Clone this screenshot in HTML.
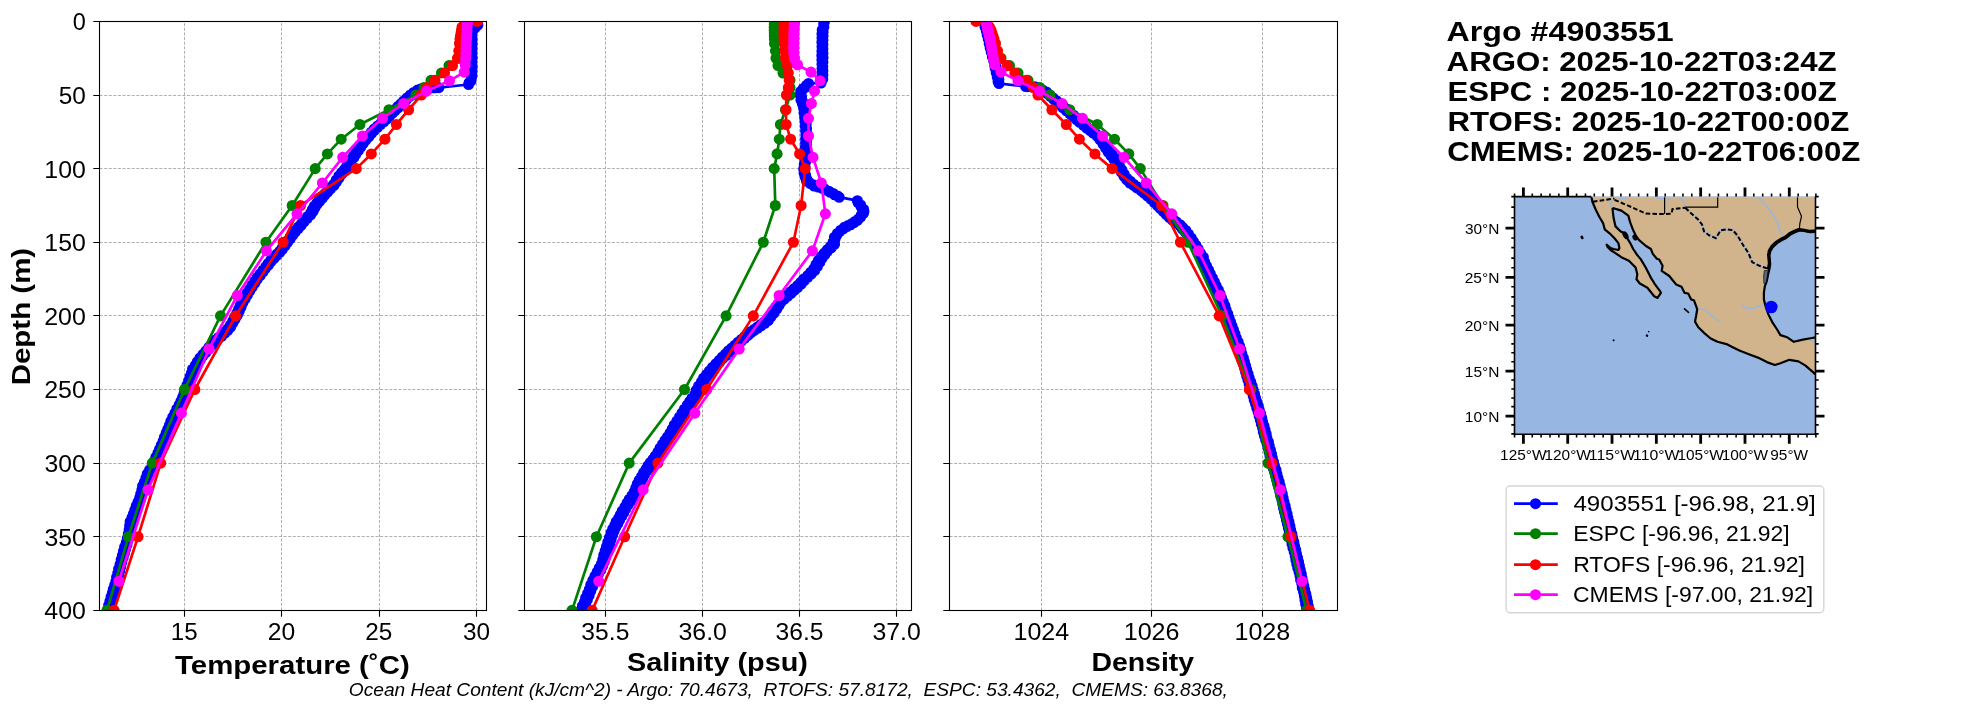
<!DOCTYPE html>
<html><head><meta charset="utf-8"><title>Argo profile</title>
<style>html,body{margin:0;padding:0;background:#fff;}svg{display:block;}text{font-family:"Liberation Sans",sans-serif;fill:#000;}</style>
</head><body>
<div style="will-change:transform;width:1967px;height:712px">
<svg width="1967" height="712" viewBox="0 0 1967 712">
<rect width="1967" height="712" fill="#fff"/>
<defs>
<clipPath id="c0"><rect x="99.5" y="21.4" width="387" height="589"/></clipPath>
<clipPath id="c1"><rect x="524.5" y="21.4" width="387" height="589"/></clipPath>
<clipPath id="c2"><rect x="949.5" y="21.4" width="388" height="589"/></clipPath>
<clipPath id="cm"><rect x="1514.5" y="196.6" width="301" height="237.6"/></clipPath>
</defs>
<path d="M99.5 21.5H486.5M99.5 95.5H486.5M99.5 168.5H486.5M99.5 242.5H486.5M99.5 315.5H486.5M99.5 389.5H486.5M99.5 463.5H486.5M99.5 536.5H486.5M99.5 610.5H486.5" stroke="#b0b0b0" stroke-width="1" stroke-dasharray="3.05 1.55" fill="none"/>
<path d="M184.5 610.5V21.5M281.5 610.5V21.5M379.5 610.5V21.5M476.5 610.5V21.5" stroke="#b0b0b0" stroke-width="1" stroke-dasharray="3.05 1.55" fill="none"/>
<path d="M524.5 21.5H911.5M524.5 95.5H911.5M524.5 168.5H911.5M524.5 242.5H911.5M524.5 315.5H911.5M524.5 389.5H911.5M524.5 463.5H911.5M524.5 536.5H911.5M524.5 610.5H911.5" stroke="#b0b0b0" stroke-width="1" stroke-dasharray="3.05 1.55" fill="none"/>
<path d="M605.5 610.5V21.5M702.5 610.5V21.5M799.5 610.5V21.5M896.5 610.5V21.5" stroke="#b0b0b0" stroke-width="1" stroke-dasharray="3.05 1.55" fill="none"/>
<path d="M949.5 21.5H1337.5M949.5 95.5H1337.5M949.5 168.5H1337.5M949.5 242.5H1337.5M949.5 315.5H1337.5M949.5 389.5H1337.5M949.5 463.5H1337.5M949.5 536.5H1337.5M949.5 610.5H1337.5" stroke="#b0b0b0" stroke-width="1" stroke-dasharray="3.05 1.55" fill="none"/>
<path d="M1041.5 610.5V21.5M1151.5 610.5V21.5M1262.5 610.5V21.5" stroke="#b0b0b0" stroke-width="1" stroke-dasharray="3.05 1.55" fill="none"/>
<g clip-path="url(#c0)"><polyline points="477.2,21.4 476.74,23 477.84,25 476.08,26.5 474.98,28 472.03,29.5 472.32,31 471.2,33 472.08,35 471.33,37.27 472.26,39.55 471.24,41.82 472.24,44.09 471.34,46.36 472.17,48.64 471.17,50.91 472.11,53.18 471.11,55.45 472.28,57.73 471.33,60 472.07,62.25 471.21,64.5 472.29,66.75 471.25,69 472.11,71.25 471.24,73.5 472.07,75.75 471.29,78 470.97,81 469.07,82.75 468.6,84.5 438.8,87.6 435.94,87.7 434.37,87.8 431.02,87.9 429.37,88 426.19,88.25 424.99,88.5 421.74,88.75 420.4,89 417.4,90.17 416.57,91.33 413.61,92.5 412.77,93.83 410.13,95.17 409.53,96.5 406.92,98 406.46,99.5 403.66,101 403.85,102.37 400.98,103.73 400.95,105.1 397.9,106.48 398.16,107.86 395.16,109.24 395.19,110.62 392.45,112 392.27,113.44 389.45,114.88 389.61,116.32 386.96,117.76 386.94,119.2 383.86,120.53 383.88,121.85 380.88,123.17 380.7,124.5 377.58,126 377.42,127.5 374.17,129 374.23,130.5 371.48,132 371.4,133.5 368.94,135 368.83,136.73 365.67,138.47 365.85,140.2 363.14,141.9 363.15,143.6 360.55,145.3 360.89,147 358.01,148.82 358.38,150.65 355.63,152.48 355.92,154.3 353.38,155.98 353.78,157.65 350.95,159.32 351.21,161 348.86,162.82 349.24,164.65 346.62,166.48 347.04,168.3 344.3,169.73 344.59,171.15 341.52,172.57 341.81,174 338.84,176 339.06,178 336.26,180 336.44,182 333.94,184 333.85,185.6 330.75,187.2 330.61,188.8 327.78,190.4 327.71,192 324.93,193.6 324.86,195.2 322.07,196.8 322.16,198.4 319.24,200 319.45,201.5 316.95,203 316.87,204.5 314.4,206 314.88,207.75 312.4,209.5 313.2,211.25 310.67,213 310.71,214.75 307.62,216.5 307.47,218.25 304.22,220 304.07,221.83 301.45,223.67 301.05,225.5 298.19,227.12 298.13,228.75 295.42,230.38 295.26,232 292.59,233.72 292.57,235.43 290.15,237.15 290.23,238.87 287.65,240.58 287.64,242.3 284.9,244.04 285.1,245.78 282.44,247.52 282.51,249.26 279.95,251 279.68,252.53 276.81,254.07 276.61,255.6 273.92,257.13 273.86,258.67 270.78,260.2 270.83,261.83 268.18,263.47 268.48,265.1 265.82,266.73 265.63,268.37 263.21,270 263.14,271.86 260.28,273.72 260.21,275.58 257.18,277.44 257.24,279.3 254.63,281.25 254.89,283.2 251.92,285.15 252.23,287.1 249.63,289.05 249.77,291 247.15,293.03 247.41,295.07 244.84,297.1 245.1,299.13 242.61,301.17 242.65,303.2 240.19,305.22 241.02,307.23 238.6,309.25 239.18,311.27 236.76,313.28 237.38,315.3 234.63,317.27 235.06,319.23 232.67,321.2 232.78,323.17 230.31,325.13 230.65,327.1 227.75,328.68 227.95,330.26 224.79,331.84 224.62,333.42 221.65,335 221.77,336.25 218.46,337.5 218.35,338.75 215.32,340 215.06,341.8 212.19,343.6 211.98,345.4 208.9,347.2 208.61,349 205.94,350.8 205.82,352.6 202.91,354.4 202.8,356.2 199.94,358 200.27,359.83 197.37,361.67 197.6,363.5 195.25,365.33 195.34,367.17 192.6,369 193.66,370.93 191.5,372.87 192.12,374.8 190.05,376.73 191.01,378.67 188.62,380.6 189.31,382.85 186.94,385.1 187.74,387.35 185.39,389.6 186.28,391.51 184.05,393.43 184.76,395.34 182.67,397.26 183.13,399.17 180.95,401.09 181.72,403 179.14,405 179.56,407 176.81,409 177.17,411 174.86,413.07 175.19,415.15 172.72,417.23 173.36,419.3 170.87,421.25 171.76,423.2 169.46,425.15 169.94,427.1 167.77,429.05 168.05,431 166.18,433.03 166.85,435.07 164.43,437.1 165.34,439.13 163.09,441.17 163.76,443.2 161.28,445.16 161.88,447.12 159.55,449.08 160.02,451.04 157.93,453 158.24,455.1 155.84,457.2 156.54,459.3 154.03,461.4 154.7,463.5 152.16,465.6 152.42,467.7 149.56,469.8 149.74,471.9 147.22,474 147.82,476 145.92,478 146.61,480 144.45,482 144.88,484 142.6,486 143.66,487.95 141.85,489.9 142.5,491.85 140.74,493.8 141.64,495.75 139.72,497.7 140.37,499.75 138.02,501.8 138.79,503.85 136.23,505.9 136.95,507.95 134.87,510 135.46,511.93 133.42,513.87 134.02,515.8 131.95,517.73 132.29,519.67 130.11,521.6 131.35,523.64 129.65,525.69 130.8,527.73 129.15,529.77 130.06,531.81 128.33,533.86 129.79,535.9 127.33,538.12 128.12,540.34 126.24,542.56 126.94,544.78 124.61,547 125.62,549.08 123.47,551.16 124.42,553.24 122.39,555.32 123.13,557.4 121.17,559.72 121.87,562.04 120.09,564.36 120.72,566.68 118.61,569 119.7,571.05 117.73,573.1 118.77,575.15 116.62,577.2 117.68,579.25 115.85,581.3 116.57,583.25 114.68,585.2 115.59,587.15 113.31,589.1 114.23,591.05 112.34,593 113.12,595.02 111.02,597.03 111.9,599.05 109.91,601.07 110.46,603.08 108.67,605.1 109.42,607.33 107.66,609.55 108.52,611.77 107.5,614" fill="none" stroke="#0000ff" stroke-width="2.7" stroke-linejoin="round"/><path d="M477.2 21.4m-5.55 0a5.55 5.55 0 1 0 11.1 0a5.55 5.55 0 1 0 -11.1 0M476.74 23m-5.55 0a5.55 5.55 0 1 0 11.1 0a5.55 5.55 0 1 0 -11.1 0M477.84 25m-5.55 0a5.55 5.55 0 1 0 11.1 0a5.55 5.55 0 1 0 -11.1 0M476.08 26.5m-5.55 0a5.55 5.55 0 1 0 11.1 0a5.55 5.55 0 1 0 -11.1 0M474.98 28m-5.55 0a5.55 5.55 0 1 0 11.1 0a5.55 5.55 0 1 0 -11.1 0M472.03 29.5m-5.55 0a5.55 5.55 0 1 0 11.1 0a5.55 5.55 0 1 0 -11.1 0M472.32 31m-5.55 0a5.55 5.55 0 1 0 11.1 0a5.55 5.55 0 1 0 -11.1 0M471.2 33m-5.55 0a5.55 5.55 0 1 0 11.1 0a5.55 5.55 0 1 0 -11.1 0M472.08 35m-5.55 0a5.55 5.55 0 1 0 11.1 0a5.55 5.55 0 1 0 -11.1 0M471.33 37.27m-5.55 0a5.55 5.55 0 1 0 11.1 0a5.55 5.55 0 1 0 -11.1 0M472.26 39.55m-5.55 0a5.55 5.55 0 1 0 11.1 0a5.55 5.55 0 1 0 -11.1 0M471.24 41.82m-5.55 0a5.55 5.55 0 1 0 11.1 0a5.55 5.55 0 1 0 -11.1 0M472.24 44.09m-5.55 0a5.55 5.55 0 1 0 11.1 0a5.55 5.55 0 1 0 -11.1 0M471.34 46.36m-5.55 0a5.55 5.55 0 1 0 11.1 0a5.55 5.55 0 1 0 -11.1 0M472.17 48.64m-5.55 0a5.55 5.55 0 1 0 11.1 0a5.55 5.55 0 1 0 -11.1 0M471.17 50.91m-5.55 0a5.55 5.55 0 1 0 11.1 0a5.55 5.55 0 1 0 -11.1 0M472.11 53.18m-5.55 0a5.55 5.55 0 1 0 11.1 0a5.55 5.55 0 1 0 -11.1 0M471.11 55.45m-5.55 0a5.55 5.55 0 1 0 11.1 0a5.55 5.55 0 1 0 -11.1 0M472.28 57.73m-5.55 0a5.55 5.55 0 1 0 11.1 0a5.55 5.55 0 1 0 -11.1 0M471.33 60m-5.55 0a5.55 5.55 0 1 0 11.1 0a5.55 5.55 0 1 0 -11.1 0M472.07 62.25m-5.55 0a5.55 5.55 0 1 0 11.1 0a5.55 5.55 0 1 0 -11.1 0M471.21 64.5m-5.55 0a5.55 5.55 0 1 0 11.1 0a5.55 5.55 0 1 0 -11.1 0M472.29 66.75m-5.55 0a5.55 5.55 0 1 0 11.1 0a5.55 5.55 0 1 0 -11.1 0M471.25 69m-5.55 0a5.55 5.55 0 1 0 11.1 0a5.55 5.55 0 1 0 -11.1 0M472.11 71.25m-5.55 0a5.55 5.55 0 1 0 11.1 0a5.55 5.55 0 1 0 -11.1 0M471.24 73.5m-5.55 0a5.55 5.55 0 1 0 11.1 0a5.55 5.55 0 1 0 -11.1 0M472.07 75.75m-5.55 0a5.55 5.55 0 1 0 11.1 0a5.55 5.55 0 1 0 -11.1 0M471.29 78m-5.55 0a5.55 5.55 0 1 0 11.1 0a5.55 5.55 0 1 0 -11.1 0M470.97 81m-5.55 0a5.55 5.55 0 1 0 11.1 0a5.55 5.55 0 1 0 -11.1 0M469.07 82.75m-5.55 0a5.55 5.55 0 1 0 11.1 0a5.55 5.55 0 1 0 -11.1 0M468.6 84.5m-5.55 0a5.55 5.55 0 1 0 11.1 0a5.55 5.55 0 1 0 -11.1 0M438.8 87.6m-5.55 0a5.55 5.55 0 1 0 11.1 0a5.55 5.55 0 1 0 -11.1 0M435.94 87.7m-5.55 0a5.55 5.55 0 1 0 11.1 0a5.55 5.55 0 1 0 -11.1 0M434.37 87.8m-5.55 0a5.55 5.55 0 1 0 11.1 0a5.55 5.55 0 1 0 -11.1 0M431.02 87.9m-5.55 0a5.55 5.55 0 1 0 11.1 0a5.55 5.55 0 1 0 -11.1 0M429.37 88m-5.55 0a5.55 5.55 0 1 0 11.1 0a5.55 5.55 0 1 0 -11.1 0M426.19 88.25m-5.55 0a5.55 5.55 0 1 0 11.1 0a5.55 5.55 0 1 0 -11.1 0M424.99 88.5m-5.55 0a5.55 5.55 0 1 0 11.1 0a5.55 5.55 0 1 0 -11.1 0M421.74 88.75m-5.55 0a5.55 5.55 0 1 0 11.1 0a5.55 5.55 0 1 0 -11.1 0M420.4 89m-5.55 0a5.55 5.55 0 1 0 11.1 0a5.55 5.55 0 1 0 -11.1 0M417.4 90.17m-5.55 0a5.55 5.55 0 1 0 11.1 0a5.55 5.55 0 1 0 -11.1 0M416.57 91.33m-5.55 0a5.55 5.55 0 1 0 11.1 0a5.55 5.55 0 1 0 -11.1 0M413.61 92.5m-5.55 0a5.55 5.55 0 1 0 11.1 0a5.55 5.55 0 1 0 -11.1 0M412.77 93.83m-5.55 0a5.55 5.55 0 1 0 11.1 0a5.55 5.55 0 1 0 -11.1 0M410.13 95.17m-5.55 0a5.55 5.55 0 1 0 11.1 0a5.55 5.55 0 1 0 -11.1 0M409.53 96.5m-5.55 0a5.55 5.55 0 1 0 11.1 0a5.55 5.55 0 1 0 -11.1 0M406.92 98m-5.55 0a5.55 5.55 0 1 0 11.1 0a5.55 5.55 0 1 0 -11.1 0M406.46 99.5m-5.55 0a5.55 5.55 0 1 0 11.1 0a5.55 5.55 0 1 0 -11.1 0M403.66 101m-5.55 0a5.55 5.55 0 1 0 11.1 0a5.55 5.55 0 1 0 -11.1 0M403.85 102.37m-5.55 0a5.55 5.55 0 1 0 11.1 0a5.55 5.55 0 1 0 -11.1 0M400.98 103.73m-5.55 0a5.55 5.55 0 1 0 11.1 0a5.55 5.55 0 1 0 -11.1 0M400.95 105.1m-5.55 0a5.55 5.55 0 1 0 11.1 0a5.55 5.55 0 1 0 -11.1 0M397.9 106.48m-5.55 0a5.55 5.55 0 1 0 11.1 0a5.55 5.55 0 1 0 -11.1 0M398.16 107.86m-5.55 0a5.55 5.55 0 1 0 11.1 0a5.55 5.55 0 1 0 -11.1 0M395.16 109.24m-5.55 0a5.55 5.55 0 1 0 11.1 0a5.55 5.55 0 1 0 -11.1 0M395.19 110.62m-5.55 0a5.55 5.55 0 1 0 11.1 0a5.55 5.55 0 1 0 -11.1 0M392.45 112m-5.55 0a5.55 5.55 0 1 0 11.1 0a5.55 5.55 0 1 0 -11.1 0M392.27 113.44m-5.55 0a5.55 5.55 0 1 0 11.1 0a5.55 5.55 0 1 0 -11.1 0M389.45 114.88m-5.55 0a5.55 5.55 0 1 0 11.1 0a5.55 5.55 0 1 0 -11.1 0M389.61 116.32m-5.55 0a5.55 5.55 0 1 0 11.1 0a5.55 5.55 0 1 0 -11.1 0M386.96 117.76m-5.55 0a5.55 5.55 0 1 0 11.1 0a5.55 5.55 0 1 0 -11.1 0M386.94 119.2m-5.55 0a5.55 5.55 0 1 0 11.1 0a5.55 5.55 0 1 0 -11.1 0M383.86 120.53m-5.55 0a5.55 5.55 0 1 0 11.1 0a5.55 5.55 0 1 0 -11.1 0M383.88 121.85m-5.55 0a5.55 5.55 0 1 0 11.1 0a5.55 5.55 0 1 0 -11.1 0M380.88 123.17m-5.55 0a5.55 5.55 0 1 0 11.1 0a5.55 5.55 0 1 0 -11.1 0M380.7 124.5m-5.55 0a5.55 5.55 0 1 0 11.1 0a5.55 5.55 0 1 0 -11.1 0M377.58 126m-5.55 0a5.55 5.55 0 1 0 11.1 0a5.55 5.55 0 1 0 -11.1 0M377.42 127.5m-5.55 0a5.55 5.55 0 1 0 11.1 0a5.55 5.55 0 1 0 -11.1 0M374.17 129m-5.55 0a5.55 5.55 0 1 0 11.1 0a5.55 5.55 0 1 0 -11.1 0M374.23 130.5m-5.55 0a5.55 5.55 0 1 0 11.1 0a5.55 5.55 0 1 0 -11.1 0M371.48 132m-5.55 0a5.55 5.55 0 1 0 11.1 0a5.55 5.55 0 1 0 -11.1 0M371.4 133.5m-5.55 0a5.55 5.55 0 1 0 11.1 0a5.55 5.55 0 1 0 -11.1 0M368.94 135m-5.55 0a5.55 5.55 0 1 0 11.1 0a5.55 5.55 0 1 0 -11.1 0M368.83 136.73m-5.55 0a5.55 5.55 0 1 0 11.1 0a5.55 5.55 0 1 0 -11.1 0M365.67 138.47m-5.55 0a5.55 5.55 0 1 0 11.1 0a5.55 5.55 0 1 0 -11.1 0M365.85 140.2m-5.55 0a5.55 5.55 0 1 0 11.1 0a5.55 5.55 0 1 0 -11.1 0M363.14 141.9m-5.55 0a5.55 5.55 0 1 0 11.1 0a5.55 5.55 0 1 0 -11.1 0M363.15 143.6m-5.55 0a5.55 5.55 0 1 0 11.1 0a5.55 5.55 0 1 0 -11.1 0M360.55 145.3m-5.55 0a5.55 5.55 0 1 0 11.1 0a5.55 5.55 0 1 0 -11.1 0M360.89 147m-5.55 0a5.55 5.55 0 1 0 11.1 0a5.55 5.55 0 1 0 -11.1 0M358.01 148.82m-5.55 0a5.55 5.55 0 1 0 11.1 0a5.55 5.55 0 1 0 -11.1 0M358.38 150.65m-5.55 0a5.55 5.55 0 1 0 11.1 0a5.55 5.55 0 1 0 -11.1 0M355.63 152.48m-5.55 0a5.55 5.55 0 1 0 11.1 0a5.55 5.55 0 1 0 -11.1 0M355.92 154.3m-5.55 0a5.55 5.55 0 1 0 11.1 0a5.55 5.55 0 1 0 -11.1 0M353.38 155.98m-5.55 0a5.55 5.55 0 1 0 11.1 0a5.55 5.55 0 1 0 -11.1 0M353.78 157.65m-5.55 0a5.55 5.55 0 1 0 11.1 0a5.55 5.55 0 1 0 -11.1 0M350.95 159.32m-5.55 0a5.55 5.55 0 1 0 11.1 0a5.55 5.55 0 1 0 -11.1 0M351.21 161m-5.55 0a5.55 5.55 0 1 0 11.1 0a5.55 5.55 0 1 0 -11.1 0M348.86 162.82m-5.55 0a5.55 5.55 0 1 0 11.1 0a5.55 5.55 0 1 0 -11.1 0M349.24 164.65m-5.55 0a5.55 5.55 0 1 0 11.1 0a5.55 5.55 0 1 0 -11.1 0M346.62 166.48m-5.55 0a5.55 5.55 0 1 0 11.1 0a5.55 5.55 0 1 0 -11.1 0M347.04 168.3m-5.55 0a5.55 5.55 0 1 0 11.1 0a5.55 5.55 0 1 0 -11.1 0M344.3 169.73m-5.55 0a5.55 5.55 0 1 0 11.1 0a5.55 5.55 0 1 0 -11.1 0M344.59 171.15m-5.55 0a5.55 5.55 0 1 0 11.1 0a5.55 5.55 0 1 0 -11.1 0M341.52 172.57m-5.55 0a5.55 5.55 0 1 0 11.1 0a5.55 5.55 0 1 0 -11.1 0M341.81 174m-5.55 0a5.55 5.55 0 1 0 11.1 0a5.55 5.55 0 1 0 -11.1 0M338.84 176m-5.55 0a5.55 5.55 0 1 0 11.1 0a5.55 5.55 0 1 0 -11.1 0M339.06 178m-5.55 0a5.55 5.55 0 1 0 11.1 0a5.55 5.55 0 1 0 -11.1 0M336.26 180m-5.55 0a5.55 5.55 0 1 0 11.1 0a5.55 5.55 0 1 0 -11.1 0M336.44 182m-5.55 0a5.55 5.55 0 1 0 11.1 0a5.55 5.55 0 1 0 -11.1 0M333.94 184m-5.55 0a5.55 5.55 0 1 0 11.1 0a5.55 5.55 0 1 0 -11.1 0M333.85 185.6m-5.55 0a5.55 5.55 0 1 0 11.1 0a5.55 5.55 0 1 0 -11.1 0M330.75 187.2m-5.55 0a5.55 5.55 0 1 0 11.1 0a5.55 5.55 0 1 0 -11.1 0M330.61 188.8m-5.55 0a5.55 5.55 0 1 0 11.1 0a5.55 5.55 0 1 0 -11.1 0M327.78 190.4m-5.55 0a5.55 5.55 0 1 0 11.1 0a5.55 5.55 0 1 0 -11.1 0M327.71 192m-5.55 0a5.55 5.55 0 1 0 11.1 0a5.55 5.55 0 1 0 -11.1 0M324.93 193.6m-5.55 0a5.55 5.55 0 1 0 11.1 0a5.55 5.55 0 1 0 -11.1 0M324.86 195.2m-5.55 0a5.55 5.55 0 1 0 11.1 0a5.55 5.55 0 1 0 -11.1 0M322.07 196.8m-5.55 0a5.55 5.55 0 1 0 11.1 0a5.55 5.55 0 1 0 -11.1 0M322.16 198.4m-5.55 0a5.55 5.55 0 1 0 11.1 0a5.55 5.55 0 1 0 -11.1 0M319.24 200m-5.55 0a5.55 5.55 0 1 0 11.1 0a5.55 5.55 0 1 0 -11.1 0M319.45 201.5m-5.55 0a5.55 5.55 0 1 0 11.1 0a5.55 5.55 0 1 0 -11.1 0M316.95 203m-5.55 0a5.55 5.55 0 1 0 11.1 0a5.55 5.55 0 1 0 -11.1 0M316.87 204.5m-5.55 0a5.55 5.55 0 1 0 11.1 0a5.55 5.55 0 1 0 -11.1 0M314.4 206m-5.55 0a5.55 5.55 0 1 0 11.1 0a5.55 5.55 0 1 0 -11.1 0M314.88 207.75m-5.55 0a5.55 5.55 0 1 0 11.1 0a5.55 5.55 0 1 0 -11.1 0M312.4 209.5m-5.55 0a5.55 5.55 0 1 0 11.1 0a5.55 5.55 0 1 0 -11.1 0M313.2 211.25m-5.55 0a5.55 5.55 0 1 0 11.1 0a5.55 5.55 0 1 0 -11.1 0M310.67 213m-5.55 0a5.55 5.55 0 1 0 11.1 0a5.55 5.55 0 1 0 -11.1 0M310.71 214.75m-5.55 0a5.55 5.55 0 1 0 11.1 0a5.55 5.55 0 1 0 -11.1 0M307.62 216.5m-5.55 0a5.55 5.55 0 1 0 11.1 0a5.55 5.55 0 1 0 -11.1 0M307.47 218.25m-5.55 0a5.55 5.55 0 1 0 11.1 0a5.55 5.55 0 1 0 -11.1 0M304.22 220m-5.55 0a5.55 5.55 0 1 0 11.1 0a5.55 5.55 0 1 0 -11.1 0M304.07 221.83m-5.55 0a5.55 5.55 0 1 0 11.1 0a5.55 5.55 0 1 0 -11.1 0M301.45 223.67m-5.55 0a5.55 5.55 0 1 0 11.1 0a5.55 5.55 0 1 0 -11.1 0M301.05 225.5m-5.55 0a5.55 5.55 0 1 0 11.1 0a5.55 5.55 0 1 0 -11.1 0M298.19 227.12m-5.55 0a5.55 5.55 0 1 0 11.1 0a5.55 5.55 0 1 0 -11.1 0M298.13 228.75m-5.55 0a5.55 5.55 0 1 0 11.1 0a5.55 5.55 0 1 0 -11.1 0M295.42 230.38m-5.55 0a5.55 5.55 0 1 0 11.1 0a5.55 5.55 0 1 0 -11.1 0M295.26 232m-5.55 0a5.55 5.55 0 1 0 11.1 0a5.55 5.55 0 1 0 -11.1 0M292.59 233.72m-5.55 0a5.55 5.55 0 1 0 11.1 0a5.55 5.55 0 1 0 -11.1 0M292.57 235.43m-5.55 0a5.55 5.55 0 1 0 11.1 0a5.55 5.55 0 1 0 -11.1 0M290.15 237.15m-5.55 0a5.55 5.55 0 1 0 11.1 0a5.55 5.55 0 1 0 -11.1 0M290.23 238.87m-5.55 0a5.55 5.55 0 1 0 11.1 0a5.55 5.55 0 1 0 -11.1 0M287.65 240.58m-5.55 0a5.55 5.55 0 1 0 11.1 0a5.55 5.55 0 1 0 -11.1 0M287.64 242.3m-5.55 0a5.55 5.55 0 1 0 11.1 0a5.55 5.55 0 1 0 -11.1 0M284.9 244.04m-5.55 0a5.55 5.55 0 1 0 11.1 0a5.55 5.55 0 1 0 -11.1 0M285.1 245.78m-5.55 0a5.55 5.55 0 1 0 11.1 0a5.55 5.55 0 1 0 -11.1 0M282.44 247.52m-5.55 0a5.55 5.55 0 1 0 11.1 0a5.55 5.55 0 1 0 -11.1 0M282.51 249.26m-5.55 0a5.55 5.55 0 1 0 11.1 0a5.55 5.55 0 1 0 -11.1 0M279.95 251m-5.55 0a5.55 5.55 0 1 0 11.1 0a5.55 5.55 0 1 0 -11.1 0M279.68 252.53m-5.55 0a5.55 5.55 0 1 0 11.1 0a5.55 5.55 0 1 0 -11.1 0M276.81 254.07m-5.55 0a5.55 5.55 0 1 0 11.1 0a5.55 5.55 0 1 0 -11.1 0M276.61 255.6m-5.55 0a5.55 5.55 0 1 0 11.1 0a5.55 5.55 0 1 0 -11.1 0M273.92 257.13m-5.55 0a5.55 5.55 0 1 0 11.1 0a5.55 5.55 0 1 0 -11.1 0M273.86 258.67m-5.55 0a5.55 5.55 0 1 0 11.1 0a5.55 5.55 0 1 0 -11.1 0M270.78 260.2m-5.55 0a5.55 5.55 0 1 0 11.1 0a5.55 5.55 0 1 0 -11.1 0M270.83 261.83m-5.55 0a5.55 5.55 0 1 0 11.1 0a5.55 5.55 0 1 0 -11.1 0M268.18 263.47m-5.55 0a5.55 5.55 0 1 0 11.1 0a5.55 5.55 0 1 0 -11.1 0M268.48 265.1m-5.55 0a5.55 5.55 0 1 0 11.1 0a5.55 5.55 0 1 0 -11.1 0M265.82 266.73m-5.55 0a5.55 5.55 0 1 0 11.1 0a5.55 5.55 0 1 0 -11.1 0M265.63 268.37m-5.55 0a5.55 5.55 0 1 0 11.1 0a5.55 5.55 0 1 0 -11.1 0M263.21 270m-5.55 0a5.55 5.55 0 1 0 11.1 0a5.55 5.55 0 1 0 -11.1 0M263.14 271.86m-5.55 0a5.55 5.55 0 1 0 11.1 0a5.55 5.55 0 1 0 -11.1 0M260.28 273.72m-5.55 0a5.55 5.55 0 1 0 11.1 0a5.55 5.55 0 1 0 -11.1 0M260.21 275.58m-5.55 0a5.55 5.55 0 1 0 11.1 0a5.55 5.55 0 1 0 -11.1 0M257.18 277.44m-5.55 0a5.55 5.55 0 1 0 11.1 0a5.55 5.55 0 1 0 -11.1 0M257.24 279.3m-5.55 0a5.55 5.55 0 1 0 11.1 0a5.55 5.55 0 1 0 -11.1 0M254.63 281.25m-5.55 0a5.55 5.55 0 1 0 11.1 0a5.55 5.55 0 1 0 -11.1 0M254.89 283.2m-5.55 0a5.55 5.55 0 1 0 11.1 0a5.55 5.55 0 1 0 -11.1 0M251.92 285.15m-5.55 0a5.55 5.55 0 1 0 11.1 0a5.55 5.55 0 1 0 -11.1 0M252.23 287.1m-5.55 0a5.55 5.55 0 1 0 11.1 0a5.55 5.55 0 1 0 -11.1 0M249.63 289.05m-5.55 0a5.55 5.55 0 1 0 11.1 0a5.55 5.55 0 1 0 -11.1 0M249.77 291m-5.55 0a5.55 5.55 0 1 0 11.1 0a5.55 5.55 0 1 0 -11.1 0M247.15 293.03m-5.55 0a5.55 5.55 0 1 0 11.1 0a5.55 5.55 0 1 0 -11.1 0M247.41 295.07m-5.55 0a5.55 5.55 0 1 0 11.1 0a5.55 5.55 0 1 0 -11.1 0M244.84 297.1m-5.55 0a5.55 5.55 0 1 0 11.1 0a5.55 5.55 0 1 0 -11.1 0M245.1 299.13m-5.55 0a5.55 5.55 0 1 0 11.1 0a5.55 5.55 0 1 0 -11.1 0M242.61 301.17m-5.55 0a5.55 5.55 0 1 0 11.1 0a5.55 5.55 0 1 0 -11.1 0M242.65 303.2m-5.55 0a5.55 5.55 0 1 0 11.1 0a5.55 5.55 0 1 0 -11.1 0M240.19 305.22m-5.55 0a5.55 5.55 0 1 0 11.1 0a5.55 5.55 0 1 0 -11.1 0M241.02 307.23m-5.55 0a5.55 5.55 0 1 0 11.1 0a5.55 5.55 0 1 0 -11.1 0M238.6 309.25m-5.55 0a5.55 5.55 0 1 0 11.1 0a5.55 5.55 0 1 0 -11.1 0M239.18 311.27m-5.55 0a5.55 5.55 0 1 0 11.1 0a5.55 5.55 0 1 0 -11.1 0M236.76 313.28m-5.55 0a5.55 5.55 0 1 0 11.1 0a5.55 5.55 0 1 0 -11.1 0M237.38 315.3m-5.55 0a5.55 5.55 0 1 0 11.1 0a5.55 5.55 0 1 0 -11.1 0M234.63 317.27m-5.55 0a5.55 5.55 0 1 0 11.1 0a5.55 5.55 0 1 0 -11.1 0M235.06 319.23m-5.55 0a5.55 5.55 0 1 0 11.1 0a5.55 5.55 0 1 0 -11.1 0M232.67 321.2m-5.55 0a5.55 5.55 0 1 0 11.1 0a5.55 5.55 0 1 0 -11.1 0M232.78 323.17m-5.55 0a5.55 5.55 0 1 0 11.1 0a5.55 5.55 0 1 0 -11.1 0M230.31 325.13m-5.55 0a5.55 5.55 0 1 0 11.1 0a5.55 5.55 0 1 0 -11.1 0M230.65 327.1m-5.55 0a5.55 5.55 0 1 0 11.1 0a5.55 5.55 0 1 0 -11.1 0M227.75 328.68m-5.55 0a5.55 5.55 0 1 0 11.1 0a5.55 5.55 0 1 0 -11.1 0M227.95 330.26m-5.55 0a5.55 5.55 0 1 0 11.1 0a5.55 5.55 0 1 0 -11.1 0M224.79 331.84m-5.55 0a5.55 5.55 0 1 0 11.1 0a5.55 5.55 0 1 0 -11.1 0M224.62 333.42m-5.55 0a5.55 5.55 0 1 0 11.1 0a5.55 5.55 0 1 0 -11.1 0M221.65 335m-5.55 0a5.55 5.55 0 1 0 11.1 0a5.55 5.55 0 1 0 -11.1 0M221.77 336.25m-5.55 0a5.55 5.55 0 1 0 11.1 0a5.55 5.55 0 1 0 -11.1 0M218.46 337.5m-5.55 0a5.55 5.55 0 1 0 11.1 0a5.55 5.55 0 1 0 -11.1 0M218.35 338.75m-5.55 0a5.55 5.55 0 1 0 11.1 0a5.55 5.55 0 1 0 -11.1 0M215.32 340m-5.55 0a5.55 5.55 0 1 0 11.1 0a5.55 5.55 0 1 0 -11.1 0M215.06 341.8m-5.55 0a5.55 5.55 0 1 0 11.1 0a5.55 5.55 0 1 0 -11.1 0M212.19 343.6m-5.55 0a5.55 5.55 0 1 0 11.1 0a5.55 5.55 0 1 0 -11.1 0M211.98 345.4m-5.55 0a5.55 5.55 0 1 0 11.1 0a5.55 5.55 0 1 0 -11.1 0M208.9 347.2m-5.55 0a5.55 5.55 0 1 0 11.1 0a5.55 5.55 0 1 0 -11.1 0M208.61 349m-5.55 0a5.55 5.55 0 1 0 11.1 0a5.55 5.55 0 1 0 -11.1 0M205.94 350.8m-5.55 0a5.55 5.55 0 1 0 11.1 0a5.55 5.55 0 1 0 -11.1 0M205.82 352.6m-5.55 0a5.55 5.55 0 1 0 11.1 0a5.55 5.55 0 1 0 -11.1 0M202.91 354.4m-5.55 0a5.55 5.55 0 1 0 11.1 0a5.55 5.55 0 1 0 -11.1 0M202.8 356.2m-5.55 0a5.55 5.55 0 1 0 11.1 0a5.55 5.55 0 1 0 -11.1 0M199.94 358m-5.55 0a5.55 5.55 0 1 0 11.1 0a5.55 5.55 0 1 0 -11.1 0M200.27 359.83m-5.55 0a5.55 5.55 0 1 0 11.1 0a5.55 5.55 0 1 0 -11.1 0M197.37 361.67m-5.55 0a5.55 5.55 0 1 0 11.1 0a5.55 5.55 0 1 0 -11.1 0M197.6 363.5m-5.55 0a5.55 5.55 0 1 0 11.1 0a5.55 5.55 0 1 0 -11.1 0M195.25 365.33m-5.55 0a5.55 5.55 0 1 0 11.1 0a5.55 5.55 0 1 0 -11.1 0M195.34 367.17m-5.55 0a5.55 5.55 0 1 0 11.1 0a5.55 5.55 0 1 0 -11.1 0M192.6 369m-5.55 0a5.55 5.55 0 1 0 11.1 0a5.55 5.55 0 1 0 -11.1 0M193.66 370.93m-5.55 0a5.55 5.55 0 1 0 11.1 0a5.55 5.55 0 1 0 -11.1 0M191.5 372.87m-5.55 0a5.55 5.55 0 1 0 11.1 0a5.55 5.55 0 1 0 -11.1 0M192.12 374.8m-5.55 0a5.55 5.55 0 1 0 11.1 0a5.55 5.55 0 1 0 -11.1 0M190.05 376.73m-5.55 0a5.55 5.55 0 1 0 11.1 0a5.55 5.55 0 1 0 -11.1 0M191.01 378.67m-5.55 0a5.55 5.55 0 1 0 11.1 0a5.55 5.55 0 1 0 -11.1 0M188.62 380.6m-5.55 0a5.55 5.55 0 1 0 11.1 0a5.55 5.55 0 1 0 -11.1 0M189.31 382.85m-5.55 0a5.55 5.55 0 1 0 11.1 0a5.55 5.55 0 1 0 -11.1 0M186.94 385.1m-5.55 0a5.55 5.55 0 1 0 11.1 0a5.55 5.55 0 1 0 -11.1 0M187.74 387.35m-5.55 0a5.55 5.55 0 1 0 11.1 0a5.55 5.55 0 1 0 -11.1 0M185.39 389.6m-5.55 0a5.55 5.55 0 1 0 11.1 0a5.55 5.55 0 1 0 -11.1 0M186.28 391.51m-5.55 0a5.55 5.55 0 1 0 11.1 0a5.55 5.55 0 1 0 -11.1 0M184.05 393.43m-5.55 0a5.55 5.55 0 1 0 11.1 0a5.55 5.55 0 1 0 -11.1 0M184.76 395.34m-5.55 0a5.55 5.55 0 1 0 11.1 0a5.55 5.55 0 1 0 -11.1 0M182.67 397.26m-5.55 0a5.55 5.55 0 1 0 11.1 0a5.55 5.55 0 1 0 -11.1 0M183.13 399.17m-5.55 0a5.55 5.55 0 1 0 11.1 0a5.55 5.55 0 1 0 -11.1 0M180.95 401.09m-5.55 0a5.55 5.55 0 1 0 11.1 0a5.55 5.55 0 1 0 -11.1 0M181.72 403m-5.55 0a5.55 5.55 0 1 0 11.1 0a5.55 5.55 0 1 0 -11.1 0M179.14 405m-5.55 0a5.55 5.55 0 1 0 11.1 0a5.55 5.55 0 1 0 -11.1 0M179.56 407m-5.55 0a5.55 5.55 0 1 0 11.1 0a5.55 5.55 0 1 0 -11.1 0M176.81 409m-5.55 0a5.55 5.55 0 1 0 11.1 0a5.55 5.55 0 1 0 -11.1 0M177.17 411m-5.55 0a5.55 5.55 0 1 0 11.1 0a5.55 5.55 0 1 0 -11.1 0M174.86 413.07m-5.55 0a5.55 5.55 0 1 0 11.1 0a5.55 5.55 0 1 0 -11.1 0M175.19 415.15m-5.55 0a5.55 5.55 0 1 0 11.1 0a5.55 5.55 0 1 0 -11.1 0M172.72 417.23m-5.55 0a5.55 5.55 0 1 0 11.1 0a5.55 5.55 0 1 0 -11.1 0M173.36 419.3m-5.55 0a5.55 5.55 0 1 0 11.1 0a5.55 5.55 0 1 0 -11.1 0M170.87 421.25m-5.55 0a5.55 5.55 0 1 0 11.1 0a5.55 5.55 0 1 0 -11.1 0M171.76 423.2m-5.55 0a5.55 5.55 0 1 0 11.1 0a5.55 5.55 0 1 0 -11.1 0M169.46 425.15m-5.55 0a5.55 5.55 0 1 0 11.1 0a5.55 5.55 0 1 0 -11.1 0M169.94 427.1m-5.55 0a5.55 5.55 0 1 0 11.1 0a5.55 5.55 0 1 0 -11.1 0M167.77 429.05m-5.55 0a5.55 5.55 0 1 0 11.1 0a5.55 5.55 0 1 0 -11.1 0M168.05 431m-5.55 0a5.55 5.55 0 1 0 11.1 0a5.55 5.55 0 1 0 -11.1 0M166.18 433.03m-5.55 0a5.55 5.55 0 1 0 11.1 0a5.55 5.55 0 1 0 -11.1 0M166.85 435.07m-5.55 0a5.55 5.55 0 1 0 11.1 0a5.55 5.55 0 1 0 -11.1 0M164.43 437.1m-5.55 0a5.55 5.55 0 1 0 11.1 0a5.55 5.55 0 1 0 -11.1 0M165.34 439.13m-5.55 0a5.55 5.55 0 1 0 11.1 0a5.55 5.55 0 1 0 -11.1 0M163.09 441.17m-5.55 0a5.55 5.55 0 1 0 11.1 0a5.55 5.55 0 1 0 -11.1 0M163.76 443.2m-5.55 0a5.55 5.55 0 1 0 11.1 0a5.55 5.55 0 1 0 -11.1 0M161.28 445.16m-5.55 0a5.55 5.55 0 1 0 11.1 0a5.55 5.55 0 1 0 -11.1 0M161.88 447.12m-5.55 0a5.55 5.55 0 1 0 11.1 0a5.55 5.55 0 1 0 -11.1 0M159.55 449.08m-5.55 0a5.55 5.55 0 1 0 11.1 0a5.55 5.55 0 1 0 -11.1 0M160.02 451.04m-5.55 0a5.55 5.55 0 1 0 11.1 0a5.55 5.55 0 1 0 -11.1 0M157.93 453m-5.55 0a5.55 5.55 0 1 0 11.1 0a5.55 5.55 0 1 0 -11.1 0M158.24 455.1m-5.55 0a5.55 5.55 0 1 0 11.1 0a5.55 5.55 0 1 0 -11.1 0M155.84 457.2m-5.55 0a5.55 5.55 0 1 0 11.1 0a5.55 5.55 0 1 0 -11.1 0M156.54 459.3m-5.55 0a5.55 5.55 0 1 0 11.1 0a5.55 5.55 0 1 0 -11.1 0M154.03 461.4m-5.55 0a5.55 5.55 0 1 0 11.1 0a5.55 5.55 0 1 0 -11.1 0M154.7 463.5m-5.55 0a5.55 5.55 0 1 0 11.1 0a5.55 5.55 0 1 0 -11.1 0M152.16 465.6m-5.55 0a5.55 5.55 0 1 0 11.1 0a5.55 5.55 0 1 0 -11.1 0M152.42 467.7m-5.55 0a5.55 5.55 0 1 0 11.1 0a5.55 5.55 0 1 0 -11.1 0M149.56 469.8m-5.55 0a5.55 5.55 0 1 0 11.1 0a5.55 5.55 0 1 0 -11.1 0M149.74 471.9m-5.55 0a5.55 5.55 0 1 0 11.1 0a5.55 5.55 0 1 0 -11.1 0M147.22 474m-5.55 0a5.55 5.55 0 1 0 11.1 0a5.55 5.55 0 1 0 -11.1 0M147.82 476m-5.55 0a5.55 5.55 0 1 0 11.1 0a5.55 5.55 0 1 0 -11.1 0M145.92 478m-5.55 0a5.55 5.55 0 1 0 11.1 0a5.55 5.55 0 1 0 -11.1 0M146.61 480m-5.55 0a5.55 5.55 0 1 0 11.1 0a5.55 5.55 0 1 0 -11.1 0M144.45 482m-5.55 0a5.55 5.55 0 1 0 11.1 0a5.55 5.55 0 1 0 -11.1 0M144.88 484m-5.55 0a5.55 5.55 0 1 0 11.1 0a5.55 5.55 0 1 0 -11.1 0M142.6 486m-5.55 0a5.55 5.55 0 1 0 11.1 0a5.55 5.55 0 1 0 -11.1 0M143.66 487.95m-5.55 0a5.55 5.55 0 1 0 11.1 0a5.55 5.55 0 1 0 -11.1 0M141.85 489.9m-5.55 0a5.55 5.55 0 1 0 11.1 0a5.55 5.55 0 1 0 -11.1 0M142.5 491.85m-5.55 0a5.55 5.55 0 1 0 11.1 0a5.55 5.55 0 1 0 -11.1 0M140.74 493.8m-5.55 0a5.55 5.55 0 1 0 11.1 0a5.55 5.55 0 1 0 -11.1 0M141.64 495.75m-5.55 0a5.55 5.55 0 1 0 11.1 0a5.55 5.55 0 1 0 -11.1 0M139.72 497.7m-5.55 0a5.55 5.55 0 1 0 11.1 0a5.55 5.55 0 1 0 -11.1 0M140.37 499.75m-5.55 0a5.55 5.55 0 1 0 11.1 0a5.55 5.55 0 1 0 -11.1 0M138.02 501.8m-5.55 0a5.55 5.55 0 1 0 11.1 0a5.55 5.55 0 1 0 -11.1 0M138.79 503.85m-5.55 0a5.55 5.55 0 1 0 11.1 0a5.55 5.55 0 1 0 -11.1 0M136.23 505.9m-5.55 0a5.55 5.55 0 1 0 11.1 0a5.55 5.55 0 1 0 -11.1 0M136.95 507.95m-5.55 0a5.55 5.55 0 1 0 11.1 0a5.55 5.55 0 1 0 -11.1 0M134.87 510m-5.55 0a5.55 5.55 0 1 0 11.1 0a5.55 5.55 0 1 0 -11.1 0M135.46 511.93m-5.55 0a5.55 5.55 0 1 0 11.1 0a5.55 5.55 0 1 0 -11.1 0M133.42 513.87m-5.55 0a5.55 5.55 0 1 0 11.1 0a5.55 5.55 0 1 0 -11.1 0M134.02 515.8m-5.55 0a5.55 5.55 0 1 0 11.1 0a5.55 5.55 0 1 0 -11.1 0M131.95 517.73m-5.55 0a5.55 5.55 0 1 0 11.1 0a5.55 5.55 0 1 0 -11.1 0M132.29 519.67m-5.55 0a5.55 5.55 0 1 0 11.1 0a5.55 5.55 0 1 0 -11.1 0M130.11 521.6m-5.55 0a5.55 5.55 0 1 0 11.1 0a5.55 5.55 0 1 0 -11.1 0M131.35 523.64m-5.55 0a5.55 5.55 0 1 0 11.1 0a5.55 5.55 0 1 0 -11.1 0M129.65 525.69m-5.55 0a5.55 5.55 0 1 0 11.1 0a5.55 5.55 0 1 0 -11.1 0M130.8 527.73m-5.55 0a5.55 5.55 0 1 0 11.1 0a5.55 5.55 0 1 0 -11.1 0M129.15 529.77m-5.55 0a5.55 5.55 0 1 0 11.1 0a5.55 5.55 0 1 0 -11.1 0M130.06 531.81m-5.55 0a5.55 5.55 0 1 0 11.1 0a5.55 5.55 0 1 0 -11.1 0M128.33 533.86m-5.55 0a5.55 5.55 0 1 0 11.1 0a5.55 5.55 0 1 0 -11.1 0M129.79 535.9m-5.55 0a5.55 5.55 0 1 0 11.1 0a5.55 5.55 0 1 0 -11.1 0M127.33 538.12m-5.55 0a5.55 5.55 0 1 0 11.1 0a5.55 5.55 0 1 0 -11.1 0M128.12 540.34m-5.55 0a5.55 5.55 0 1 0 11.1 0a5.55 5.55 0 1 0 -11.1 0M126.24 542.56m-5.55 0a5.55 5.55 0 1 0 11.1 0a5.55 5.55 0 1 0 -11.1 0M126.94 544.78m-5.55 0a5.55 5.55 0 1 0 11.1 0a5.55 5.55 0 1 0 -11.1 0M124.61 547m-5.55 0a5.55 5.55 0 1 0 11.1 0a5.55 5.55 0 1 0 -11.1 0M125.62 549.08m-5.55 0a5.55 5.55 0 1 0 11.1 0a5.55 5.55 0 1 0 -11.1 0M123.47 551.16m-5.55 0a5.55 5.55 0 1 0 11.1 0a5.55 5.55 0 1 0 -11.1 0M124.42 553.24m-5.55 0a5.55 5.55 0 1 0 11.1 0a5.55 5.55 0 1 0 -11.1 0M122.39 555.32m-5.55 0a5.55 5.55 0 1 0 11.1 0a5.55 5.55 0 1 0 -11.1 0M123.13 557.4m-5.55 0a5.55 5.55 0 1 0 11.1 0a5.55 5.55 0 1 0 -11.1 0M121.17 559.72m-5.55 0a5.55 5.55 0 1 0 11.1 0a5.55 5.55 0 1 0 -11.1 0M121.87 562.04m-5.55 0a5.55 5.55 0 1 0 11.1 0a5.55 5.55 0 1 0 -11.1 0M120.09 564.36m-5.55 0a5.55 5.55 0 1 0 11.1 0a5.55 5.55 0 1 0 -11.1 0M120.72 566.68m-5.55 0a5.55 5.55 0 1 0 11.1 0a5.55 5.55 0 1 0 -11.1 0M118.61 569m-5.55 0a5.55 5.55 0 1 0 11.1 0a5.55 5.55 0 1 0 -11.1 0M119.7 571.05m-5.55 0a5.55 5.55 0 1 0 11.1 0a5.55 5.55 0 1 0 -11.1 0M117.73 573.1m-5.55 0a5.55 5.55 0 1 0 11.1 0a5.55 5.55 0 1 0 -11.1 0M118.77 575.15m-5.55 0a5.55 5.55 0 1 0 11.1 0a5.55 5.55 0 1 0 -11.1 0M116.62 577.2m-5.55 0a5.55 5.55 0 1 0 11.1 0a5.55 5.55 0 1 0 -11.1 0M117.68 579.25m-5.55 0a5.55 5.55 0 1 0 11.1 0a5.55 5.55 0 1 0 -11.1 0M115.85 581.3m-5.55 0a5.55 5.55 0 1 0 11.1 0a5.55 5.55 0 1 0 -11.1 0M116.57 583.25m-5.55 0a5.55 5.55 0 1 0 11.1 0a5.55 5.55 0 1 0 -11.1 0M114.68 585.2m-5.55 0a5.55 5.55 0 1 0 11.1 0a5.55 5.55 0 1 0 -11.1 0M115.59 587.15m-5.55 0a5.55 5.55 0 1 0 11.1 0a5.55 5.55 0 1 0 -11.1 0M113.31 589.1m-5.55 0a5.55 5.55 0 1 0 11.1 0a5.55 5.55 0 1 0 -11.1 0M114.23 591.05m-5.55 0a5.55 5.55 0 1 0 11.1 0a5.55 5.55 0 1 0 -11.1 0M112.34 593m-5.55 0a5.55 5.55 0 1 0 11.1 0a5.55 5.55 0 1 0 -11.1 0M113.12 595.02m-5.55 0a5.55 5.55 0 1 0 11.1 0a5.55 5.55 0 1 0 -11.1 0M111.02 597.03m-5.55 0a5.55 5.55 0 1 0 11.1 0a5.55 5.55 0 1 0 -11.1 0M111.9 599.05m-5.55 0a5.55 5.55 0 1 0 11.1 0a5.55 5.55 0 1 0 -11.1 0M109.91 601.07m-5.55 0a5.55 5.55 0 1 0 11.1 0a5.55 5.55 0 1 0 -11.1 0M110.46 603.08m-5.55 0a5.55 5.55 0 1 0 11.1 0a5.55 5.55 0 1 0 -11.1 0M108.67 605.1m-5.55 0a5.55 5.55 0 1 0 11.1 0a5.55 5.55 0 1 0 -11.1 0M109.42 607.33m-5.55 0a5.55 5.55 0 1 0 11.1 0a5.55 5.55 0 1 0 -11.1 0M107.66 609.55m-5.55 0a5.55 5.55 0 1 0 11.1 0a5.55 5.55 0 1 0 -11.1 0M108.52 611.77m-5.55 0a5.55 5.55 0 1 0 11.1 0a5.55 5.55 0 1 0 -11.1 0M107.5 614m-5.55 0a5.55 5.55 0 1 0 11.1 0a5.55 5.55 0 1 0 -11.1 0" fill="#0000ff"/></g>
<g clip-path="url(#c0)"><polyline points="466,21.4 464.5,24.34 462.5,27.29 462,30.23 461.5,33.18 461,36.12 460.5,39.07 460,43.49 459.3,50.85 458,58.21 449,65.57 441.5,72.94 431,80.3 424,87.66 416,95.03 389,109.75 359.9,124.47 341.2,139.2 327.4,153.93 315.2,168.65 292.2,205.46 265.9,242.28 220.5,315.9 184.5,389.52 152.3,463.15 128.4,536.77 107,610.4" fill="none" stroke="#008000" stroke-width="2.7" stroke-linejoin="round"/><path d="M466 21.4m-5.55 0a5.55 5.55 0 1 0 11.1 0a5.55 5.55 0 1 0 -11.1 0M464.5 24.34m-5.55 0a5.55 5.55 0 1 0 11.1 0a5.55 5.55 0 1 0 -11.1 0M462.5 27.29m-5.55 0a5.55 5.55 0 1 0 11.1 0a5.55 5.55 0 1 0 -11.1 0M462 30.23m-5.55 0a5.55 5.55 0 1 0 11.1 0a5.55 5.55 0 1 0 -11.1 0M461.5 33.18m-5.55 0a5.55 5.55 0 1 0 11.1 0a5.55 5.55 0 1 0 -11.1 0M461 36.12m-5.55 0a5.55 5.55 0 1 0 11.1 0a5.55 5.55 0 1 0 -11.1 0M460.5 39.07m-5.55 0a5.55 5.55 0 1 0 11.1 0a5.55 5.55 0 1 0 -11.1 0M460 43.49m-5.55 0a5.55 5.55 0 1 0 11.1 0a5.55 5.55 0 1 0 -11.1 0M459.3 50.85m-5.55 0a5.55 5.55 0 1 0 11.1 0a5.55 5.55 0 1 0 -11.1 0M458 58.21m-5.55 0a5.55 5.55 0 1 0 11.1 0a5.55 5.55 0 1 0 -11.1 0M449 65.57m-5.55 0a5.55 5.55 0 1 0 11.1 0a5.55 5.55 0 1 0 -11.1 0M441.5 72.94m-5.55 0a5.55 5.55 0 1 0 11.1 0a5.55 5.55 0 1 0 -11.1 0M431 80.3m-5.55 0a5.55 5.55 0 1 0 11.1 0a5.55 5.55 0 1 0 -11.1 0M424 87.66m-5.55 0a5.55 5.55 0 1 0 11.1 0a5.55 5.55 0 1 0 -11.1 0M416 95.03m-5.55 0a5.55 5.55 0 1 0 11.1 0a5.55 5.55 0 1 0 -11.1 0M389 109.75m-5.55 0a5.55 5.55 0 1 0 11.1 0a5.55 5.55 0 1 0 -11.1 0M359.9 124.47m-5.55 0a5.55 5.55 0 1 0 11.1 0a5.55 5.55 0 1 0 -11.1 0M341.2 139.2m-5.55 0a5.55 5.55 0 1 0 11.1 0a5.55 5.55 0 1 0 -11.1 0M327.4 153.93m-5.55 0a5.55 5.55 0 1 0 11.1 0a5.55 5.55 0 1 0 -11.1 0M315.2 168.65m-5.55 0a5.55 5.55 0 1 0 11.1 0a5.55 5.55 0 1 0 -11.1 0M292.2 205.46m-5.55 0a5.55 5.55 0 1 0 11.1 0a5.55 5.55 0 1 0 -11.1 0M265.9 242.28m-5.55 0a5.55 5.55 0 1 0 11.1 0a5.55 5.55 0 1 0 -11.1 0M220.5 315.9m-5.55 0a5.55 5.55 0 1 0 11.1 0a5.55 5.55 0 1 0 -11.1 0M184.5 389.52m-5.55 0a5.55 5.55 0 1 0 11.1 0a5.55 5.55 0 1 0 -11.1 0M152.3 463.15m-5.55 0a5.55 5.55 0 1 0 11.1 0a5.55 5.55 0 1 0 -11.1 0M128.4 536.77m-5.55 0a5.55 5.55 0 1 0 11.1 0a5.55 5.55 0 1 0 -11.1 0M107 610.4m-5.55 0a5.55 5.55 0 1 0 11.1 0a5.55 5.55 0 1 0 -11.1 0" fill="#008000"/></g>
<g clip-path="url(#c0)"><polyline points="477.5,21.4 465,24.34 462,27.29 461.5,30.23 461,33.18 460.5,36.12 460,39.07 459.5,43.49 458.8,50.85 457.5,58.21 452.5,65.57 444.5,72.94 435,80.3 427,87.66 421.3,95.03 408.6,109.75 396.4,124.47 385,139.2 371.3,153.93 356.3,168.65 300.5,205.46 283.1,242.28 235.6,315.9 194.8,389.52 160.7,463.15 138,536.77 114.1,610.4" fill="none" stroke="#ff0000" stroke-width="2.7" stroke-linejoin="round"/><path d="M477.5 21.4m-5.55 0a5.55 5.55 0 1 0 11.1 0a5.55 5.55 0 1 0 -11.1 0M465 24.34m-5.55 0a5.55 5.55 0 1 0 11.1 0a5.55 5.55 0 1 0 -11.1 0M462 27.29m-5.55 0a5.55 5.55 0 1 0 11.1 0a5.55 5.55 0 1 0 -11.1 0M461.5 30.23m-5.55 0a5.55 5.55 0 1 0 11.1 0a5.55 5.55 0 1 0 -11.1 0M461 33.18m-5.55 0a5.55 5.55 0 1 0 11.1 0a5.55 5.55 0 1 0 -11.1 0M460.5 36.12m-5.55 0a5.55 5.55 0 1 0 11.1 0a5.55 5.55 0 1 0 -11.1 0M460 39.07m-5.55 0a5.55 5.55 0 1 0 11.1 0a5.55 5.55 0 1 0 -11.1 0M459.5 43.49m-5.55 0a5.55 5.55 0 1 0 11.1 0a5.55 5.55 0 1 0 -11.1 0M458.8 50.85m-5.55 0a5.55 5.55 0 1 0 11.1 0a5.55 5.55 0 1 0 -11.1 0M457.5 58.21m-5.55 0a5.55 5.55 0 1 0 11.1 0a5.55 5.55 0 1 0 -11.1 0M452.5 65.57m-5.55 0a5.55 5.55 0 1 0 11.1 0a5.55 5.55 0 1 0 -11.1 0M444.5 72.94m-5.55 0a5.55 5.55 0 1 0 11.1 0a5.55 5.55 0 1 0 -11.1 0M435 80.3m-5.55 0a5.55 5.55 0 1 0 11.1 0a5.55 5.55 0 1 0 -11.1 0M427 87.66m-5.55 0a5.55 5.55 0 1 0 11.1 0a5.55 5.55 0 1 0 -11.1 0M421.3 95.03m-5.55 0a5.55 5.55 0 1 0 11.1 0a5.55 5.55 0 1 0 -11.1 0M408.6 109.75m-5.55 0a5.55 5.55 0 1 0 11.1 0a5.55 5.55 0 1 0 -11.1 0M396.4 124.47m-5.55 0a5.55 5.55 0 1 0 11.1 0a5.55 5.55 0 1 0 -11.1 0M385 139.2m-5.55 0a5.55 5.55 0 1 0 11.1 0a5.55 5.55 0 1 0 -11.1 0M371.3 153.93m-5.55 0a5.55 5.55 0 1 0 11.1 0a5.55 5.55 0 1 0 -11.1 0M356.3 168.65m-5.55 0a5.55 5.55 0 1 0 11.1 0a5.55 5.55 0 1 0 -11.1 0M300.5 205.46m-5.55 0a5.55 5.55 0 1 0 11.1 0a5.55 5.55 0 1 0 -11.1 0M283.1 242.28m-5.55 0a5.55 5.55 0 1 0 11.1 0a5.55 5.55 0 1 0 -11.1 0M235.6 315.9m-5.55 0a5.55 5.55 0 1 0 11.1 0a5.55 5.55 0 1 0 -11.1 0M194.8 389.52m-5.55 0a5.55 5.55 0 1 0 11.1 0a5.55 5.55 0 1 0 -11.1 0M160.7 463.15m-5.55 0a5.55 5.55 0 1 0 11.1 0a5.55 5.55 0 1 0 -11.1 0M138 536.77m-5.55 0a5.55 5.55 0 1 0 11.1 0a5.55 5.55 0 1 0 -11.1 0M114.1 610.4m-5.55 0a5.55 5.55 0 1 0 11.1 0a5.55 5.55 0 1 0 -11.1 0" fill="#ff0000"/></g>
<g clip-path="url(#c0)"><polyline points="467.4,22.13 467.3,23.67 467.2,25.3 467.1,27.02 467,28.88 466.9,30.88 466.8,33.08 466.7,35.5 466.5,38.19 466.3,41.23 466.2,44.68 466,48.64 465.9,53.2 465.7,58.52 465.2,64.76 464.2,72.1 449.5,80.81 426.5,91.16 403.7,103.51 382.5,118.3 362.4,136.04 342.7,157.35 322.4,182.98 297,213.81 266.4,250.89 237.3,295.47 209.1,348.99 181.4,413.14 148,489.84 118.9,581.26" fill="none" stroke="#ff00ff" stroke-width="2.7" stroke-linejoin="round"/><path d="M467.4 22.13m-5.55 0a5.55 5.55 0 1 0 11.1 0a5.55 5.55 0 1 0 -11.1 0M467.3 23.67m-5.55 0a5.55 5.55 0 1 0 11.1 0a5.55 5.55 0 1 0 -11.1 0M467.2 25.3m-5.55 0a5.55 5.55 0 1 0 11.1 0a5.55 5.55 0 1 0 -11.1 0M467.1 27.02m-5.55 0a5.55 5.55 0 1 0 11.1 0a5.55 5.55 0 1 0 -11.1 0M467 28.88m-5.55 0a5.55 5.55 0 1 0 11.1 0a5.55 5.55 0 1 0 -11.1 0M466.9 30.88m-5.55 0a5.55 5.55 0 1 0 11.1 0a5.55 5.55 0 1 0 -11.1 0M466.8 33.08m-5.55 0a5.55 5.55 0 1 0 11.1 0a5.55 5.55 0 1 0 -11.1 0M466.7 35.5m-5.55 0a5.55 5.55 0 1 0 11.1 0a5.55 5.55 0 1 0 -11.1 0M466.5 38.19m-5.55 0a5.55 5.55 0 1 0 11.1 0a5.55 5.55 0 1 0 -11.1 0M466.3 41.23m-5.55 0a5.55 5.55 0 1 0 11.1 0a5.55 5.55 0 1 0 -11.1 0M466.2 44.68m-5.55 0a5.55 5.55 0 1 0 11.1 0a5.55 5.55 0 1 0 -11.1 0M466 48.64m-5.55 0a5.55 5.55 0 1 0 11.1 0a5.55 5.55 0 1 0 -11.1 0M465.9 53.2m-5.55 0a5.55 5.55 0 1 0 11.1 0a5.55 5.55 0 1 0 -11.1 0M465.7 58.52m-5.55 0a5.55 5.55 0 1 0 11.1 0a5.55 5.55 0 1 0 -11.1 0M465.2 64.76m-5.55 0a5.55 5.55 0 1 0 11.1 0a5.55 5.55 0 1 0 -11.1 0M464.2 72.1m-5.55 0a5.55 5.55 0 1 0 11.1 0a5.55 5.55 0 1 0 -11.1 0M449.5 80.81m-5.55 0a5.55 5.55 0 1 0 11.1 0a5.55 5.55 0 1 0 -11.1 0M426.5 91.16m-5.55 0a5.55 5.55 0 1 0 11.1 0a5.55 5.55 0 1 0 -11.1 0M403.7 103.51m-5.55 0a5.55 5.55 0 1 0 11.1 0a5.55 5.55 0 1 0 -11.1 0M382.5 118.3m-5.55 0a5.55 5.55 0 1 0 11.1 0a5.55 5.55 0 1 0 -11.1 0M362.4 136.04m-5.55 0a5.55 5.55 0 1 0 11.1 0a5.55 5.55 0 1 0 -11.1 0M342.7 157.35m-5.55 0a5.55 5.55 0 1 0 11.1 0a5.55 5.55 0 1 0 -11.1 0M322.4 182.98m-5.55 0a5.55 5.55 0 1 0 11.1 0a5.55 5.55 0 1 0 -11.1 0M297 213.81m-5.55 0a5.55 5.55 0 1 0 11.1 0a5.55 5.55 0 1 0 -11.1 0M266.4 250.89m-5.55 0a5.55 5.55 0 1 0 11.1 0a5.55 5.55 0 1 0 -11.1 0M237.3 295.47m-5.55 0a5.55 5.55 0 1 0 11.1 0a5.55 5.55 0 1 0 -11.1 0M209.1 348.99m-5.55 0a5.55 5.55 0 1 0 11.1 0a5.55 5.55 0 1 0 -11.1 0M181.4 413.14m-5.55 0a5.55 5.55 0 1 0 11.1 0a5.55 5.55 0 1 0 -11.1 0M148 489.84m-5.55 0a5.55 5.55 0 1 0 11.1 0a5.55 5.55 0 1 0 -11.1 0M118.9 581.26m-5.55 0a5.55 5.55 0 1 0 11.1 0a5.55 5.55 0 1 0 -11.1 0" fill="#ff00ff"/></g>
<g clip-path="url(#c1)"><polyline points="824.5,21.4 823.71,24 823.87,27 822.22,30 823.12,32 821.98,34 823,36 822.01,38 822.91,40 821.89,42.22 822.9,44.44 822,46.67 822.86,48.89 821.95,51.11 822.93,53.33 821.8,55.56 822.99,57.78 821.91,60 822.87,62.14 821.98,64.29 822.77,66.43 822.03,68.57 822.87,70.71 821.96,72.86 822.85,75 821.76,77 822.75,79 821.71,81 821,83 808.5,83.5 806.56,85.25 805.89,87 803.27,88.5 802.6,90 800.73,91.5 800.9,93 800.18,95 801.55,97 800.96,100 802.83,102 802.46,104 804.05,106 803.56,108 804.9,110.4 804.01,112.8 805.3,115.2 804.66,117.6 806.03,120 805.14,122.14 806.22,124.29 805.37,126.43 806.54,128.57 805.59,130.71 806.75,132.86 805.86,135 806.81,137 805.6,139 806.59,141 805.56,143 806.58,145 805.33,147.07 806.21,149.13 805.19,151.2 805.9,153.27 804.81,155.33 805.6,157.4 804.82,160 805.54,162.24 804.26,164.48 804.99,166.72 803.69,168.96 804.53,171.2 804.1,173.18 805.64,175.16 805.22,177.14 806.82,179.12 806.47,181.1 809.23,182.32 810.27,183.55 813.26,184.78 814.09,186 816.9,186.53 817.89,187.05 820.91,187.57 821.72,188.1 824.81,189.15 825.96,190.2 828.97,191.25 830.18,192.3 833.25,193.53 834.54,194.75 837.65,195.97 839.2,197.2 857.4,200.7 858.24,202.85 860.62,205 861.19,207.1 863.57,209.2 863.94,211.3 863.53,213.23 861.23,215.15 860.65,217.07 858.4,219 857.57,220.22 854.92,221.45 854.14,222.68 851.43,223.9 850.59,224.78 847.93,225.65 846.97,226.53 844.24,227.4 843.33,228.8 840.66,230.2 839.73,231.6 837.35,233.47 836.77,235.33 834.4,237.2 834.9,239.57 833.14,241.93 834.53,244.3 830.57,246.05 831.26,247.8 827.35,249.55 827.53,251.3 824.24,253.05 824.79,254.8 821.03,256.55 822.15,258.3 818.35,260.35 819.76,262.4 815.98,264.45 817.33,266.5 813.8,268.55 814.67,270.6 810.75,272.28 811.24,273.96 807.58,275.64 807.83,277.32 803.67,279 804.31,280.66 800.63,282.32 801.26,283.98 797.47,285.64 797.92,287.3 793.82,288.84 794.39,290.38 790.42,291.92 790.88,293.46 787.15,295 787.67,296.32 784.12,297.64 784.43,298.96 781.22,300.28 781.53,301.6 778.41,303.48 779.2,305.36 775.58,307.24 776.79,309.12 772.74,311 774.1,312.94 770.33,314.88 770.99,316.82 767.52,318.76 768.27,320.7 764.19,321.96 764.95,323.22 760.7,324.48 761.2,325.74 757.42,327 757.99,328.12 754.38,329.24 754.44,330.36 750.87,331.48 751.2,332.6 747.42,334 748.01,335.4 744.5,336.8 744.71,338.2 741.16,339.6 741.46,341 737.82,342.4 738.5,343.8 734.84,345.2 735.5,346.6 731.79,348 732.55,349.4 728.28,350.92 729.37,352.44 725.5,353.96 726.17,355.48 722.33,357 722.72,358.68 719.13,360.35 719.68,362.02 715.96,363.7 716.19,365.52 712.41,367.35 713.15,369.18 709.37,371 710.48,372.75 706.57,374.5 707.38,376.25 703.61,378 704.67,380 701.4,382 702.1,384 698.6,386 699.51,388.18 696.19,390.35 697.72,392.52 694.65,394.7 695.39,396.36 692.03,398.02 693.01,399.68 689.74,401.34 690.67,403 687.3,405 687.86,407 684.49,409 685.58,411 682.02,413 682.93,415 679.49,417 680.36,419 676.91,421 677.83,423 674.24,425 675.41,426.98 672.29,428.97 672.96,430.95 670.01,432.93 671.07,434.92 667.4,436.9 668.76,438.72 664.93,440.54 665.79,442.36 662.51,444.18 663.78,446 660.07,448 661.26,450 657.92,452 658.88,454 655.31,456 656.37,457.6 653.03,459.2 654.05,460.8 650.35,462.4 651.79,464 647.98,465.74 649.49,467.48 646.01,469.22 646.83,470.96 643.59,472.7 644.65,474.56 641.54,476.42 642.8,478.28 639.19,480.14 640.67,482 637.32,483.96 638.63,485.92 635.82,487.88 637.38,489.84 634.18,491.8 635.05,493.64 631.98,495.48 632.63,497.32 629.28,499.16 630.89,501 627.1,503 628.01,505 624.89,507 625.67,509 622.28,511 623.72,512.8 620.41,514.6 621.63,516.4 618.6,518.2 619.64,520 616.2,521.75 617.91,523.5 614.83,525.25 615.93,527 612.73,529 614.13,531 610.98,533 612.6,535 609.5,537.37 611.03,539.73 607.8,542.1 609.74,544.28 606.56,546.46 607.9,548.64 605.15,550.82 606.36,553 603.73,555.2 605.63,557.4 602.76,559.6 604.23,561.8 601.39,564 602.55,566 599.22,568 600.8,570 597.18,572 598.5,574 594.9,576.15 596.18,578.3 592.77,580.45 594.11,582.6 590.79,584.77 592.53,586.94 589.41,589.11 590.72,591.29 587.62,593.46 589.06,595.63 585.61,597.8 587.36,599.82 584.47,601.84 585.58,603.86 582.4,605.88 584.13,607.9 581.16,609.93 583.23,611.97 581.5,614" fill="none" stroke="#0000ff" stroke-width="2.7" stroke-linejoin="round"/><path d="M824.5 21.4m-5.55 0a5.55 5.55 0 1 0 11.1 0a5.55 5.55 0 1 0 -11.1 0M823.71 24m-5.55 0a5.55 5.55 0 1 0 11.1 0a5.55 5.55 0 1 0 -11.1 0M823.87 27m-5.55 0a5.55 5.55 0 1 0 11.1 0a5.55 5.55 0 1 0 -11.1 0M822.22 30m-5.55 0a5.55 5.55 0 1 0 11.1 0a5.55 5.55 0 1 0 -11.1 0M823.12 32m-5.55 0a5.55 5.55 0 1 0 11.1 0a5.55 5.55 0 1 0 -11.1 0M821.98 34m-5.55 0a5.55 5.55 0 1 0 11.1 0a5.55 5.55 0 1 0 -11.1 0M823 36m-5.55 0a5.55 5.55 0 1 0 11.1 0a5.55 5.55 0 1 0 -11.1 0M822.01 38m-5.55 0a5.55 5.55 0 1 0 11.1 0a5.55 5.55 0 1 0 -11.1 0M822.91 40m-5.55 0a5.55 5.55 0 1 0 11.1 0a5.55 5.55 0 1 0 -11.1 0M821.89 42.22m-5.55 0a5.55 5.55 0 1 0 11.1 0a5.55 5.55 0 1 0 -11.1 0M822.9 44.44m-5.55 0a5.55 5.55 0 1 0 11.1 0a5.55 5.55 0 1 0 -11.1 0M822 46.67m-5.55 0a5.55 5.55 0 1 0 11.1 0a5.55 5.55 0 1 0 -11.1 0M822.86 48.89m-5.55 0a5.55 5.55 0 1 0 11.1 0a5.55 5.55 0 1 0 -11.1 0M821.95 51.11m-5.55 0a5.55 5.55 0 1 0 11.1 0a5.55 5.55 0 1 0 -11.1 0M822.93 53.33m-5.55 0a5.55 5.55 0 1 0 11.1 0a5.55 5.55 0 1 0 -11.1 0M821.8 55.56m-5.55 0a5.55 5.55 0 1 0 11.1 0a5.55 5.55 0 1 0 -11.1 0M822.99 57.78m-5.55 0a5.55 5.55 0 1 0 11.1 0a5.55 5.55 0 1 0 -11.1 0M821.91 60m-5.55 0a5.55 5.55 0 1 0 11.1 0a5.55 5.55 0 1 0 -11.1 0M822.87 62.14m-5.55 0a5.55 5.55 0 1 0 11.1 0a5.55 5.55 0 1 0 -11.1 0M821.98 64.29m-5.55 0a5.55 5.55 0 1 0 11.1 0a5.55 5.55 0 1 0 -11.1 0M822.77 66.43m-5.55 0a5.55 5.55 0 1 0 11.1 0a5.55 5.55 0 1 0 -11.1 0M822.03 68.57m-5.55 0a5.55 5.55 0 1 0 11.1 0a5.55 5.55 0 1 0 -11.1 0M822.87 70.71m-5.55 0a5.55 5.55 0 1 0 11.1 0a5.55 5.55 0 1 0 -11.1 0M821.96 72.86m-5.55 0a5.55 5.55 0 1 0 11.1 0a5.55 5.55 0 1 0 -11.1 0M822.85 75m-5.55 0a5.55 5.55 0 1 0 11.1 0a5.55 5.55 0 1 0 -11.1 0M821.76 77m-5.55 0a5.55 5.55 0 1 0 11.1 0a5.55 5.55 0 1 0 -11.1 0M822.75 79m-5.55 0a5.55 5.55 0 1 0 11.1 0a5.55 5.55 0 1 0 -11.1 0M821.71 81m-5.55 0a5.55 5.55 0 1 0 11.1 0a5.55 5.55 0 1 0 -11.1 0M821 83m-5.55 0a5.55 5.55 0 1 0 11.1 0a5.55 5.55 0 1 0 -11.1 0M808.5 83.5m-5.55 0a5.55 5.55 0 1 0 11.1 0a5.55 5.55 0 1 0 -11.1 0M806.56 85.25m-5.55 0a5.55 5.55 0 1 0 11.1 0a5.55 5.55 0 1 0 -11.1 0M805.89 87m-5.55 0a5.55 5.55 0 1 0 11.1 0a5.55 5.55 0 1 0 -11.1 0M803.27 88.5m-5.55 0a5.55 5.55 0 1 0 11.1 0a5.55 5.55 0 1 0 -11.1 0M802.6 90m-5.55 0a5.55 5.55 0 1 0 11.1 0a5.55 5.55 0 1 0 -11.1 0M800.73 91.5m-5.55 0a5.55 5.55 0 1 0 11.1 0a5.55 5.55 0 1 0 -11.1 0M800.9 93m-5.55 0a5.55 5.55 0 1 0 11.1 0a5.55 5.55 0 1 0 -11.1 0M800.18 95m-5.55 0a5.55 5.55 0 1 0 11.1 0a5.55 5.55 0 1 0 -11.1 0M801.55 97m-5.55 0a5.55 5.55 0 1 0 11.1 0a5.55 5.55 0 1 0 -11.1 0M800.96 100m-5.55 0a5.55 5.55 0 1 0 11.1 0a5.55 5.55 0 1 0 -11.1 0M802.83 102m-5.55 0a5.55 5.55 0 1 0 11.1 0a5.55 5.55 0 1 0 -11.1 0M802.46 104m-5.55 0a5.55 5.55 0 1 0 11.1 0a5.55 5.55 0 1 0 -11.1 0M804.05 106m-5.55 0a5.55 5.55 0 1 0 11.1 0a5.55 5.55 0 1 0 -11.1 0M803.56 108m-5.55 0a5.55 5.55 0 1 0 11.1 0a5.55 5.55 0 1 0 -11.1 0M804.9 110.4m-5.55 0a5.55 5.55 0 1 0 11.1 0a5.55 5.55 0 1 0 -11.1 0M804.01 112.8m-5.55 0a5.55 5.55 0 1 0 11.1 0a5.55 5.55 0 1 0 -11.1 0M805.3 115.2m-5.55 0a5.55 5.55 0 1 0 11.1 0a5.55 5.55 0 1 0 -11.1 0M804.66 117.6m-5.55 0a5.55 5.55 0 1 0 11.1 0a5.55 5.55 0 1 0 -11.1 0M806.03 120m-5.55 0a5.55 5.55 0 1 0 11.1 0a5.55 5.55 0 1 0 -11.1 0M805.14 122.14m-5.55 0a5.55 5.55 0 1 0 11.1 0a5.55 5.55 0 1 0 -11.1 0M806.22 124.29m-5.55 0a5.55 5.55 0 1 0 11.1 0a5.55 5.55 0 1 0 -11.1 0M805.37 126.43m-5.55 0a5.55 5.55 0 1 0 11.1 0a5.55 5.55 0 1 0 -11.1 0M806.54 128.57m-5.55 0a5.55 5.55 0 1 0 11.1 0a5.55 5.55 0 1 0 -11.1 0M805.59 130.71m-5.55 0a5.55 5.55 0 1 0 11.1 0a5.55 5.55 0 1 0 -11.1 0M806.75 132.86m-5.55 0a5.55 5.55 0 1 0 11.1 0a5.55 5.55 0 1 0 -11.1 0M805.86 135m-5.55 0a5.55 5.55 0 1 0 11.1 0a5.55 5.55 0 1 0 -11.1 0M806.81 137m-5.55 0a5.55 5.55 0 1 0 11.1 0a5.55 5.55 0 1 0 -11.1 0M805.6 139m-5.55 0a5.55 5.55 0 1 0 11.1 0a5.55 5.55 0 1 0 -11.1 0M806.59 141m-5.55 0a5.55 5.55 0 1 0 11.1 0a5.55 5.55 0 1 0 -11.1 0M805.56 143m-5.55 0a5.55 5.55 0 1 0 11.1 0a5.55 5.55 0 1 0 -11.1 0M806.58 145m-5.55 0a5.55 5.55 0 1 0 11.1 0a5.55 5.55 0 1 0 -11.1 0M805.33 147.07m-5.55 0a5.55 5.55 0 1 0 11.1 0a5.55 5.55 0 1 0 -11.1 0M806.21 149.13m-5.55 0a5.55 5.55 0 1 0 11.1 0a5.55 5.55 0 1 0 -11.1 0M805.19 151.2m-5.55 0a5.55 5.55 0 1 0 11.1 0a5.55 5.55 0 1 0 -11.1 0M805.9 153.27m-5.55 0a5.55 5.55 0 1 0 11.1 0a5.55 5.55 0 1 0 -11.1 0M804.81 155.33m-5.55 0a5.55 5.55 0 1 0 11.1 0a5.55 5.55 0 1 0 -11.1 0M805.6 157.4m-5.55 0a5.55 5.55 0 1 0 11.1 0a5.55 5.55 0 1 0 -11.1 0M804.82 160m-5.55 0a5.55 5.55 0 1 0 11.1 0a5.55 5.55 0 1 0 -11.1 0M805.54 162.24m-5.55 0a5.55 5.55 0 1 0 11.1 0a5.55 5.55 0 1 0 -11.1 0M804.26 164.48m-5.55 0a5.55 5.55 0 1 0 11.1 0a5.55 5.55 0 1 0 -11.1 0M804.99 166.72m-5.55 0a5.55 5.55 0 1 0 11.1 0a5.55 5.55 0 1 0 -11.1 0M803.69 168.96m-5.55 0a5.55 5.55 0 1 0 11.1 0a5.55 5.55 0 1 0 -11.1 0M804.53 171.2m-5.55 0a5.55 5.55 0 1 0 11.1 0a5.55 5.55 0 1 0 -11.1 0M804.1 173.18m-5.55 0a5.55 5.55 0 1 0 11.1 0a5.55 5.55 0 1 0 -11.1 0M805.64 175.16m-5.55 0a5.55 5.55 0 1 0 11.1 0a5.55 5.55 0 1 0 -11.1 0M805.22 177.14m-5.55 0a5.55 5.55 0 1 0 11.1 0a5.55 5.55 0 1 0 -11.1 0M806.82 179.12m-5.55 0a5.55 5.55 0 1 0 11.1 0a5.55 5.55 0 1 0 -11.1 0M806.47 181.1m-5.55 0a5.55 5.55 0 1 0 11.1 0a5.55 5.55 0 1 0 -11.1 0M809.23 182.32m-5.55 0a5.55 5.55 0 1 0 11.1 0a5.55 5.55 0 1 0 -11.1 0M810.27 183.55m-5.55 0a5.55 5.55 0 1 0 11.1 0a5.55 5.55 0 1 0 -11.1 0M813.26 184.78m-5.55 0a5.55 5.55 0 1 0 11.1 0a5.55 5.55 0 1 0 -11.1 0M814.09 186m-5.55 0a5.55 5.55 0 1 0 11.1 0a5.55 5.55 0 1 0 -11.1 0M816.9 186.53m-5.55 0a5.55 5.55 0 1 0 11.1 0a5.55 5.55 0 1 0 -11.1 0M817.89 187.05m-5.55 0a5.55 5.55 0 1 0 11.1 0a5.55 5.55 0 1 0 -11.1 0M820.91 187.57m-5.55 0a5.55 5.55 0 1 0 11.1 0a5.55 5.55 0 1 0 -11.1 0M821.72 188.1m-5.55 0a5.55 5.55 0 1 0 11.1 0a5.55 5.55 0 1 0 -11.1 0M824.81 189.15m-5.55 0a5.55 5.55 0 1 0 11.1 0a5.55 5.55 0 1 0 -11.1 0M825.96 190.2m-5.55 0a5.55 5.55 0 1 0 11.1 0a5.55 5.55 0 1 0 -11.1 0M828.97 191.25m-5.55 0a5.55 5.55 0 1 0 11.1 0a5.55 5.55 0 1 0 -11.1 0M830.18 192.3m-5.55 0a5.55 5.55 0 1 0 11.1 0a5.55 5.55 0 1 0 -11.1 0M833.25 193.53m-5.55 0a5.55 5.55 0 1 0 11.1 0a5.55 5.55 0 1 0 -11.1 0M834.54 194.75m-5.55 0a5.55 5.55 0 1 0 11.1 0a5.55 5.55 0 1 0 -11.1 0M837.65 195.97m-5.55 0a5.55 5.55 0 1 0 11.1 0a5.55 5.55 0 1 0 -11.1 0M839.2 197.2m-5.55 0a5.55 5.55 0 1 0 11.1 0a5.55 5.55 0 1 0 -11.1 0M857.4 200.7m-5.55 0a5.55 5.55 0 1 0 11.1 0a5.55 5.55 0 1 0 -11.1 0M858.24 202.85m-5.55 0a5.55 5.55 0 1 0 11.1 0a5.55 5.55 0 1 0 -11.1 0M860.62 205m-5.55 0a5.55 5.55 0 1 0 11.1 0a5.55 5.55 0 1 0 -11.1 0M861.19 207.1m-5.55 0a5.55 5.55 0 1 0 11.1 0a5.55 5.55 0 1 0 -11.1 0M863.57 209.2m-5.55 0a5.55 5.55 0 1 0 11.1 0a5.55 5.55 0 1 0 -11.1 0M863.94 211.3m-5.55 0a5.55 5.55 0 1 0 11.1 0a5.55 5.55 0 1 0 -11.1 0M863.53 213.23m-5.55 0a5.55 5.55 0 1 0 11.1 0a5.55 5.55 0 1 0 -11.1 0M861.23 215.15m-5.55 0a5.55 5.55 0 1 0 11.1 0a5.55 5.55 0 1 0 -11.1 0M860.65 217.07m-5.55 0a5.55 5.55 0 1 0 11.1 0a5.55 5.55 0 1 0 -11.1 0M858.4 219m-5.55 0a5.55 5.55 0 1 0 11.1 0a5.55 5.55 0 1 0 -11.1 0M857.57 220.22m-5.55 0a5.55 5.55 0 1 0 11.1 0a5.55 5.55 0 1 0 -11.1 0M854.92 221.45m-5.55 0a5.55 5.55 0 1 0 11.1 0a5.55 5.55 0 1 0 -11.1 0M854.14 222.68m-5.55 0a5.55 5.55 0 1 0 11.1 0a5.55 5.55 0 1 0 -11.1 0M851.43 223.9m-5.55 0a5.55 5.55 0 1 0 11.1 0a5.55 5.55 0 1 0 -11.1 0M850.59 224.78m-5.55 0a5.55 5.55 0 1 0 11.1 0a5.55 5.55 0 1 0 -11.1 0M847.93 225.65m-5.55 0a5.55 5.55 0 1 0 11.1 0a5.55 5.55 0 1 0 -11.1 0M846.97 226.53m-5.55 0a5.55 5.55 0 1 0 11.1 0a5.55 5.55 0 1 0 -11.1 0M844.24 227.4m-5.55 0a5.55 5.55 0 1 0 11.1 0a5.55 5.55 0 1 0 -11.1 0M843.33 228.8m-5.55 0a5.55 5.55 0 1 0 11.1 0a5.55 5.55 0 1 0 -11.1 0M840.66 230.2m-5.55 0a5.55 5.55 0 1 0 11.1 0a5.55 5.55 0 1 0 -11.1 0M839.73 231.6m-5.55 0a5.55 5.55 0 1 0 11.1 0a5.55 5.55 0 1 0 -11.1 0M837.35 233.47m-5.55 0a5.55 5.55 0 1 0 11.1 0a5.55 5.55 0 1 0 -11.1 0M836.77 235.33m-5.55 0a5.55 5.55 0 1 0 11.1 0a5.55 5.55 0 1 0 -11.1 0M834.4 237.2m-5.55 0a5.55 5.55 0 1 0 11.1 0a5.55 5.55 0 1 0 -11.1 0M834.9 239.57m-5.55 0a5.55 5.55 0 1 0 11.1 0a5.55 5.55 0 1 0 -11.1 0M833.14 241.93m-5.55 0a5.55 5.55 0 1 0 11.1 0a5.55 5.55 0 1 0 -11.1 0M834.53 244.3m-5.55 0a5.55 5.55 0 1 0 11.1 0a5.55 5.55 0 1 0 -11.1 0M830.57 246.05m-5.55 0a5.55 5.55 0 1 0 11.1 0a5.55 5.55 0 1 0 -11.1 0M831.26 247.8m-5.55 0a5.55 5.55 0 1 0 11.1 0a5.55 5.55 0 1 0 -11.1 0M827.35 249.55m-5.55 0a5.55 5.55 0 1 0 11.1 0a5.55 5.55 0 1 0 -11.1 0M827.53 251.3m-5.55 0a5.55 5.55 0 1 0 11.1 0a5.55 5.55 0 1 0 -11.1 0M824.24 253.05m-5.55 0a5.55 5.55 0 1 0 11.1 0a5.55 5.55 0 1 0 -11.1 0M824.79 254.8m-5.55 0a5.55 5.55 0 1 0 11.1 0a5.55 5.55 0 1 0 -11.1 0M821.03 256.55m-5.55 0a5.55 5.55 0 1 0 11.1 0a5.55 5.55 0 1 0 -11.1 0M822.15 258.3m-5.55 0a5.55 5.55 0 1 0 11.1 0a5.55 5.55 0 1 0 -11.1 0M818.35 260.35m-5.55 0a5.55 5.55 0 1 0 11.1 0a5.55 5.55 0 1 0 -11.1 0M819.76 262.4m-5.55 0a5.55 5.55 0 1 0 11.1 0a5.55 5.55 0 1 0 -11.1 0M815.98 264.45m-5.55 0a5.55 5.55 0 1 0 11.1 0a5.55 5.55 0 1 0 -11.1 0M817.33 266.5m-5.55 0a5.55 5.55 0 1 0 11.1 0a5.55 5.55 0 1 0 -11.1 0M813.8 268.55m-5.55 0a5.55 5.55 0 1 0 11.1 0a5.55 5.55 0 1 0 -11.1 0M814.67 270.6m-5.55 0a5.55 5.55 0 1 0 11.1 0a5.55 5.55 0 1 0 -11.1 0M810.75 272.28m-5.55 0a5.55 5.55 0 1 0 11.1 0a5.55 5.55 0 1 0 -11.1 0M811.24 273.96m-5.55 0a5.55 5.55 0 1 0 11.1 0a5.55 5.55 0 1 0 -11.1 0M807.58 275.64m-5.55 0a5.55 5.55 0 1 0 11.1 0a5.55 5.55 0 1 0 -11.1 0M807.83 277.32m-5.55 0a5.55 5.55 0 1 0 11.1 0a5.55 5.55 0 1 0 -11.1 0M803.67 279m-5.55 0a5.55 5.55 0 1 0 11.1 0a5.55 5.55 0 1 0 -11.1 0M804.31 280.66m-5.55 0a5.55 5.55 0 1 0 11.1 0a5.55 5.55 0 1 0 -11.1 0M800.63 282.32m-5.55 0a5.55 5.55 0 1 0 11.1 0a5.55 5.55 0 1 0 -11.1 0M801.26 283.98m-5.55 0a5.55 5.55 0 1 0 11.1 0a5.55 5.55 0 1 0 -11.1 0M797.47 285.64m-5.55 0a5.55 5.55 0 1 0 11.1 0a5.55 5.55 0 1 0 -11.1 0M797.92 287.3m-5.55 0a5.55 5.55 0 1 0 11.1 0a5.55 5.55 0 1 0 -11.1 0M793.82 288.84m-5.55 0a5.55 5.55 0 1 0 11.1 0a5.55 5.55 0 1 0 -11.1 0M794.39 290.38m-5.55 0a5.55 5.55 0 1 0 11.1 0a5.55 5.55 0 1 0 -11.1 0M790.42 291.92m-5.55 0a5.55 5.55 0 1 0 11.1 0a5.55 5.55 0 1 0 -11.1 0M790.88 293.46m-5.55 0a5.55 5.55 0 1 0 11.1 0a5.55 5.55 0 1 0 -11.1 0M787.15 295m-5.55 0a5.55 5.55 0 1 0 11.1 0a5.55 5.55 0 1 0 -11.1 0M787.67 296.32m-5.55 0a5.55 5.55 0 1 0 11.1 0a5.55 5.55 0 1 0 -11.1 0M784.12 297.64m-5.55 0a5.55 5.55 0 1 0 11.1 0a5.55 5.55 0 1 0 -11.1 0M784.43 298.96m-5.55 0a5.55 5.55 0 1 0 11.1 0a5.55 5.55 0 1 0 -11.1 0M781.22 300.28m-5.55 0a5.55 5.55 0 1 0 11.1 0a5.55 5.55 0 1 0 -11.1 0M781.53 301.6m-5.55 0a5.55 5.55 0 1 0 11.1 0a5.55 5.55 0 1 0 -11.1 0M778.41 303.48m-5.55 0a5.55 5.55 0 1 0 11.1 0a5.55 5.55 0 1 0 -11.1 0M779.2 305.36m-5.55 0a5.55 5.55 0 1 0 11.1 0a5.55 5.55 0 1 0 -11.1 0M775.58 307.24m-5.55 0a5.55 5.55 0 1 0 11.1 0a5.55 5.55 0 1 0 -11.1 0M776.79 309.12m-5.55 0a5.55 5.55 0 1 0 11.1 0a5.55 5.55 0 1 0 -11.1 0M772.74 311m-5.55 0a5.55 5.55 0 1 0 11.1 0a5.55 5.55 0 1 0 -11.1 0M774.1 312.94m-5.55 0a5.55 5.55 0 1 0 11.1 0a5.55 5.55 0 1 0 -11.1 0M770.33 314.88m-5.55 0a5.55 5.55 0 1 0 11.1 0a5.55 5.55 0 1 0 -11.1 0M770.99 316.82m-5.55 0a5.55 5.55 0 1 0 11.1 0a5.55 5.55 0 1 0 -11.1 0M767.52 318.76m-5.55 0a5.55 5.55 0 1 0 11.1 0a5.55 5.55 0 1 0 -11.1 0M768.27 320.7m-5.55 0a5.55 5.55 0 1 0 11.1 0a5.55 5.55 0 1 0 -11.1 0M764.19 321.96m-5.55 0a5.55 5.55 0 1 0 11.1 0a5.55 5.55 0 1 0 -11.1 0M764.95 323.22m-5.55 0a5.55 5.55 0 1 0 11.1 0a5.55 5.55 0 1 0 -11.1 0M760.7 324.48m-5.55 0a5.55 5.55 0 1 0 11.1 0a5.55 5.55 0 1 0 -11.1 0M761.2 325.74m-5.55 0a5.55 5.55 0 1 0 11.1 0a5.55 5.55 0 1 0 -11.1 0M757.42 327m-5.55 0a5.55 5.55 0 1 0 11.1 0a5.55 5.55 0 1 0 -11.1 0M757.99 328.12m-5.55 0a5.55 5.55 0 1 0 11.1 0a5.55 5.55 0 1 0 -11.1 0M754.38 329.24m-5.55 0a5.55 5.55 0 1 0 11.1 0a5.55 5.55 0 1 0 -11.1 0M754.44 330.36m-5.55 0a5.55 5.55 0 1 0 11.1 0a5.55 5.55 0 1 0 -11.1 0M750.87 331.48m-5.55 0a5.55 5.55 0 1 0 11.1 0a5.55 5.55 0 1 0 -11.1 0M751.2 332.6m-5.55 0a5.55 5.55 0 1 0 11.1 0a5.55 5.55 0 1 0 -11.1 0M747.42 334m-5.55 0a5.55 5.55 0 1 0 11.1 0a5.55 5.55 0 1 0 -11.1 0M748.01 335.4m-5.55 0a5.55 5.55 0 1 0 11.1 0a5.55 5.55 0 1 0 -11.1 0M744.5 336.8m-5.55 0a5.55 5.55 0 1 0 11.1 0a5.55 5.55 0 1 0 -11.1 0M744.71 338.2m-5.55 0a5.55 5.55 0 1 0 11.1 0a5.55 5.55 0 1 0 -11.1 0M741.16 339.6m-5.55 0a5.55 5.55 0 1 0 11.1 0a5.55 5.55 0 1 0 -11.1 0M741.46 341m-5.55 0a5.55 5.55 0 1 0 11.1 0a5.55 5.55 0 1 0 -11.1 0M737.82 342.4m-5.55 0a5.55 5.55 0 1 0 11.1 0a5.55 5.55 0 1 0 -11.1 0M738.5 343.8m-5.55 0a5.55 5.55 0 1 0 11.1 0a5.55 5.55 0 1 0 -11.1 0M734.84 345.2m-5.55 0a5.55 5.55 0 1 0 11.1 0a5.55 5.55 0 1 0 -11.1 0M735.5 346.6m-5.55 0a5.55 5.55 0 1 0 11.1 0a5.55 5.55 0 1 0 -11.1 0M731.79 348m-5.55 0a5.55 5.55 0 1 0 11.1 0a5.55 5.55 0 1 0 -11.1 0M732.55 349.4m-5.55 0a5.55 5.55 0 1 0 11.1 0a5.55 5.55 0 1 0 -11.1 0M728.28 350.92m-5.55 0a5.55 5.55 0 1 0 11.1 0a5.55 5.55 0 1 0 -11.1 0M729.37 352.44m-5.55 0a5.55 5.55 0 1 0 11.1 0a5.55 5.55 0 1 0 -11.1 0M725.5 353.96m-5.55 0a5.55 5.55 0 1 0 11.1 0a5.55 5.55 0 1 0 -11.1 0M726.17 355.48m-5.55 0a5.55 5.55 0 1 0 11.1 0a5.55 5.55 0 1 0 -11.1 0M722.33 357m-5.55 0a5.55 5.55 0 1 0 11.1 0a5.55 5.55 0 1 0 -11.1 0M722.72 358.68m-5.55 0a5.55 5.55 0 1 0 11.1 0a5.55 5.55 0 1 0 -11.1 0M719.13 360.35m-5.55 0a5.55 5.55 0 1 0 11.1 0a5.55 5.55 0 1 0 -11.1 0M719.68 362.02m-5.55 0a5.55 5.55 0 1 0 11.1 0a5.55 5.55 0 1 0 -11.1 0M715.96 363.7m-5.55 0a5.55 5.55 0 1 0 11.1 0a5.55 5.55 0 1 0 -11.1 0M716.19 365.52m-5.55 0a5.55 5.55 0 1 0 11.1 0a5.55 5.55 0 1 0 -11.1 0M712.41 367.35m-5.55 0a5.55 5.55 0 1 0 11.1 0a5.55 5.55 0 1 0 -11.1 0M713.15 369.18m-5.55 0a5.55 5.55 0 1 0 11.1 0a5.55 5.55 0 1 0 -11.1 0M709.37 371m-5.55 0a5.55 5.55 0 1 0 11.1 0a5.55 5.55 0 1 0 -11.1 0M710.48 372.75m-5.55 0a5.55 5.55 0 1 0 11.1 0a5.55 5.55 0 1 0 -11.1 0M706.57 374.5m-5.55 0a5.55 5.55 0 1 0 11.1 0a5.55 5.55 0 1 0 -11.1 0M707.38 376.25m-5.55 0a5.55 5.55 0 1 0 11.1 0a5.55 5.55 0 1 0 -11.1 0M703.61 378m-5.55 0a5.55 5.55 0 1 0 11.1 0a5.55 5.55 0 1 0 -11.1 0M704.67 380m-5.55 0a5.55 5.55 0 1 0 11.1 0a5.55 5.55 0 1 0 -11.1 0M701.4 382m-5.55 0a5.55 5.55 0 1 0 11.1 0a5.55 5.55 0 1 0 -11.1 0M702.1 384m-5.55 0a5.55 5.55 0 1 0 11.1 0a5.55 5.55 0 1 0 -11.1 0M698.6 386m-5.55 0a5.55 5.55 0 1 0 11.1 0a5.55 5.55 0 1 0 -11.1 0M699.51 388.18m-5.55 0a5.55 5.55 0 1 0 11.1 0a5.55 5.55 0 1 0 -11.1 0M696.19 390.35m-5.55 0a5.55 5.55 0 1 0 11.1 0a5.55 5.55 0 1 0 -11.1 0M697.72 392.52m-5.55 0a5.55 5.55 0 1 0 11.1 0a5.55 5.55 0 1 0 -11.1 0M694.65 394.7m-5.55 0a5.55 5.55 0 1 0 11.1 0a5.55 5.55 0 1 0 -11.1 0M695.39 396.36m-5.55 0a5.55 5.55 0 1 0 11.1 0a5.55 5.55 0 1 0 -11.1 0M692.03 398.02m-5.55 0a5.55 5.55 0 1 0 11.1 0a5.55 5.55 0 1 0 -11.1 0M693.01 399.68m-5.55 0a5.55 5.55 0 1 0 11.1 0a5.55 5.55 0 1 0 -11.1 0M689.74 401.34m-5.55 0a5.55 5.55 0 1 0 11.1 0a5.55 5.55 0 1 0 -11.1 0M690.67 403m-5.55 0a5.55 5.55 0 1 0 11.1 0a5.55 5.55 0 1 0 -11.1 0M687.3 405m-5.55 0a5.55 5.55 0 1 0 11.1 0a5.55 5.55 0 1 0 -11.1 0M687.86 407m-5.55 0a5.55 5.55 0 1 0 11.1 0a5.55 5.55 0 1 0 -11.1 0M684.49 409m-5.55 0a5.55 5.55 0 1 0 11.1 0a5.55 5.55 0 1 0 -11.1 0M685.58 411m-5.55 0a5.55 5.55 0 1 0 11.1 0a5.55 5.55 0 1 0 -11.1 0M682.02 413m-5.55 0a5.55 5.55 0 1 0 11.1 0a5.55 5.55 0 1 0 -11.1 0M682.93 415m-5.55 0a5.55 5.55 0 1 0 11.1 0a5.55 5.55 0 1 0 -11.1 0M679.49 417m-5.55 0a5.55 5.55 0 1 0 11.1 0a5.55 5.55 0 1 0 -11.1 0M680.36 419m-5.55 0a5.55 5.55 0 1 0 11.1 0a5.55 5.55 0 1 0 -11.1 0M676.91 421m-5.55 0a5.55 5.55 0 1 0 11.1 0a5.55 5.55 0 1 0 -11.1 0M677.83 423m-5.55 0a5.55 5.55 0 1 0 11.1 0a5.55 5.55 0 1 0 -11.1 0M674.24 425m-5.55 0a5.55 5.55 0 1 0 11.1 0a5.55 5.55 0 1 0 -11.1 0M675.41 426.98m-5.55 0a5.55 5.55 0 1 0 11.1 0a5.55 5.55 0 1 0 -11.1 0M672.29 428.97m-5.55 0a5.55 5.55 0 1 0 11.1 0a5.55 5.55 0 1 0 -11.1 0M672.96 430.95m-5.55 0a5.55 5.55 0 1 0 11.1 0a5.55 5.55 0 1 0 -11.1 0M670.01 432.93m-5.55 0a5.55 5.55 0 1 0 11.1 0a5.55 5.55 0 1 0 -11.1 0M671.07 434.92m-5.55 0a5.55 5.55 0 1 0 11.1 0a5.55 5.55 0 1 0 -11.1 0M667.4 436.9m-5.55 0a5.55 5.55 0 1 0 11.1 0a5.55 5.55 0 1 0 -11.1 0M668.76 438.72m-5.55 0a5.55 5.55 0 1 0 11.1 0a5.55 5.55 0 1 0 -11.1 0M664.93 440.54m-5.55 0a5.55 5.55 0 1 0 11.1 0a5.55 5.55 0 1 0 -11.1 0M665.79 442.36m-5.55 0a5.55 5.55 0 1 0 11.1 0a5.55 5.55 0 1 0 -11.1 0M662.51 444.18m-5.55 0a5.55 5.55 0 1 0 11.1 0a5.55 5.55 0 1 0 -11.1 0M663.78 446m-5.55 0a5.55 5.55 0 1 0 11.1 0a5.55 5.55 0 1 0 -11.1 0M660.07 448m-5.55 0a5.55 5.55 0 1 0 11.1 0a5.55 5.55 0 1 0 -11.1 0M661.26 450m-5.55 0a5.55 5.55 0 1 0 11.1 0a5.55 5.55 0 1 0 -11.1 0M657.92 452m-5.55 0a5.55 5.55 0 1 0 11.1 0a5.55 5.55 0 1 0 -11.1 0M658.88 454m-5.55 0a5.55 5.55 0 1 0 11.1 0a5.55 5.55 0 1 0 -11.1 0M655.31 456m-5.55 0a5.55 5.55 0 1 0 11.1 0a5.55 5.55 0 1 0 -11.1 0M656.37 457.6m-5.55 0a5.55 5.55 0 1 0 11.1 0a5.55 5.55 0 1 0 -11.1 0M653.03 459.2m-5.55 0a5.55 5.55 0 1 0 11.1 0a5.55 5.55 0 1 0 -11.1 0M654.05 460.8m-5.55 0a5.55 5.55 0 1 0 11.1 0a5.55 5.55 0 1 0 -11.1 0M650.35 462.4m-5.55 0a5.55 5.55 0 1 0 11.1 0a5.55 5.55 0 1 0 -11.1 0M651.79 464m-5.55 0a5.55 5.55 0 1 0 11.1 0a5.55 5.55 0 1 0 -11.1 0M647.98 465.74m-5.55 0a5.55 5.55 0 1 0 11.1 0a5.55 5.55 0 1 0 -11.1 0M649.49 467.48m-5.55 0a5.55 5.55 0 1 0 11.1 0a5.55 5.55 0 1 0 -11.1 0M646.01 469.22m-5.55 0a5.55 5.55 0 1 0 11.1 0a5.55 5.55 0 1 0 -11.1 0M646.83 470.96m-5.55 0a5.55 5.55 0 1 0 11.1 0a5.55 5.55 0 1 0 -11.1 0M643.59 472.7m-5.55 0a5.55 5.55 0 1 0 11.1 0a5.55 5.55 0 1 0 -11.1 0M644.65 474.56m-5.55 0a5.55 5.55 0 1 0 11.1 0a5.55 5.55 0 1 0 -11.1 0M641.54 476.42m-5.55 0a5.55 5.55 0 1 0 11.1 0a5.55 5.55 0 1 0 -11.1 0M642.8 478.28m-5.55 0a5.55 5.55 0 1 0 11.1 0a5.55 5.55 0 1 0 -11.1 0M639.19 480.14m-5.55 0a5.55 5.55 0 1 0 11.1 0a5.55 5.55 0 1 0 -11.1 0M640.67 482m-5.55 0a5.55 5.55 0 1 0 11.1 0a5.55 5.55 0 1 0 -11.1 0M637.32 483.96m-5.55 0a5.55 5.55 0 1 0 11.1 0a5.55 5.55 0 1 0 -11.1 0M638.63 485.92m-5.55 0a5.55 5.55 0 1 0 11.1 0a5.55 5.55 0 1 0 -11.1 0M635.82 487.88m-5.55 0a5.55 5.55 0 1 0 11.1 0a5.55 5.55 0 1 0 -11.1 0M637.38 489.84m-5.55 0a5.55 5.55 0 1 0 11.1 0a5.55 5.55 0 1 0 -11.1 0M634.18 491.8m-5.55 0a5.55 5.55 0 1 0 11.1 0a5.55 5.55 0 1 0 -11.1 0M635.05 493.64m-5.55 0a5.55 5.55 0 1 0 11.1 0a5.55 5.55 0 1 0 -11.1 0M631.98 495.48m-5.55 0a5.55 5.55 0 1 0 11.1 0a5.55 5.55 0 1 0 -11.1 0M632.63 497.32m-5.55 0a5.55 5.55 0 1 0 11.1 0a5.55 5.55 0 1 0 -11.1 0M629.28 499.16m-5.55 0a5.55 5.55 0 1 0 11.1 0a5.55 5.55 0 1 0 -11.1 0M630.89 501m-5.55 0a5.55 5.55 0 1 0 11.1 0a5.55 5.55 0 1 0 -11.1 0M627.1 503m-5.55 0a5.55 5.55 0 1 0 11.1 0a5.55 5.55 0 1 0 -11.1 0M628.01 505m-5.55 0a5.55 5.55 0 1 0 11.1 0a5.55 5.55 0 1 0 -11.1 0M624.89 507m-5.55 0a5.55 5.55 0 1 0 11.1 0a5.55 5.55 0 1 0 -11.1 0M625.67 509m-5.55 0a5.55 5.55 0 1 0 11.1 0a5.55 5.55 0 1 0 -11.1 0M622.28 511m-5.55 0a5.55 5.55 0 1 0 11.1 0a5.55 5.55 0 1 0 -11.1 0M623.72 512.8m-5.55 0a5.55 5.55 0 1 0 11.1 0a5.55 5.55 0 1 0 -11.1 0M620.41 514.6m-5.55 0a5.55 5.55 0 1 0 11.1 0a5.55 5.55 0 1 0 -11.1 0M621.63 516.4m-5.55 0a5.55 5.55 0 1 0 11.1 0a5.55 5.55 0 1 0 -11.1 0M618.6 518.2m-5.55 0a5.55 5.55 0 1 0 11.1 0a5.55 5.55 0 1 0 -11.1 0M619.64 520m-5.55 0a5.55 5.55 0 1 0 11.1 0a5.55 5.55 0 1 0 -11.1 0M616.2 521.75m-5.55 0a5.55 5.55 0 1 0 11.1 0a5.55 5.55 0 1 0 -11.1 0M617.91 523.5m-5.55 0a5.55 5.55 0 1 0 11.1 0a5.55 5.55 0 1 0 -11.1 0M614.83 525.25m-5.55 0a5.55 5.55 0 1 0 11.1 0a5.55 5.55 0 1 0 -11.1 0M615.93 527m-5.55 0a5.55 5.55 0 1 0 11.1 0a5.55 5.55 0 1 0 -11.1 0M612.73 529m-5.55 0a5.55 5.55 0 1 0 11.1 0a5.55 5.55 0 1 0 -11.1 0M614.13 531m-5.55 0a5.55 5.55 0 1 0 11.1 0a5.55 5.55 0 1 0 -11.1 0M610.98 533m-5.55 0a5.55 5.55 0 1 0 11.1 0a5.55 5.55 0 1 0 -11.1 0M612.6 535m-5.55 0a5.55 5.55 0 1 0 11.1 0a5.55 5.55 0 1 0 -11.1 0M609.5 537.37m-5.55 0a5.55 5.55 0 1 0 11.1 0a5.55 5.55 0 1 0 -11.1 0M611.03 539.73m-5.55 0a5.55 5.55 0 1 0 11.1 0a5.55 5.55 0 1 0 -11.1 0M607.8 542.1m-5.55 0a5.55 5.55 0 1 0 11.1 0a5.55 5.55 0 1 0 -11.1 0M609.74 544.28m-5.55 0a5.55 5.55 0 1 0 11.1 0a5.55 5.55 0 1 0 -11.1 0M606.56 546.46m-5.55 0a5.55 5.55 0 1 0 11.1 0a5.55 5.55 0 1 0 -11.1 0M607.9 548.64m-5.55 0a5.55 5.55 0 1 0 11.1 0a5.55 5.55 0 1 0 -11.1 0M605.15 550.82m-5.55 0a5.55 5.55 0 1 0 11.1 0a5.55 5.55 0 1 0 -11.1 0M606.36 553m-5.55 0a5.55 5.55 0 1 0 11.1 0a5.55 5.55 0 1 0 -11.1 0M603.73 555.2m-5.55 0a5.55 5.55 0 1 0 11.1 0a5.55 5.55 0 1 0 -11.1 0M605.63 557.4m-5.55 0a5.55 5.55 0 1 0 11.1 0a5.55 5.55 0 1 0 -11.1 0M602.76 559.6m-5.55 0a5.55 5.55 0 1 0 11.1 0a5.55 5.55 0 1 0 -11.1 0M604.23 561.8m-5.55 0a5.55 5.55 0 1 0 11.1 0a5.55 5.55 0 1 0 -11.1 0M601.39 564m-5.55 0a5.55 5.55 0 1 0 11.1 0a5.55 5.55 0 1 0 -11.1 0M602.55 566m-5.55 0a5.55 5.55 0 1 0 11.1 0a5.55 5.55 0 1 0 -11.1 0M599.22 568m-5.55 0a5.55 5.55 0 1 0 11.1 0a5.55 5.55 0 1 0 -11.1 0M600.8 570m-5.55 0a5.55 5.55 0 1 0 11.1 0a5.55 5.55 0 1 0 -11.1 0M597.18 572m-5.55 0a5.55 5.55 0 1 0 11.1 0a5.55 5.55 0 1 0 -11.1 0M598.5 574m-5.55 0a5.55 5.55 0 1 0 11.1 0a5.55 5.55 0 1 0 -11.1 0M594.9 576.15m-5.55 0a5.55 5.55 0 1 0 11.1 0a5.55 5.55 0 1 0 -11.1 0M596.18 578.3m-5.55 0a5.55 5.55 0 1 0 11.1 0a5.55 5.55 0 1 0 -11.1 0M592.77 580.45m-5.55 0a5.55 5.55 0 1 0 11.1 0a5.55 5.55 0 1 0 -11.1 0M594.11 582.6m-5.55 0a5.55 5.55 0 1 0 11.1 0a5.55 5.55 0 1 0 -11.1 0M590.79 584.77m-5.55 0a5.55 5.55 0 1 0 11.1 0a5.55 5.55 0 1 0 -11.1 0M592.53 586.94m-5.55 0a5.55 5.55 0 1 0 11.1 0a5.55 5.55 0 1 0 -11.1 0M589.41 589.11m-5.55 0a5.55 5.55 0 1 0 11.1 0a5.55 5.55 0 1 0 -11.1 0M590.72 591.29m-5.55 0a5.55 5.55 0 1 0 11.1 0a5.55 5.55 0 1 0 -11.1 0M587.62 593.46m-5.55 0a5.55 5.55 0 1 0 11.1 0a5.55 5.55 0 1 0 -11.1 0M589.06 595.63m-5.55 0a5.55 5.55 0 1 0 11.1 0a5.55 5.55 0 1 0 -11.1 0M585.61 597.8m-5.55 0a5.55 5.55 0 1 0 11.1 0a5.55 5.55 0 1 0 -11.1 0M587.36 599.82m-5.55 0a5.55 5.55 0 1 0 11.1 0a5.55 5.55 0 1 0 -11.1 0M584.47 601.84m-5.55 0a5.55 5.55 0 1 0 11.1 0a5.55 5.55 0 1 0 -11.1 0M585.58 603.86m-5.55 0a5.55 5.55 0 1 0 11.1 0a5.55 5.55 0 1 0 -11.1 0M582.4 605.88m-5.55 0a5.55 5.55 0 1 0 11.1 0a5.55 5.55 0 1 0 -11.1 0M584.13 607.9m-5.55 0a5.55 5.55 0 1 0 11.1 0a5.55 5.55 0 1 0 -11.1 0M581.16 609.93m-5.55 0a5.55 5.55 0 1 0 11.1 0a5.55 5.55 0 1 0 -11.1 0M583.23 611.97m-5.55 0a5.55 5.55 0 1 0 11.1 0a5.55 5.55 0 1 0 -11.1 0M581.5 614m-5.55 0a5.55 5.55 0 1 0 11.1 0a5.55 5.55 0 1 0 -11.1 0" fill="#0000ff"/></g>
<g clip-path="url(#c1)"><polyline points="774.3,21.4 774.3,24.34 774.2,27.29 774.2,30.23 774.3,33.18 774.3,36.12 774.4,39.07 774.5,43.49 775.5,50.85 776,58.21 778,65.57 783,72.94 790,80.3 790,87.66 790,95.03 785.5,109.75 780.4,124.47 779.3,139.2 777.1,153.93 774.2,168.65 775.3,205.46 763.3,242.28 726.1,315.9 684.5,389.52 629.2,463.15 596.4,536.77 572,610.4" fill="none" stroke="#008000" stroke-width="2.7" stroke-linejoin="round"/><path d="M774.3 21.4m-5.55 0a5.55 5.55 0 1 0 11.1 0a5.55 5.55 0 1 0 -11.1 0M774.3 24.34m-5.55 0a5.55 5.55 0 1 0 11.1 0a5.55 5.55 0 1 0 -11.1 0M774.2 27.29m-5.55 0a5.55 5.55 0 1 0 11.1 0a5.55 5.55 0 1 0 -11.1 0M774.2 30.23m-5.55 0a5.55 5.55 0 1 0 11.1 0a5.55 5.55 0 1 0 -11.1 0M774.3 33.18m-5.55 0a5.55 5.55 0 1 0 11.1 0a5.55 5.55 0 1 0 -11.1 0M774.3 36.12m-5.55 0a5.55 5.55 0 1 0 11.1 0a5.55 5.55 0 1 0 -11.1 0M774.4 39.07m-5.55 0a5.55 5.55 0 1 0 11.1 0a5.55 5.55 0 1 0 -11.1 0M774.5 43.49m-5.55 0a5.55 5.55 0 1 0 11.1 0a5.55 5.55 0 1 0 -11.1 0M775.5 50.85m-5.55 0a5.55 5.55 0 1 0 11.1 0a5.55 5.55 0 1 0 -11.1 0M776 58.21m-5.55 0a5.55 5.55 0 1 0 11.1 0a5.55 5.55 0 1 0 -11.1 0M778 65.57m-5.55 0a5.55 5.55 0 1 0 11.1 0a5.55 5.55 0 1 0 -11.1 0M783 72.94m-5.55 0a5.55 5.55 0 1 0 11.1 0a5.55 5.55 0 1 0 -11.1 0M790 80.3m-5.55 0a5.55 5.55 0 1 0 11.1 0a5.55 5.55 0 1 0 -11.1 0M790 87.66m-5.55 0a5.55 5.55 0 1 0 11.1 0a5.55 5.55 0 1 0 -11.1 0M790 95.03m-5.55 0a5.55 5.55 0 1 0 11.1 0a5.55 5.55 0 1 0 -11.1 0M785.5 109.75m-5.55 0a5.55 5.55 0 1 0 11.1 0a5.55 5.55 0 1 0 -11.1 0M780.4 124.47m-5.55 0a5.55 5.55 0 1 0 11.1 0a5.55 5.55 0 1 0 -11.1 0M779.3 139.2m-5.55 0a5.55 5.55 0 1 0 11.1 0a5.55 5.55 0 1 0 -11.1 0M777.1 153.93m-5.55 0a5.55 5.55 0 1 0 11.1 0a5.55 5.55 0 1 0 -11.1 0M774.2 168.65m-5.55 0a5.55 5.55 0 1 0 11.1 0a5.55 5.55 0 1 0 -11.1 0M775.3 205.46m-5.55 0a5.55 5.55 0 1 0 11.1 0a5.55 5.55 0 1 0 -11.1 0M763.3 242.28m-5.55 0a5.55 5.55 0 1 0 11.1 0a5.55 5.55 0 1 0 -11.1 0M726.1 315.9m-5.55 0a5.55 5.55 0 1 0 11.1 0a5.55 5.55 0 1 0 -11.1 0M684.5 389.52m-5.55 0a5.55 5.55 0 1 0 11.1 0a5.55 5.55 0 1 0 -11.1 0M629.2 463.15m-5.55 0a5.55 5.55 0 1 0 11.1 0a5.55 5.55 0 1 0 -11.1 0M596.4 536.77m-5.55 0a5.55 5.55 0 1 0 11.1 0a5.55 5.55 0 1 0 -11.1 0M572 610.4m-5.55 0a5.55 5.55 0 1 0 11.1 0a5.55 5.55 0 1 0 -11.1 0" fill="#008000"/></g>
<g clip-path="url(#c1)"><polyline points="784,21.4 784,24.34 784,27.29 784,30.23 784,33.18 784,36.12 784,39.07 784.2,43.49 784.5,50.85 785.5,58.21 787.5,65.57 788.3,72.94 789.2,80.3 788.3,87.66 786.4,95.03 786,109.75 786.1,124.47 790.6,139.2 799.6,153.93 805.2,168.65 801.1,205.46 793.4,242.28 753.3,315.9 706.7,389.52 657.9,463.15 624.6,536.77 592.2,610.4" fill="none" stroke="#ff0000" stroke-width="2.7" stroke-linejoin="round"/><path d="M784 21.4m-5.55 0a5.55 5.55 0 1 0 11.1 0a5.55 5.55 0 1 0 -11.1 0M784 24.34m-5.55 0a5.55 5.55 0 1 0 11.1 0a5.55 5.55 0 1 0 -11.1 0M784 27.29m-5.55 0a5.55 5.55 0 1 0 11.1 0a5.55 5.55 0 1 0 -11.1 0M784 30.23m-5.55 0a5.55 5.55 0 1 0 11.1 0a5.55 5.55 0 1 0 -11.1 0M784 33.18m-5.55 0a5.55 5.55 0 1 0 11.1 0a5.55 5.55 0 1 0 -11.1 0M784 36.12m-5.55 0a5.55 5.55 0 1 0 11.1 0a5.55 5.55 0 1 0 -11.1 0M784 39.07m-5.55 0a5.55 5.55 0 1 0 11.1 0a5.55 5.55 0 1 0 -11.1 0M784.2 43.49m-5.55 0a5.55 5.55 0 1 0 11.1 0a5.55 5.55 0 1 0 -11.1 0M784.5 50.85m-5.55 0a5.55 5.55 0 1 0 11.1 0a5.55 5.55 0 1 0 -11.1 0M785.5 58.21m-5.55 0a5.55 5.55 0 1 0 11.1 0a5.55 5.55 0 1 0 -11.1 0M787.5 65.57m-5.55 0a5.55 5.55 0 1 0 11.1 0a5.55 5.55 0 1 0 -11.1 0M788.3 72.94m-5.55 0a5.55 5.55 0 1 0 11.1 0a5.55 5.55 0 1 0 -11.1 0M789.2 80.3m-5.55 0a5.55 5.55 0 1 0 11.1 0a5.55 5.55 0 1 0 -11.1 0M788.3 87.66m-5.55 0a5.55 5.55 0 1 0 11.1 0a5.55 5.55 0 1 0 -11.1 0M786.4 95.03m-5.55 0a5.55 5.55 0 1 0 11.1 0a5.55 5.55 0 1 0 -11.1 0M786 109.75m-5.55 0a5.55 5.55 0 1 0 11.1 0a5.55 5.55 0 1 0 -11.1 0M786.1 124.47m-5.55 0a5.55 5.55 0 1 0 11.1 0a5.55 5.55 0 1 0 -11.1 0M790.6 139.2m-5.55 0a5.55 5.55 0 1 0 11.1 0a5.55 5.55 0 1 0 -11.1 0M799.6 153.93m-5.55 0a5.55 5.55 0 1 0 11.1 0a5.55 5.55 0 1 0 -11.1 0M805.2 168.65m-5.55 0a5.55 5.55 0 1 0 11.1 0a5.55 5.55 0 1 0 -11.1 0M801.1 205.46m-5.55 0a5.55 5.55 0 1 0 11.1 0a5.55 5.55 0 1 0 -11.1 0M793.4 242.28m-5.55 0a5.55 5.55 0 1 0 11.1 0a5.55 5.55 0 1 0 -11.1 0M753.3 315.9m-5.55 0a5.55 5.55 0 1 0 11.1 0a5.55 5.55 0 1 0 -11.1 0M706.7 389.52m-5.55 0a5.55 5.55 0 1 0 11.1 0a5.55 5.55 0 1 0 -11.1 0M657.9 463.15m-5.55 0a5.55 5.55 0 1 0 11.1 0a5.55 5.55 0 1 0 -11.1 0M624.6 536.77m-5.55 0a5.55 5.55 0 1 0 11.1 0a5.55 5.55 0 1 0 -11.1 0M592.2 610.4m-5.55 0a5.55 5.55 0 1 0 11.1 0a5.55 5.55 0 1 0 -11.1 0" fill="#ff0000"/></g>
<g clip-path="url(#c1)"><polyline points="794.5,22.13 794.4,23.67 794.3,25.3 794.2,27.02 794.1,28.88 794,30.88 793.9,33.08 793.8,35.5 793.8,38.19 793.7,41.23 793.7,44.68 793.7,48.64 793.8,53.2 794.5,58.52 797.5,64.76 811,72.1 820.1,80.81 814.5,91.16 811.4,103.51 808.5,118.3 808.5,136.04 813,157.35 821.3,182.98 825.4,213.81 812.4,250.89 779.1,295.47 739.2,348.99 694.9,413.14 643.1,489.84 598.7,581.26" fill="none" stroke="#ff00ff" stroke-width="2.7" stroke-linejoin="round"/><path d="M794.5 22.13m-5.55 0a5.55 5.55 0 1 0 11.1 0a5.55 5.55 0 1 0 -11.1 0M794.4 23.67m-5.55 0a5.55 5.55 0 1 0 11.1 0a5.55 5.55 0 1 0 -11.1 0M794.3 25.3m-5.55 0a5.55 5.55 0 1 0 11.1 0a5.55 5.55 0 1 0 -11.1 0M794.2 27.02m-5.55 0a5.55 5.55 0 1 0 11.1 0a5.55 5.55 0 1 0 -11.1 0M794.1 28.88m-5.55 0a5.55 5.55 0 1 0 11.1 0a5.55 5.55 0 1 0 -11.1 0M794 30.88m-5.55 0a5.55 5.55 0 1 0 11.1 0a5.55 5.55 0 1 0 -11.1 0M793.9 33.08m-5.55 0a5.55 5.55 0 1 0 11.1 0a5.55 5.55 0 1 0 -11.1 0M793.8 35.5m-5.55 0a5.55 5.55 0 1 0 11.1 0a5.55 5.55 0 1 0 -11.1 0M793.8 38.19m-5.55 0a5.55 5.55 0 1 0 11.1 0a5.55 5.55 0 1 0 -11.1 0M793.7 41.23m-5.55 0a5.55 5.55 0 1 0 11.1 0a5.55 5.55 0 1 0 -11.1 0M793.7 44.68m-5.55 0a5.55 5.55 0 1 0 11.1 0a5.55 5.55 0 1 0 -11.1 0M793.7 48.64m-5.55 0a5.55 5.55 0 1 0 11.1 0a5.55 5.55 0 1 0 -11.1 0M793.8 53.2m-5.55 0a5.55 5.55 0 1 0 11.1 0a5.55 5.55 0 1 0 -11.1 0M794.5 58.52m-5.55 0a5.55 5.55 0 1 0 11.1 0a5.55 5.55 0 1 0 -11.1 0M797.5 64.76m-5.55 0a5.55 5.55 0 1 0 11.1 0a5.55 5.55 0 1 0 -11.1 0M811 72.1m-5.55 0a5.55 5.55 0 1 0 11.1 0a5.55 5.55 0 1 0 -11.1 0M820.1 80.81m-5.55 0a5.55 5.55 0 1 0 11.1 0a5.55 5.55 0 1 0 -11.1 0M814.5 91.16m-5.55 0a5.55 5.55 0 1 0 11.1 0a5.55 5.55 0 1 0 -11.1 0M811.4 103.51m-5.55 0a5.55 5.55 0 1 0 11.1 0a5.55 5.55 0 1 0 -11.1 0M808.5 118.3m-5.55 0a5.55 5.55 0 1 0 11.1 0a5.55 5.55 0 1 0 -11.1 0M808.5 136.04m-5.55 0a5.55 5.55 0 1 0 11.1 0a5.55 5.55 0 1 0 -11.1 0M813 157.35m-5.55 0a5.55 5.55 0 1 0 11.1 0a5.55 5.55 0 1 0 -11.1 0M821.3 182.98m-5.55 0a5.55 5.55 0 1 0 11.1 0a5.55 5.55 0 1 0 -11.1 0M825.4 213.81m-5.55 0a5.55 5.55 0 1 0 11.1 0a5.55 5.55 0 1 0 -11.1 0M812.4 250.89m-5.55 0a5.55 5.55 0 1 0 11.1 0a5.55 5.55 0 1 0 -11.1 0M779.1 295.47m-5.55 0a5.55 5.55 0 1 0 11.1 0a5.55 5.55 0 1 0 -11.1 0M739.2 348.99m-5.55 0a5.55 5.55 0 1 0 11.1 0a5.55 5.55 0 1 0 -11.1 0M694.9 413.14m-5.55 0a5.55 5.55 0 1 0 11.1 0a5.55 5.55 0 1 0 -11.1 0M643.1 489.84m-5.55 0a5.55 5.55 0 1 0 11.1 0a5.55 5.55 0 1 0 -11.1 0M598.7 581.26m-5.55 0a5.55 5.55 0 1 0 11.1 0a5.55 5.55 0 1 0 -11.1 0" fill="#ff00ff"/></g>
<g clip-path="url(#c2)"><polyline points="984.5,21.4 984.26,23.2 985.45,25 985,26.75 986.51,28.5 986.27,30.75 987.66,33 987.21,35 988.66,37 988.28,39 989.8,41.33 989.23,43.67 990.76,46 990.19,48 991.65,50 991.2,52 992.81,54.5 992.43,57 994.14,59 993.76,61 995.12,62.75 994.52,64.5 995.81,66.33 995.13,68.17 996.43,70 996.23,72.5 997.77,75 997.28,77.25 998.83,79.5 998.08,81.5 999,83.5 1025.7,86.5 1027.41,86.6 1030.57,86.7 1031.71,86.8 1034.92,86.9 1035.93,87 1038.78,88 1039.91,89 1042.61,90 1043.51,91 1046.46,92 1047.15,93.5 1049.75,95 1050.5,96.5 1053.09,98 1053.86,99.5 1056.84,100.8 1056.38,102.1 1060.07,103.4 1059.41,104.7 1063.17,106 1062.67,107.58 1066.8,109.16 1066.36,110.74 1070,112.32 1069.87,113.9 1073.78,115.32 1073.05,116.74 1076.79,118.16 1076.34,119.58 1079.82,121 1079.62,122.44 1083.48,123.88 1083.36,125.32 1086.71,126.76 1086.57,128.2 1090.47,129.4 1090.09,130.6 1093.53,131.8 1093.08,133 1096.69,134.57 1096.94,136.13 1100.79,137.7 1099.99,139.8 1103.31,141.9 1102.99,144 1106.04,146.03 1105.54,148.05 1108.78,150.07 1108.06,152.1 1111.83,154 1111.12,155.9 1114.72,157.8 1114.09,159.7 1117.16,161.6 1116.54,163.7 1119.44,165.8 1119.04,167.9 1121.92,170 1121.21,172.07 1124.24,174.15 1123.93,176.23 1127.04,178.3 1126.73,179.87 1130.48,181.43 1129.85,183 1133.63,184.22 1133.51,185.45 1137.14,186.68 1136.87,187.9 1140.94,189.27 1140.98,190.63 1145.02,192 1144.28,193.35 1147.86,194.7 1147.42,196.05 1150.87,197.4 1150.77,199.05 1154.26,200.7 1154.01,202.35 1157.97,204 1157.44,205.54 1160.57,207.08 1160.34,208.62 1163.68,210.16 1163.37,211.7 1166.7,213.16 1166.24,214.62 1169.59,216.08 1169.4,217.54 1172.94,219 1172.71,220.42 1176.41,221.84 1176.22,223.26 1180.11,224.68 1180.07,226.1 1182.85,227.57 1182.36,229.05 1185.88,230.53 1185.16,232 1188.41,234 1187.93,236 1191.27,238 1190.63,239.8 1193.51,241.6 1192.86,243.4 1195.89,245.2 1195.14,247 1198.16,249.02 1197.43,251.04 1200.51,253.06 1200.05,255.08 1203.37,257.1 1202.18,259.55 1204.63,262 1203.65,264 1206.55,266 1205.87,268 1208.57,270 1207.54,272 1210.35,274 1209.69,276 1212.42,278 1211.4,280 1214.43,282 1213.33,284 1216.22,286 1215.5,288 1218.37,290 1217.16,292 1220.06,294 1219.11,296 1221.54,298 1220.61,300 1223.21,302 1222.01,304 1224.96,306 1223.75,308 1226.13,310 1224.89,312 1227.77,314 1226.37,316 1229.11,318 1228.18,320 1230.56,322 1229.32,324 1231.99,326 1230.97,328 1233.5,330 1232.38,332 1234.96,334 1233.62,336 1236.31,338 1235.54,340 1238.17,342 1236.54,344 1239.55,346 1238.11,348 1240.9,350 1239.23,352 1241.85,354 1240.56,356 1243.38,358 1241.84,360 1244.47,362 1243.26,364 1245.62,366 1244.53,368 1246.73,370 1245.6,372 1248.08,374 1246.73,376 1249.2,378 1247.93,380 1250.75,382 1249.16,384 1252.09,386 1250.41,388 1253.18,390 1252.07,392 1254.5,394 1253.24,396 1255.52,398 1254.24,400 1256.87,402 1255.6,404 1258.31,406 1256.75,408 1259.26,410 1258.16,412 1260.69,414 1259.17,416 1261.78,418 1260.35,420 1262.61,422 1261.36,424 1263.99,426 1262.62,428 1265.06,430 1263.34,432 1266.17,434 1264.5,436 1266.9,438 1265.72,440 1268.43,442 1267.1,444 1269.23,446 1268.07,448 1270.43,450 1269.08,452 1271.49,454 1269.99,456 1272.34,458 1271.41,460 1273.48,462 1272.46,464 1274.53,466 1273.13,468 1275.99,470 1274.64,472 1276.92,474 1275.65,476 1277.95,478 1276.75,480 1279.23,482 1277.72,484 1280.13,486 1278.95,488 1281.16,490 1280.02,492 1282.27,494 1280.7,496 1283.14,498 1281.96,500 1284.01,502 1282.78,504 1285.17,506 1283.54,508 1286.02,510 1284.5,512 1287.08,514 1285.59,516 1287.88,518 1286.48,520 1288.96,522 1287.46,524 1289.91,526 1288.4,528 1290.66,530 1289.32,532 1291.83,534 1290.51,536 1292.66,538 1291.3,540 1293.84,542 1292.01,544 1294.56,546 1292.99,548 1295.72,550 1294.25,552 1296.5,554 1295.24,556 1297.59,558 1295.9,560 1298.55,562 1296.78,564 1299.4,566 1297.77,568 1300.31,570 1299.03,572 1301.28,574 1300.04,576 1302.03,578 1300.63,580 1302.94,582 1301.86,584 1303.81,586 1302.32,588 1304.69,590 1303.57,592 1305.84,594 1304.36,596 1306.69,598 1304.94,600 1307.52,602 1305.64,604 1308.24,606 1306.56,608 1308.82,610 1307.41,612 1308.9,614" fill="none" stroke="#0000ff" stroke-width="2.7" stroke-linejoin="round"/><path d="M984.5 21.4m-5.55 0a5.55 5.55 0 1 0 11.1 0a5.55 5.55 0 1 0 -11.1 0M984.26 23.2m-5.55 0a5.55 5.55 0 1 0 11.1 0a5.55 5.55 0 1 0 -11.1 0M985.45 25m-5.55 0a5.55 5.55 0 1 0 11.1 0a5.55 5.55 0 1 0 -11.1 0M985 26.75m-5.55 0a5.55 5.55 0 1 0 11.1 0a5.55 5.55 0 1 0 -11.1 0M986.51 28.5m-5.55 0a5.55 5.55 0 1 0 11.1 0a5.55 5.55 0 1 0 -11.1 0M986.27 30.75m-5.55 0a5.55 5.55 0 1 0 11.1 0a5.55 5.55 0 1 0 -11.1 0M987.66 33m-5.55 0a5.55 5.55 0 1 0 11.1 0a5.55 5.55 0 1 0 -11.1 0M987.21 35m-5.55 0a5.55 5.55 0 1 0 11.1 0a5.55 5.55 0 1 0 -11.1 0M988.66 37m-5.55 0a5.55 5.55 0 1 0 11.1 0a5.55 5.55 0 1 0 -11.1 0M988.28 39m-5.55 0a5.55 5.55 0 1 0 11.1 0a5.55 5.55 0 1 0 -11.1 0M989.8 41.33m-5.55 0a5.55 5.55 0 1 0 11.1 0a5.55 5.55 0 1 0 -11.1 0M989.23 43.67m-5.55 0a5.55 5.55 0 1 0 11.1 0a5.55 5.55 0 1 0 -11.1 0M990.76 46m-5.55 0a5.55 5.55 0 1 0 11.1 0a5.55 5.55 0 1 0 -11.1 0M990.19 48m-5.55 0a5.55 5.55 0 1 0 11.1 0a5.55 5.55 0 1 0 -11.1 0M991.65 50m-5.55 0a5.55 5.55 0 1 0 11.1 0a5.55 5.55 0 1 0 -11.1 0M991.2 52m-5.55 0a5.55 5.55 0 1 0 11.1 0a5.55 5.55 0 1 0 -11.1 0M992.81 54.5m-5.55 0a5.55 5.55 0 1 0 11.1 0a5.55 5.55 0 1 0 -11.1 0M992.43 57m-5.55 0a5.55 5.55 0 1 0 11.1 0a5.55 5.55 0 1 0 -11.1 0M994.14 59m-5.55 0a5.55 5.55 0 1 0 11.1 0a5.55 5.55 0 1 0 -11.1 0M993.76 61m-5.55 0a5.55 5.55 0 1 0 11.1 0a5.55 5.55 0 1 0 -11.1 0M995.12 62.75m-5.55 0a5.55 5.55 0 1 0 11.1 0a5.55 5.55 0 1 0 -11.1 0M994.52 64.5m-5.55 0a5.55 5.55 0 1 0 11.1 0a5.55 5.55 0 1 0 -11.1 0M995.81 66.33m-5.55 0a5.55 5.55 0 1 0 11.1 0a5.55 5.55 0 1 0 -11.1 0M995.13 68.17m-5.55 0a5.55 5.55 0 1 0 11.1 0a5.55 5.55 0 1 0 -11.1 0M996.43 70m-5.55 0a5.55 5.55 0 1 0 11.1 0a5.55 5.55 0 1 0 -11.1 0M996.23 72.5m-5.55 0a5.55 5.55 0 1 0 11.1 0a5.55 5.55 0 1 0 -11.1 0M997.77 75m-5.55 0a5.55 5.55 0 1 0 11.1 0a5.55 5.55 0 1 0 -11.1 0M997.28 77.25m-5.55 0a5.55 5.55 0 1 0 11.1 0a5.55 5.55 0 1 0 -11.1 0M998.83 79.5m-5.55 0a5.55 5.55 0 1 0 11.1 0a5.55 5.55 0 1 0 -11.1 0M998.08 81.5m-5.55 0a5.55 5.55 0 1 0 11.1 0a5.55 5.55 0 1 0 -11.1 0M999 83.5m-5.55 0a5.55 5.55 0 1 0 11.1 0a5.55 5.55 0 1 0 -11.1 0M1025.7 86.5m-5.55 0a5.55 5.55 0 1 0 11.1 0a5.55 5.55 0 1 0 -11.1 0M1027.41 86.6m-5.55 0a5.55 5.55 0 1 0 11.1 0a5.55 5.55 0 1 0 -11.1 0M1030.57 86.7m-5.55 0a5.55 5.55 0 1 0 11.1 0a5.55 5.55 0 1 0 -11.1 0M1031.71 86.8m-5.55 0a5.55 5.55 0 1 0 11.1 0a5.55 5.55 0 1 0 -11.1 0M1034.92 86.9m-5.55 0a5.55 5.55 0 1 0 11.1 0a5.55 5.55 0 1 0 -11.1 0M1035.93 87m-5.55 0a5.55 5.55 0 1 0 11.1 0a5.55 5.55 0 1 0 -11.1 0M1038.78 88m-5.55 0a5.55 5.55 0 1 0 11.1 0a5.55 5.55 0 1 0 -11.1 0M1039.91 89m-5.55 0a5.55 5.55 0 1 0 11.1 0a5.55 5.55 0 1 0 -11.1 0M1042.61 90m-5.55 0a5.55 5.55 0 1 0 11.1 0a5.55 5.55 0 1 0 -11.1 0M1043.51 91m-5.55 0a5.55 5.55 0 1 0 11.1 0a5.55 5.55 0 1 0 -11.1 0M1046.46 92m-5.55 0a5.55 5.55 0 1 0 11.1 0a5.55 5.55 0 1 0 -11.1 0M1047.15 93.5m-5.55 0a5.55 5.55 0 1 0 11.1 0a5.55 5.55 0 1 0 -11.1 0M1049.75 95m-5.55 0a5.55 5.55 0 1 0 11.1 0a5.55 5.55 0 1 0 -11.1 0M1050.5 96.5m-5.55 0a5.55 5.55 0 1 0 11.1 0a5.55 5.55 0 1 0 -11.1 0M1053.09 98m-5.55 0a5.55 5.55 0 1 0 11.1 0a5.55 5.55 0 1 0 -11.1 0M1053.86 99.5m-5.55 0a5.55 5.55 0 1 0 11.1 0a5.55 5.55 0 1 0 -11.1 0M1056.84 100.8m-5.55 0a5.55 5.55 0 1 0 11.1 0a5.55 5.55 0 1 0 -11.1 0M1056.38 102.1m-5.55 0a5.55 5.55 0 1 0 11.1 0a5.55 5.55 0 1 0 -11.1 0M1060.07 103.4m-5.55 0a5.55 5.55 0 1 0 11.1 0a5.55 5.55 0 1 0 -11.1 0M1059.41 104.7m-5.55 0a5.55 5.55 0 1 0 11.1 0a5.55 5.55 0 1 0 -11.1 0M1063.17 106m-5.55 0a5.55 5.55 0 1 0 11.1 0a5.55 5.55 0 1 0 -11.1 0M1062.67 107.58m-5.55 0a5.55 5.55 0 1 0 11.1 0a5.55 5.55 0 1 0 -11.1 0M1066.8 109.16m-5.55 0a5.55 5.55 0 1 0 11.1 0a5.55 5.55 0 1 0 -11.1 0M1066.36 110.74m-5.55 0a5.55 5.55 0 1 0 11.1 0a5.55 5.55 0 1 0 -11.1 0M1070 112.32m-5.55 0a5.55 5.55 0 1 0 11.1 0a5.55 5.55 0 1 0 -11.1 0M1069.87 113.9m-5.55 0a5.55 5.55 0 1 0 11.1 0a5.55 5.55 0 1 0 -11.1 0M1073.78 115.32m-5.55 0a5.55 5.55 0 1 0 11.1 0a5.55 5.55 0 1 0 -11.1 0M1073.05 116.74m-5.55 0a5.55 5.55 0 1 0 11.1 0a5.55 5.55 0 1 0 -11.1 0M1076.79 118.16m-5.55 0a5.55 5.55 0 1 0 11.1 0a5.55 5.55 0 1 0 -11.1 0M1076.34 119.58m-5.55 0a5.55 5.55 0 1 0 11.1 0a5.55 5.55 0 1 0 -11.1 0M1079.82 121m-5.55 0a5.55 5.55 0 1 0 11.1 0a5.55 5.55 0 1 0 -11.1 0M1079.62 122.44m-5.55 0a5.55 5.55 0 1 0 11.1 0a5.55 5.55 0 1 0 -11.1 0M1083.48 123.88m-5.55 0a5.55 5.55 0 1 0 11.1 0a5.55 5.55 0 1 0 -11.1 0M1083.36 125.32m-5.55 0a5.55 5.55 0 1 0 11.1 0a5.55 5.55 0 1 0 -11.1 0M1086.71 126.76m-5.55 0a5.55 5.55 0 1 0 11.1 0a5.55 5.55 0 1 0 -11.1 0M1086.57 128.2m-5.55 0a5.55 5.55 0 1 0 11.1 0a5.55 5.55 0 1 0 -11.1 0M1090.47 129.4m-5.55 0a5.55 5.55 0 1 0 11.1 0a5.55 5.55 0 1 0 -11.1 0M1090.09 130.6m-5.55 0a5.55 5.55 0 1 0 11.1 0a5.55 5.55 0 1 0 -11.1 0M1093.53 131.8m-5.55 0a5.55 5.55 0 1 0 11.1 0a5.55 5.55 0 1 0 -11.1 0M1093.08 133m-5.55 0a5.55 5.55 0 1 0 11.1 0a5.55 5.55 0 1 0 -11.1 0M1096.69 134.57m-5.55 0a5.55 5.55 0 1 0 11.1 0a5.55 5.55 0 1 0 -11.1 0M1096.94 136.13m-5.55 0a5.55 5.55 0 1 0 11.1 0a5.55 5.55 0 1 0 -11.1 0M1100.79 137.7m-5.55 0a5.55 5.55 0 1 0 11.1 0a5.55 5.55 0 1 0 -11.1 0M1099.99 139.8m-5.55 0a5.55 5.55 0 1 0 11.1 0a5.55 5.55 0 1 0 -11.1 0M1103.31 141.9m-5.55 0a5.55 5.55 0 1 0 11.1 0a5.55 5.55 0 1 0 -11.1 0M1102.99 144m-5.55 0a5.55 5.55 0 1 0 11.1 0a5.55 5.55 0 1 0 -11.1 0M1106.04 146.03m-5.55 0a5.55 5.55 0 1 0 11.1 0a5.55 5.55 0 1 0 -11.1 0M1105.54 148.05m-5.55 0a5.55 5.55 0 1 0 11.1 0a5.55 5.55 0 1 0 -11.1 0M1108.78 150.07m-5.55 0a5.55 5.55 0 1 0 11.1 0a5.55 5.55 0 1 0 -11.1 0M1108.06 152.1m-5.55 0a5.55 5.55 0 1 0 11.1 0a5.55 5.55 0 1 0 -11.1 0M1111.83 154m-5.55 0a5.55 5.55 0 1 0 11.1 0a5.55 5.55 0 1 0 -11.1 0M1111.12 155.9m-5.55 0a5.55 5.55 0 1 0 11.1 0a5.55 5.55 0 1 0 -11.1 0M1114.72 157.8m-5.55 0a5.55 5.55 0 1 0 11.1 0a5.55 5.55 0 1 0 -11.1 0M1114.09 159.7m-5.55 0a5.55 5.55 0 1 0 11.1 0a5.55 5.55 0 1 0 -11.1 0M1117.16 161.6m-5.55 0a5.55 5.55 0 1 0 11.1 0a5.55 5.55 0 1 0 -11.1 0M1116.54 163.7m-5.55 0a5.55 5.55 0 1 0 11.1 0a5.55 5.55 0 1 0 -11.1 0M1119.44 165.8m-5.55 0a5.55 5.55 0 1 0 11.1 0a5.55 5.55 0 1 0 -11.1 0M1119.04 167.9m-5.55 0a5.55 5.55 0 1 0 11.1 0a5.55 5.55 0 1 0 -11.1 0M1121.92 170m-5.55 0a5.55 5.55 0 1 0 11.1 0a5.55 5.55 0 1 0 -11.1 0M1121.21 172.07m-5.55 0a5.55 5.55 0 1 0 11.1 0a5.55 5.55 0 1 0 -11.1 0M1124.24 174.15m-5.55 0a5.55 5.55 0 1 0 11.1 0a5.55 5.55 0 1 0 -11.1 0M1123.93 176.23m-5.55 0a5.55 5.55 0 1 0 11.1 0a5.55 5.55 0 1 0 -11.1 0M1127.04 178.3m-5.55 0a5.55 5.55 0 1 0 11.1 0a5.55 5.55 0 1 0 -11.1 0M1126.73 179.87m-5.55 0a5.55 5.55 0 1 0 11.1 0a5.55 5.55 0 1 0 -11.1 0M1130.48 181.43m-5.55 0a5.55 5.55 0 1 0 11.1 0a5.55 5.55 0 1 0 -11.1 0M1129.85 183m-5.55 0a5.55 5.55 0 1 0 11.1 0a5.55 5.55 0 1 0 -11.1 0M1133.63 184.22m-5.55 0a5.55 5.55 0 1 0 11.1 0a5.55 5.55 0 1 0 -11.1 0M1133.51 185.45m-5.55 0a5.55 5.55 0 1 0 11.1 0a5.55 5.55 0 1 0 -11.1 0M1137.14 186.68m-5.55 0a5.55 5.55 0 1 0 11.1 0a5.55 5.55 0 1 0 -11.1 0M1136.87 187.9m-5.55 0a5.55 5.55 0 1 0 11.1 0a5.55 5.55 0 1 0 -11.1 0M1140.94 189.27m-5.55 0a5.55 5.55 0 1 0 11.1 0a5.55 5.55 0 1 0 -11.1 0M1140.98 190.63m-5.55 0a5.55 5.55 0 1 0 11.1 0a5.55 5.55 0 1 0 -11.1 0M1145.02 192m-5.55 0a5.55 5.55 0 1 0 11.1 0a5.55 5.55 0 1 0 -11.1 0M1144.28 193.35m-5.55 0a5.55 5.55 0 1 0 11.1 0a5.55 5.55 0 1 0 -11.1 0M1147.86 194.7m-5.55 0a5.55 5.55 0 1 0 11.1 0a5.55 5.55 0 1 0 -11.1 0M1147.42 196.05m-5.55 0a5.55 5.55 0 1 0 11.1 0a5.55 5.55 0 1 0 -11.1 0M1150.87 197.4m-5.55 0a5.55 5.55 0 1 0 11.1 0a5.55 5.55 0 1 0 -11.1 0M1150.77 199.05m-5.55 0a5.55 5.55 0 1 0 11.1 0a5.55 5.55 0 1 0 -11.1 0M1154.26 200.7m-5.55 0a5.55 5.55 0 1 0 11.1 0a5.55 5.55 0 1 0 -11.1 0M1154.01 202.35m-5.55 0a5.55 5.55 0 1 0 11.1 0a5.55 5.55 0 1 0 -11.1 0M1157.97 204m-5.55 0a5.55 5.55 0 1 0 11.1 0a5.55 5.55 0 1 0 -11.1 0M1157.44 205.54m-5.55 0a5.55 5.55 0 1 0 11.1 0a5.55 5.55 0 1 0 -11.1 0M1160.57 207.08m-5.55 0a5.55 5.55 0 1 0 11.1 0a5.55 5.55 0 1 0 -11.1 0M1160.34 208.62m-5.55 0a5.55 5.55 0 1 0 11.1 0a5.55 5.55 0 1 0 -11.1 0M1163.68 210.16m-5.55 0a5.55 5.55 0 1 0 11.1 0a5.55 5.55 0 1 0 -11.1 0M1163.37 211.7m-5.55 0a5.55 5.55 0 1 0 11.1 0a5.55 5.55 0 1 0 -11.1 0M1166.7 213.16m-5.55 0a5.55 5.55 0 1 0 11.1 0a5.55 5.55 0 1 0 -11.1 0M1166.24 214.62m-5.55 0a5.55 5.55 0 1 0 11.1 0a5.55 5.55 0 1 0 -11.1 0M1169.59 216.08m-5.55 0a5.55 5.55 0 1 0 11.1 0a5.55 5.55 0 1 0 -11.1 0M1169.4 217.54m-5.55 0a5.55 5.55 0 1 0 11.1 0a5.55 5.55 0 1 0 -11.1 0M1172.94 219m-5.55 0a5.55 5.55 0 1 0 11.1 0a5.55 5.55 0 1 0 -11.1 0M1172.71 220.42m-5.55 0a5.55 5.55 0 1 0 11.1 0a5.55 5.55 0 1 0 -11.1 0M1176.41 221.84m-5.55 0a5.55 5.55 0 1 0 11.1 0a5.55 5.55 0 1 0 -11.1 0M1176.22 223.26m-5.55 0a5.55 5.55 0 1 0 11.1 0a5.55 5.55 0 1 0 -11.1 0M1180.11 224.68m-5.55 0a5.55 5.55 0 1 0 11.1 0a5.55 5.55 0 1 0 -11.1 0M1180.07 226.1m-5.55 0a5.55 5.55 0 1 0 11.1 0a5.55 5.55 0 1 0 -11.1 0M1182.85 227.57m-5.55 0a5.55 5.55 0 1 0 11.1 0a5.55 5.55 0 1 0 -11.1 0M1182.36 229.05m-5.55 0a5.55 5.55 0 1 0 11.1 0a5.55 5.55 0 1 0 -11.1 0M1185.88 230.53m-5.55 0a5.55 5.55 0 1 0 11.1 0a5.55 5.55 0 1 0 -11.1 0M1185.16 232m-5.55 0a5.55 5.55 0 1 0 11.1 0a5.55 5.55 0 1 0 -11.1 0M1188.41 234m-5.55 0a5.55 5.55 0 1 0 11.1 0a5.55 5.55 0 1 0 -11.1 0M1187.93 236m-5.55 0a5.55 5.55 0 1 0 11.1 0a5.55 5.55 0 1 0 -11.1 0M1191.27 238m-5.55 0a5.55 5.55 0 1 0 11.1 0a5.55 5.55 0 1 0 -11.1 0M1190.63 239.8m-5.55 0a5.55 5.55 0 1 0 11.1 0a5.55 5.55 0 1 0 -11.1 0M1193.51 241.6m-5.55 0a5.55 5.55 0 1 0 11.1 0a5.55 5.55 0 1 0 -11.1 0M1192.86 243.4m-5.55 0a5.55 5.55 0 1 0 11.1 0a5.55 5.55 0 1 0 -11.1 0M1195.89 245.2m-5.55 0a5.55 5.55 0 1 0 11.1 0a5.55 5.55 0 1 0 -11.1 0M1195.14 247m-5.55 0a5.55 5.55 0 1 0 11.1 0a5.55 5.55 0 1 0 -11.1 0M1198.16 249.02m-5.55 0a5.55 5.55 0 1 0 11.1 0a5.55 5.55 0 1 0 -11.1 0M1197.43 251.04m-5.55 0a5.55 5.55 0 1 0 11.1 0a5.55 5.55 0 1 0 -11.1 0M1200.51 253.06m-5.55 0a5.55 5.55 0 1 0 11.1 0a5.55 5.55 0 1 0 -11.1 0M1200.05 255.08m-5.55 0a5.55 5.55 0 1 0 11.1 0a5.55 5.55 0 1 0 -11.1 0M1203.37 257.1m-5.55 0a5.55 5.55 0 1 0 11.1 0a5.55 5.55 0 1 0 -11.1 0M1202.18 259.55m-5.55 0a5.55 5.55 0 1 0 11.1 0a5.55 5.55 0 1 0 -11.1 0M1204.63 262m-5.55 0a5.55 5.55 0 1 0 11.1 0a5.55 5.55 0 1 0 -11.1 0M1203.65 264m-5.55 0a5.55 5.55 0 1 0 11.1 0a5.55 5.55 0 1 0 -11.1 0M1206.55 266m-5.55 0a5.55 5.55 0 1 0 11.1 0a5.55 5.55 0 1 0 -11.1 0M1205.87 268m-5.55 0a5.55 5.55 0 1 0 11.1 0a5.55 5.55 0 1 0 -11.1 0M1208.57 270m-5.55 0a5.55 5.55 0 1 0 11.1 0a5.55 5.55 0 1 0 -11.1 0M1207.54 272m-5.55 0a5.55 5.55 0 1 0 11.1 0a5.55 5.55 0 1 0 -11.1 0M1210.35 274m-5.55 0a5.55 5.55 0 1 0 11.1 0a5.55 5.55 0 1 0 -11.1 0M1209.69 276m-5.55 0a5.55 5.55 0 1 0 11.1 0a5.55 5.55 0 1 0 -11.1 0M1212.42 278m-5.55 0a5.55 5.55 0 1 0 11.1 0a5.55 5.55 0 1 0 -11.1 0M1211.4 280m-5.55 0a5.55 5.55 0 1 0 11.1 0a5.55 5.55 0 1 0 -11.1 0M1214.43 282m-5.55 0a5.55 5.55 0 1 0 11.1 0a5.55 5.55 0 1 0 -11.1 0M1213.33 284m-5.55 0a5.55 5.55 0 1 0 11.1 0a5.55 5.55 0 1 0 -11.1 0M1216.22 286m-5.55 0a5.55 5.55 0 1 0 11.1 0a5.55 5.55 0 1 0 -11.1 0M1215.5 288m-5.55 0a5.55 5.55 0 1 0 11.1 0a5.55 5.55 0 1 0 -11.1 0M1218.37 290m-5.55 0a5.55 5.55 0 1 0 11.1 0a5.55 5.55 0 1 0 -11.1 0M1217.16 292m-5.55 0a5.55 5.55 0 1 0 11.1 0a5.55 5.55 0 1 0 -11.1 0M1220.06 294m-5.55 0a5.55 5.55 0 1 0 11.1 0a5.55 5.55 0 1 0 -11.1 0M1219.11 296m-5.55 0a5.55 5.55 0 1 0 11.1 0a5.55 5.55 0 1 0 -11.1 0M1221.54 298m-5.55 0a5.55 5.55 0 1 0 11.1 0a5.55 5.55 0 1 0 -11.1 0M1220.61 300m-5.55 0a5.55 5.55 0 1 0 11.1 0a5.55 5.55 0 1 0 -11.1 0M1223.21 302m-5.55 0a5.55 5.55 0 1 0 11.1 0a5.55 5.55 0 1 0 -11.1 0M1222.01 304m-5.55 0a5.55 5.55 0 1 0 11.1 0a5.55 5.55 0 1 0 -11.1 0M1224.96 306m-5.55 0a5.55 5.55 0 1 0 11.1 0a5.55 5.55 0 1 0 -11.1 0M1223.75 308m-5.55 0a5.55 5.55 0 1 0 11.1 0a5.55 5.55 0 1 0 -11.1 0M1226.13 310m-5.55 0a5.55 5.55 0 1 0 11.1 0a5.55 5.55 0 1 0 -11.1 0M1224.89 312m-5.55 0a5.55 5.55 0 1 0 11.1 0a5.55 5.55 0 1 0 -11.1 0M1227.77 314m-5.55 0a5.55 5.55 0 1 0 11.1 0a5.55 5.55 0 1 0 -11.1 0M1226.37 316m-5.55 0a5.55 5.55 0 1 0 11.1 0a5.55 5.55 0 1 0 -11.1 0M1229.11 318m-5.55 0a5.55 5.55 0 1 0 11.1 0a5.55 5.55 0 1 0 -11.1 0M1228.18 320m-5.55 0a5.55 5.55 0 1 0 11.1 0a5.55 5.55 0 1 0 -11.1 0M1230.56 322m-5.55 0a5.55 5.55 0 1 0 11.1 0a5.55 5.55 0 1 0 -11.1 0M1229.32 324m-5.55 0a5.55 5.55 0 1 0 11.1 0a5.55 5.55 0 1 0 -11.1 0M1231.99 326m-5.55 0a5.55 5.55 0 1 0 11.1 0a5.55 5.55 0 1 0 -11.1 0M1230.97 328m-5.55 0a5.55 5.55 0 1 0 11.1 0a5.55 5.55 0 1 0 -11.1 0M1233.5 330m-5.55 0a5.55 5.55 0 1 0 11.1 0a5.55 5.55 0 1 0 -11.1 0M1232.38 332m-5.55 0a5.55 5.55 0 1 0 11.1 0a5.55 5.55 0 1 0 -11.1 0M1234.96 334m-5.55 0a5.55 5.55 0 1 0 11.1 0a5.55 5.55 0 1 0 -11.1 0M1233.62 336m-5.55 0a5.55 5.55 0 1 0 11.1 0a5.55 5.55 0 1 0 -11.1 0M1236.31 338m-5.55 0a5.55 5.55 0 1 0 11.1 0a5.55 5.55 0 1 0 -11.1 0M1235.54 340m-5.55 0a5.55 5.55 0 1 0 11.1 0a5.55 5.55 0 1 0 -11.1 0M1238.17 342m-5.55 0a5.55 5.55 0 1 0 11.1 0a5.55 5.55 0 1 0 -11.1 0M1236.54 344m-5.55 0a5.55 5.55 0 1 0 11.1 0a5.55 5.55 0 1 0 -11.1 0M1239.55 346m-5.55 0a5.55 5.55 0 1 0 11.1 0a5.55 5.55 0 1 0 -11.1 0M1238.11 348m-5.55 0a5.55 5.55 0 1 0 11.1 0a5.55 5.55 0 1 0 -11.1 0M1240.9 350m-5.55 0a5.55 5.55 0 1 0 11.1 0a5.55 5.55 0 1 0 -11.1 0M1239.23 352m-5.55 0a5.55 5.55 0 1 0 11.1 0a5.55 5.55 0 1 0 -11.1 0M1241.85 354m-5.55 0a5.55 5.55 0 1 0 11.1 0a5.55 5.55 0 1 0 -11.1 0M1240.56 356m-5.55 0a5.55 5.55 0 1 0 11.1 0a5.55 5.55 0 1 0 -11.1 0M1243.38 358m-5.55 0a5.55 5.55 0 1 0 11.1 0a5.55 5.55 0 1 0 -11.1 0M1241.84 360m-5.55 0a5.55 5.55 0 1 0 11.1 0a5.55 5.55 0 1 0 -11.1 0M1244.47 362m-5.55 0a5.55 5.55 0 1 0 11.1 0a5.55 5.55 0 1 0 -11.1 0M1243.26 364m-5.55 0a5.55 5.55 0 1 0 11.1 0a5.55 5.55 0 1 0 -11.1 0M1245.62 366m-5.55 0a5.55 5.55 0 1 0 11.1 0a5.55 5.55 0 1 0 -11.1 0M1244.53 368m-5.55 0a5.55 5.55 0 1 0 11.1 0a5.55 5.55 0 1 0 -11.1 0M1246.73 370m-5.55 0a5.55 5.55 0 1 0 11.1 0a5.55 5.55 0 1 0 -11.1 0M1245.6 372m-5.55 0a5.55 5.55 0 1 0 11.1 0a5.55 5.55 0 1 0 -11.1 0M1248.08 374m-5.55 0a5.55 5.55 0 1 0 11.1 0a5.55 5.55 0 1 0 -11.1 0M1246.73 376m-5.55 0a5.55 5.55 0 1 0 11.1 0a5.55 5.55 0 1 0 -11.1 0M1249.2 378m-5.55 0a5.55 5.55 0 1 0 11.1 0a5.55 5.55 0 1 0 -11.1 0M1247.93 380m-5.55 0a5.55 5.55 0 1 0 11.1 0a5.55 5.55 0 1 0 -11.1 0M1250.75 382m-5.55 0a5.55 5.55 0 1 0 11.1 0a5.55 5.55 0 1 0 -11.1 0M1249.16 384m-5.55 0a5.55 5.55 0 1 0 11.1 0a5.55 5.55 0 1 0 -11.1 0M1252.09 386m-5.55 0a5.55 5.55 0 1 0 11.1 0a5.55 5.55 0 1 0 -11.1 0M1250.41 388m-5.55 0a5.55 5.55 0 1 0 11.1 0a5.55 5.55 0 1 0 -11.1 0M1253.18 390m-5.55 0a5.55 5.55 0 1 0 11.1 0a5.55 5.55 0 1 0 -11.1 0M1252.07 392m-5.55 0a5.55 5.55 0 1 0 11.1 0a5.55 5.55 0 1 0 -11.1 0M1254.5 394m-5.55 0a5.55 5.55 0 1 0 11.1 0a5.55 5.55 0 1 0 -11.1 0M1253.24 396m-5.55 0a5.55 5.55 0 1 0 11.1 0a5.55 5.55 0 1 0 -11.1 0M1255.52 398m-5.55 0a5.55 5.55 0 1 0 11.1 0a5.55 5.55 0 1 0 -11.1 0M1254.24 400m-5.55 0a5.55 5.55 0 1 0 11.1 0a5.55 5.55 0 1 0 -11.1 0M1256.87 402m-5.55 0a5.55 5.55 0 1 0 11.1 0a5.55 5.55 0 1 0 -11.1 0M1255.6 404m-5.55 0a5.55 5.55 0 1 0 11.1 0a5.55 5.55 0 1 0 -11.1 0M1258.31 406m-5.55 0a5.55 5.55 0 1 0 11.1 0a5.55 5.55 0 1 0 -11.1 0M1256.75 408m-5.55 0a5.55 5.55 0 1 0 11.1 0a5.55 5.55 0 1 0 -11.1 0M1259.26 410m-5.55 0a5.55 5.55 0 1 0 11.1 0a5.55 5.55 0 1 0 -11.1 0M1258.16 412m-5.55 0a5.55 5.55 0 1 0 11.1 0a5.55 5.55 0 1 0 -11.1 0M1260.69 414m-5.55 0a5.55 5.55 0 1 0 11.1 0a5.55 5.55 0 1 0 -11.1 0M1259.17 416m-5.55 0a5.55 5.55 0 1 0 11.1 0a5.55 5.55 0 1 0 -11.1 0M1261.78 418m-5.55 0a5.55 5.55 0 1 0 11.1 0a5.55 5.55 0 1 0 -11.1 0M1260.35 420m-5.55 0a5.55 5.55 0 1 0 11.1 0a5.55 5.55 0 1 0 -11.1 0M1262.61 422m-5.55 0a5.55 5.55 0 1 0 11.1 0a5.55 5.55 0 1 0 -11.1 0M1261.36 424m-5.55 0a5.55 5.55 0 1 0 11.1 0a5.55 5.55 0 1 0 -11.1 0M1263.99 426m-5.55 0a5.55 5.55 0 1 0 11.1 0a5.55 5.55 0 1 0 -11.1 0M1262.62 428m-5.55 0a5.55 5.55 0 1 0 11.1 0a5.55 5.55 0 1 0 -11.1 0M1265.06 430m-5.55 0a5.55 5.55 0 1 0 11.1 0a5.55 5.55 0 1 0 -11.1 0M1263.34 432m-5.55 0a5.55 5.55 0 1 0 11.1 0a5.55 5.55 0 1 0 -11.1 0M1266.17 434m-5.55 0a5.55 5.55 0 1 0 11.1 0a5.55 5.55 0 1 0 -11.1 0M1264.5 436m-5.55 0a5.55 5.55 0 1 0 11.1 0a5.55 5.55 0 1 0 -11.1 0M1266.9 438m-5.55 0a5.55 5.55 0 1 0 11.1 0a5.55 5.55 0 1 0 -11.1 0M1265.72 440m-5.55 0a5.55 5.55 0 1 0 11.1 0a5.55 5.55 0 1 0 -11.1 0M1268.43 442m-5.55 0a5.55 5.55 0 1 0 11.1 0a5.55 5.55 0 1 0 -11.1 0M1267.1 444m-5.55 0a5.55 5.55 0 1 0 11.1 0a5.55 5.55 0 1 0 -11.1 0M1269.23 446m-5.55 0a5.55 5.55 0 1 0 11.1 0a5.55 5.55 0 1 0 -11.1 0M1268.07 448m-5.55 0a5.55 5.55 0 1 0 11.1 0a5.55 5.55 0 1 0 -11.1 0M1270.43 450m-5.55 0a5.55 5.55 0 1 0 11.1 0a5.55 5.55 0 1 0 -11.1 0M1269.08 452m-5.55 0a5.55 5.55 0 1 0 11.1 0a5.55 5.55 0 1 0 -11.1 0M1271.49 454m-5.55 0a5.55 5.55 0 1 0 11.1 0a5.55 5.55 0 1 0 -11.1 0M1269.99 456m-5.55 0a5.55 5.55 0 1 0 11.1 0a5.55 5.55 0 1 0 -11.1 0M1272.34 458m-5.55 0a5.55 5.55 0 1 0 11.1 0a5.55 5.55 0 1 0 -11.1 0M1271.41 460m-5.55 0a5.55 5.55 0 1 0 11.1 0a5.55 5.55 0 1 0 -11.1 0M1273.48 462m-5.55 0a5.55 5.55 0 1 0 11.1 0a5.55 5.55 0 1 0 -11.1 0M1272.46 464m-5.55 0a5.55 5.55 0 1 0 11.1 0a5.55 5.55 0 1 0 -11.1 0M1274.53 466m-5.55 0a5.55 5.55 0 1 0 11.1 0a5.55 5.55 0 1 0 -11.1 0M1273.13 468m-5.55 0a5.55 5.55 0 1 0 11.1 0a5.55 5.55 0 1 0 -11.1 0M1275.99 470m-5.55 0a5.55 5.55 0 1 0 11.1 0a5.55 5.55 0 1 0 -11.1 0M1274.64 472m-5.55 0a5.55 5.55 0 1 0 11.1 0a5.55 5.55 0 1 0 -11.1 0M1276.92 474m-5.55 0a5.55 5.55 0 1 0 11.1 0a5.55 5.55 0 1 0 -11.1 0M1275.65 476m-5.55 0a5.55 5.55 0 1 0 11.1 0a5.55 5.55 0 1 0 -11.1 0M1277.95 478m-5.55 0a5.55 5.55 0 1 0 11.1 0a5.55 5.55 0 1 0 -11.1 0M1276.75 480m-5.55 0a5.55 5.55 0 1 0 11.1 0a5.55 5.55 0 1 0 -11.1 0M1279.23 482m-5.55 0a5.55 5.55 0 1 0 11.1 0a5.55 5.55 0 1 0 -11.1 0M1277.72 484m-5.55 0a5.55 5.55 0 1 0 11.1 0a5.55 5.55 0 1 0 -11.1 0M1280.13 486m-5.55 0a5.55 5.55 0 1 0 11.1 0a5.55 5.55 0 1 0 -11.1 0M1278.95 488m-5.55 0a5.55 5.55 0 1 0 11.1 0a5.55 5.55 0 1 0 -11.1 0M1281.16 490m-5.55 0a5.55 5.55 0 1 0 11.1 0a5.55 5.55 0 1 0 -11.1 0M1280.02 492m-5.55 0a5.55 5.55 0 1 0 11.1 0a5.55 5.55 0 1 0 -11.1 0M1282.27 494m-5.55 0a5.55 5.55 0 1 0 11.1 0a5.55 5.55 0 1 0 -11.1 0M1280.7 496m-5.55 0a5.55 5.55 0 1 0 11.1 0a5.55 5.55 0 1 0 -11.1 0M1283.14 498m-5.55 0a5.55 5.55 0 1 0 11.1 0a5.55 5.55 0 1 0 -11.1 0M1281.96 500m-5.55 0a5.55 5.55 0 1 0 11.1 0a5.55 5.55 0 1 0 -11.1 0M1284.01 502m-5.55 0a5.55 5.55 0 1 0 11.1 0a5.55 5.55 0 1 0 -11.1 0M1282.78 504m-5.55 0a5.55 5.55 0 1 0 11.1 0a5.55 5.55 0 1 0 -11.1 0M1285.17 506m-5.55 0a5.55 5.55 0 1 0 11.1 0a5.55 5.55 0 1 0 -11.1 0M1283.54 508m-5.55 0a5.55 5.55 0 1 0 11.1 0a5.55 5.55 0 1 0 -11.1 0M1286.02 510m-5.55 0a5.55 5.55 0 1 0 11.1 0a5.55 5.55 0 1 0 -11.1 0M1284.5 512m-5.55 0a5.55 5.55 0 1 0 11.1 0a5.55 5.55 0 1 0 -11.1 0M1287.08 514m-5.55 0a5.55 5.55 0 1 0 11.1 0a5.55 5.55 0 1 0 -11.1 0M1285.59 516m-5.55 0a5.55 5.55 0 1 0 11.1 0a5.55 5.55 0 1 0 -11.1 0M1287.88 518m-5.55 0a5.55 5.55 0 1 0 11.1 0a5.55 5.55 0 1 0 -11.1 0M1286.48 520m-5.55 0a5.55 5.55 0 1 0 11.1 0a5.55 5.55 0 1 0 -11.1 0M1288.96 522m-5.55 0a5.55 5.55 0 1 0 11.1 0a5.55 5.55 0 1 0 -11.1 0M1287.46 524m-5.55 0a5.55 5.55 0 1 0 11.1 0a5.55 5.55 0 1 0 -11.1 0M1289.91 526m-5.55 0a5.55 5.55 0 1 0 11.1 0a5.55 5.55 0 1 0 -11.1 0M1288.4 528m-5.55 0a5.55 5.55 0 1 0 11.1 0a5.55 5.55 0 1 0 -11.1 0M1290.66 530m-5.55 0a5.55 5.55 0 1 0 11.1 0a5.55 5.55 0 1 0 -11.1 0M1289.32 532m-5.55 0a5.55 5.55 0 1 0 11.1 0a5.55 5.55 0 1 0 -11.1 0M1291.83 534m-5.55 0a5.55 5.55 0 1 0 11.1 0a5.55 5.55 0 1 0 -11.1 0M1290.51 536m-5.55 0a5.55 5.55 0 1 0 11.1 0a5.55 5.55 0 1 0 -11.1 0M1292.66 538m-5.55 0a5.55 5.55 0 1 0 11.1 0a5.55 5.55 0 1 0 -11.1 0M1291.3 540m-5.55 0a5.55 5.55 0 1 0 11.1 0a5.55 5.55 0 1 0 -11.1 0M1293.84 542m-5.55 0a5.55 5.55 0 1 0 11.1 0a5.55 5.55 0 1 0 -11.1 0M1292.01 544m-5.55 0a5.55 5.55 0 1 0 11.1 0a5.55 5.55 0 1 0 -11.1 0M1294.56 546m-5.55 0a5.55 5.55 0 1 0 11.1 0a5.55 5.55 0 1 0 -11.1 0M1292.99 548m-5.55 0a5.55 5.55 0 1 0 11.1 0a5.55 5.55 0 1 0 -11.1 0M1295.72 550m-5.55 0a5.55 5.55 0 1 0 11.1 0a5.55 5.55 0 1 0 -11.1 0M1294.25 552m-5.55 0a5.55 5.55 0 1 0 11.1 0a5.55 5.55 0 1 0 -11.1 0M1296.5 554m-5.55 0a5.55 5.55 0 1 0 11.1 0a5.55 5.55 0 1 0 -11.1 0M1295.24 556m-5.55 0a5.55 5.55 0 1 0 11.1 0a5.55 5.55 0 1 0 -11.1 0M1297.59 558m-5.55 0a5.55 5.55 0 1 0 11.1 0a5.55 5.55 0 1 0 -11.1 0M1295.9 560m-5.55 0a5.55 5.55 0 1 0 11.1 0a5.55 5.55 0 1 0 -11.1 0M1298.55 562m-5.55 0a5.55 5.55 0 1 0 11.1 0a5.55 5.55 0 1 0 -11.1 0M1296.78 564m-5.55 0a5.55 5.55 0 1 0 11.1 0a5.55 5.55 0 1 0 -11.1 0M1299.4 566m-5.55 0a5.55 5.55 0 1 0 11.1 0a5.55 5.55 0 1 0 -11.1 0M1297.77 568m-5.55 0a5.55 5.55 0 1 0 11.1 0a5.55 5.55 0 1 0 -11.1 0M1300.31 570m-5.55 0a5.55 5.55 0 1 0 11.1 0a5.55 5.55 0 1 0 -11.1 0M1299.03 572m-5.55 0a5.55 5.55 0 1 0 11.1 0a5.55 5.55 0 1 0 -11.1 0M1301.28 574m-5.55 0a5.55 5.55 0 1 0 11.1 0a5.55 5.55 0 1 0 -11.1 0M1300.04 576m-5.55 0a5.55 5.55 0 1 0 11.1 0a5.55 5.55 0 1 0 -11.1 0M1302.03 578m-5.55 0a5.55 5.55 0 1 0 11.1 0a5.55 5.55 0 1 0 -11.1 0M1300.63 580m-5.55 0a5.55 5.55 0 1 0 11.1 0a5.55 5.55 0 1 0 -11.1 0M1302.94 582m-5.55 0a5.55 5.55 0 1 0 11.1 0a5.55 5.55 0 1 0 -11.1 0M1301.86 584m-5.55 0a5.55 5.55 0 1 0 11.1 0a5.55 5.55 0 1 0 -11.1 0M1303.81 586m-5.55 0a5.55 5.55 0 1 0 11.1 0a5.55 5.55 0 1 0 -11.1 0M1302.32 588m-5.55 0a5.55 5.55 0 1 0 11.1 0a5.55 5.55 0 1 0 -11.1 0M1304.69 590m-5.55 0a5.55 5.55 0 1 0 11.1 0a5.55 5.55 0 1 0 -11.1 0M1303.57 592m-5.55 0a5.55 5.55 0 1 0 11.1 0a5.55 5.55 0 1 0 -11.1 0M1305.84 594m-5.55 0a5.55 5.55 0 1 0 11.1 0a5.55 5.55 0 1 0 -11.1 0M1304.36 596m-5.55 0a5.55 5.55 0 1 0 11.1 0a5.55 5.55 0 1 0 -11.1 0M1306.69 598m-5.55 0a5.55 5.55 0 1 0 11.1 0a5.55 5.55 0 1 0 -11.1 0M1304.94 600m-5.55 0a5.55 5.55 0 1 0 11.1 0a5.55 5.55 0 1 0 -11.1 0M1307.52 602m-5.55 0a5.55 5.55 0 1 0 11.1 0a5.55 5.55 0 1 0 -11.1 0M1305.64 604m-5.55 0a5.55 5.55 0 1 0 11.1 0a5.55 5.55 0 1 0 -11.1 0M1308.24 606m-5.55 0a5.55 5.55 0 1 0 11.1 0a5.55 5.55 0 1 0 -11.1 0M1306.56 608m-5.55 0a5.55 5.55 0 1 0 11.1 0a5.55 5.55 0 1 0 -11.1 0M1308.82 610m-5.55 0a5.55 5.55 0 1 0 11.1 0a5.55 5.55 0 1 0 -11.1 0M1307.41 612m-5.55 0a5.55 5.55 0 1 0 11.1 0a5.55 5.55 0 1 0 -11.1 0M1308.9 614m-5.55 0a5.55 5.55 0 1 0 11.1 0a5.55 5.55 0 1 0 -11.1 0" fill="#0000ff"/></g>
<g clip-path="url(#c2)"><polyline points="985,21.4 987,24.34 988.5,27.29 990,30.23 991,33.18 992,36.12 993,39.07 994.5,43.49 997,50.85 1001,58.21 1009.5,65.57 1018,72.94 1028,80.3 1040,87.66 1050,95.03 1069.7,109.75 1097.3,124.47 1114.5,139.2 1128.8,153.93 1140.3,168.65 1163,205.46 1188,242.28 1222,315.9 1251,389.52 1268,463.15 1288,536.77 1306.6,610.4" fill="none" stroke="#008000" stroke-width="2.7" stroke-linejoin="round"/><path d="M985 21.4m-5.55 0a5.55 5.55 0 1 0 11.1 0a5.55 5.55 0 1 0 -11.1 0M987 24.34m-5.55 0a5.55 5.55 0 1 0 11.1 0a5.55 5.55 0 1 0 -11.1 0M988.5 27.29m-5.55 0a5.55 5.55 0 1 0 11.1 0a5.55 5.55 0 1 0 -11.1 0M990 30.23m-5.55 0a5.55 5.55 0 1 0 11.1 0a5.55 5.55 0 1 0 -11.1 0M991 33.18m-5.55 0a5.55 5.55 0 1 0 11.1 0a5.55 5.55 0 1 0 -11.1 0M992 36.12m-5.55 0a5.55 5.55 0 1 0 11.1 0a5.55 5.55 0 1 0 -11.1 0M993 39.07m-5.55 0a5.55 5.55 0 1 0 11.1 0a5.55 5.55 0 1 0 -11.1 0M994.5 43.49m-5.55 0a5.55 5.55 0 1 0 11.1 0a5.55 5.55 0 1 0 -11.1 0M997 50.85m-5.55 0a5.55 5.55 0 1 0 11.1 0a5.55 5.55 0 1 0 -11.1 0M1001 58.21m-5.55 0a5.55 5.55 0 1 0 11.1 0a5.55 5.55 0 1 0 -11.1 0M1009.5 65.57m-5.55 0a5.55 5.55 0 1 0 11.1 0a5.55 5.55 0 1 0 -11.1 0M1018 72.94m-5.55 0a5.55 5.55 0 1 0 11.1 0a5.55 5.55 0 1 0 -11.1 0M1028 80.3m-5.55 0a5.55 5.55 0 1 0 11.1 0a5.55 5.55 0 1 0 -11.1 0M1040 87.66m-5.55 0a5.55 5.55 0 1 0 11.1 0a5.55 5.55 0 1 0 -11.1 0M1050 95.03m-5.55 0a5.55 5.55 0 1 0 11.1 0a5.55 5.55 0 1 0 -11.1 0M1069.7 109.75m-5.55 0a5.55 5.55 0 1 0 11.1 0a5.55 5.55 0 1 0 -11.1 0M1097.3 124.47m-5.55 0a5.55 5.55 0 1 0 11.1 0a5.55 5.55 0 1 0 -11.1 0M1114.5 139.2m-5.55 0a5.55 5.55 0 1 0 11.1 0a5.55 5.55 0 1 0 -11.1 0M1128.8 153.93m-5.55 0a5.55 5.55 0 1 0 11.1 0a5.55 5.55 0 1 0 -11.1 0M1140.3 168.65m-5.55 0a5.55 5.55 0 1 0 11.1 0a5.55 5.55 0 1 0 -11.1 0M1163 205.46m-5.55 0a5.55 5.55 0 1 0 11.1 0a5.55 5.55 0 1 0 -11.1 0M1188 242.28m-5.55 0a5.55 5.55 0 1 0 11.1 0a5.55 5.55 0 1 0 -11.1 0M1222 315.9m-5.55 0a5.55 5.55 0 1 0 11.1 0a5.55 5.55 0 1 0 -11.1 0M1251 389.52m-5.55 0a5.55 5.55 0 1 0 11.1 0a5.55 5.55 0 1 0 -11.1 0M1268 463.15m-5.55 0a5.55 5.55 0 1 0 11.1 0a5.55 5.55 0 1 0 -11.1 0M1288 536.77m-5.55 0a5.55 5.55 0 1 0 11.1 0a5.55 5.55 0 1 0 -11.1 0M1306.6 610.4m-5.55 0a5.55 5.55 0 1 0 11.1 0a5.55 5.55 0 1 0 -11.1 0" fill="#008000"/></g>
<g clip-path="url(#c2)"><polyline points="976,21.4 987.5,24.34 989.5,27.29 991,30.23 992,33.18 993,36.12 994,39.07 995.5,43.49 997.5,50.85 1000.5,58.21 1007.1,65.57 1014.9,72.94 1026.4,80.3 1033.4,87.66 1038,95.03 1051.9,109.75 1066.3,124.47 1079.4,139.2 1094.9,153.93 1112.1,168.65 1161.7,205.46 1180.4,242.28 1219.2,315.9 1249.3,389.52 1272,463.15 1291.1,536.77 1309.7,610.4" fill="none" stroke="#ff0000" stroke-width="2.7" stroke-linejoin="round"/><path d="M976 21.4m-5.55 0a5.55 5.55 0 1 0 11.1 0a5.55 5.55 0 1 0 -11.1 0M987.5 24.34m-5.55 0a5.55 5.55 0 1 0 11.1 0a5.55 5.55 0 1 0 -11.1 0M989.5 27.29m-5.55 0a5.55 5.55 0 1 0 11.1 0a5.55 5.55 0 1 0 -11.1 0M991 30.23m-5.55 0a5.55 5.55 0 1 0 11.1 0a5.55 5.55 0 1 0 -11.1 0M992 33.18m-5.55 0a5.55 5.55 0 1 0 11.1 0a5.55 5.55 0 1 0 -11.1 0M993 36.12m-5.55 0a5.55 5.55 0 1 0 11.1 0a5.55 5.55 0 1 0 -11.1 0M994 39.07m-5.55 0a5.55 5.55 0 1 0 11.1 0a5.55 5.55 0 1 0 -11.1 0M995.5 43.49m-5.55 0a5.55 5.55 0 1 0 11.1 0a5.55 5.55 0 1 0 -11.1 0M997.5 50.85m-5.55 0a5.55 5.55 0 1 0 11.1 0a5.55 5.55 0 1 0 -11.1 0M1000.5 58.21m-5.55 0a5.55 5.55 0 1 0 11.1 0a5.55 5.55 0 1 0 -11.1 0M1007.1 65.57m-5.55 0a5.55 5.55 0 1 0 11.1 0a5.55 5.55 0 1 0 -11.1 0M1014.9 72.94m-5.55 0a5.55 5.55 0 1 0 11.1 0a5.55 5.55 0 1 0 -11.1 0M1026.4 80.3m-5.55 0a5.55 5.55 0 1 0 11.1 0a5.55 5.55 0 1 0 -11.1 0M1033.4 87.66m-5.55 0a5.55 5.55 0 1 0 11.1 0a5.55 5.55 0 1 0 -11.1 0M1038 95.03m-5.55 0a5.55 5.55 0 1 0 11.1 0a5.55 5.55 0 1 0 -11.1 0M1051.9 109.75m-5.55 0a5.55 5.55 0 1 0 11.1 0a5.55 5.55 0 1 0 -11.1 0M1066.3 124.47m-5.55 0a5.55 5.55 0 1 0 11.1 0a5.55 5.55 0 1 0 -11.1 0M1079.4 139.2m-5.55 0a5.55 5.55 0 1 0 11.1 0a5.55 5.55 0 1 0 -11.1 0M1094.9 153.93m-5.55 0a5.55 5.55 0 1 0 11.1 0a5.55 5.55 0 1 0 -11.1 0M1112.1 168.65m-5.55 0a5.55 5.55 0 1 0 11.1 0a5.55 5.55 0 1 0 -11.1 0M1161.7 205.46m-5.55 0a5.55 5.55 0 1 0 11.1 0a5.55 5.55 0 1 0 -11.1 0M1180.4 242.28m-5.55 0a5.55 5.55 0 1 0 11.1 0a5.55 5.55 0 1 0 -11.1 0M1219.2 315.9m-5.55 0a5.55 5.55 0 1 0 11.1 0a5.55 5.55 0 1 0 -11.1 0M1249.3 389.52m-5.55 0a5.55 5.55 0 1 0 11.1 0a5.55 5.55 0 1 0 -11.1 0M1272 463.15m-5.55 0a5.55 5.55 0 1 0 11.1 0a5.55 5.55 0 1 0 -11.1 0M1291.1 536.77m-5.55 0a5.55 5.55 0 1 0 11.1 0a5.55 5.55 0 1 0 -11.1 0M1309.7 610.4m-5.55 0a5.55 5.55 0 1 0 11.1 0a5.55 5.55 0 1 0 -11.1 0" fill="#ff0000"/></g>
<g clip-path="url(#c2)"><polyline points="986.3,22.13 986.5,23.67 986.8,25.3 987.1,27.02 987.5,28.88 988,30.88 988.6,33.08 989.2,35.5 989.8,38.19 990.4,41.23 991,44.68 991.8,48.64 992.6,53.2 993.5,58.52 994.6,64.76 1001,72.1 1018,80.81 1039.6,91.16 1062,103.51 1082.5,118.3 1102.5,136.04 1124,157.35 1146.2,182.98 1171.8,213.81 1198.4,250.89 1220,295.47 1239.5,348.99 1259.4,413.14 1280.3,489.84 1302,581.26" fill="none" stroke="#ff00ff" stroke-width="2.7" stroke-linejoin="round"/><path d="M986.3 22.13m-5.55 0a5.55 5.55 0 1 0 11.1 0a5.55 5.55 0 1 0 -11.1 0M986.5 23.67m-5.55 0a5.55 5.55 0 1 0 11.1 0a5.55 5.55 0 1 0 -11.1 0M986.8 25.3m-5.55 0a5.55 5.55 0 1 0 11.1 0a5.55 5.55 0 1 0 -11.1 0M987.1 27.02m-5.55 0a5.55 5.55 0 1 0 11.1 0a5.55 5.55 0 1 0 -11.1 0M987.5 28.88m-5.55 0a5.55 5.55 0 1 0 11.1 0a5.55 5.55 0 1 0 -11.1 0M988 30.88m-5.55 0a5.55 5.55 0 1 0 11.1 0a5.55 5.55 0 1 0 -11.1 0M988.6 33.08m-5.55 0a5.55 5.55 0 1 0 11.1 0a5.55 5.55 0 1 0 -11.1 0M989.2 35.5m-5.55 0a5.55 5.55 0 1 0 11.1 0a5.55 5.55 0 1 0 -11.1 0M989.8 38.19m-5.55 0a5.55 5.55 0 1 0 11.1 0a5.55 5.55 0 1 0 -11.1 0M990.4 41.23m-5.55 0a5.55 5.55 0 1 0 11.1 0a5.55 5.55 0 1 0 -11.1 0M991 44.68m-5.55 0a5.55 5.55 0 1 0 11.1 0a5.55 5.55 0 1 0 -11.1 0M991.8 48.64m-5.55 0a5.55 5.55 0 1 0 11.1 0a5.55 5.55 0 1 0 -11.1 0M992.6 53.2m-5.55 0a5.55 5.55 0 1 0 11.1 0a5.55 5.55 0 1 0 -11.1 0M993.5 58.52m-5.55 0a5.55 5.55 0 1 0 11.1 0a5.55 5.55 0 1 0 -11.1 0M994.6 64.76m-5.55 0a5.55 5.55 0 1 0 11.1 0a5.55 5.55 0 1 0 -11.1 0M1001 72.1m-5.55 0a5.55 5.55 0 1 0 11.1 0a5.55 5.55 0 1 0 -11.1 0M1018 80.81m-5.55 0a5.55 5.55 0 1 0 11.1 0a5.55 5.55 0 1 0 -11.1 0M1039.6 91.16m-5.55 0a5.55 5.55 0 1 0 11.1 0a5.55 5.55 0 1 0 -11.1 0M1062 103.51m-5.55 0a5.55 5.55 0 1 0 11.1 0a5.55 5.55 0 1 0 -11.1 0M1082.5 118.3m-5.55 0a5.55 5.55 0 1 0 11.1 0a5.55 5.55 0 1 0 -11.1 0M1102.5 136.04m-5.55 0a5.55 5.55 0 1 0 11.1 0a5.55 5.55 0 1 0 -11.1 0M1124 157.35m-5.55 0a5.55 5.55 0 1 0 11.1 0a5.55 5.55 0 1 0 -11.1 0M1146.2 182.98m-5.55 0a5.55 5.55 0 1 0 11.1 0a5.55 5.55 0 1 0 -11.1 0M1171.8 213.81m-5.55 0a5.55 5.55 0 1 0 11.1 0a5.55 5.55 0 1 0 -11.1 0M1198.4 250.89m-5.55 0a5.55 5.55 0 1 0 11.1 0a5.55 5.55 0 1 0 -11.1 0M1220 295.47m-5.55 0a5.55 5.55 0 1 0 11.1 0a5.55 5.55 0 1 0 -11.1 0M1239.5 348.99m-5.55 0a5.55 5.55 0 1 0 11.1 0a5.55 5.55 0 1 0 -11.1 0M1259.4 413.14m-5.55 0a5.55 5.55 0 1 0 11.1 0a5.55 5.55 0 1 0 -11.1 0M1280.3 489.84m-5.55 0a5.55 5.55 0 1 0 11.1 0a5.55 5.55 0 1 0 -11.1 0M1302 581.26m-5.55 0a5.55 5.55 0 1 0 11.1 0a5.55 5.55 0 1 0 -11.1 0" fill="#ff00ff"/></g>
<rect x="99.5" y="21.5" width="387" height="589" fill="none" stroke="#000" stroke-width="1.1"/>
<path d="M93.3 21.5H99.5M93.3 95.5H99.5M93.3 168.5H99.5M93.3 242.5H99.5M93.3 315.5H99.5M93.3 389.5H99.5M93.3 463.5H99.5M93.3 536.5H99.5M93.3 610.5H99.5M184.5 610.5V616.7M281.5 610.5V616.7M379.5 610.5V616.7M476.5 610.5V616.7" stroke="#000" stroke-width="1.1" fill="none"/>
<rect x="524.5" y="21.5" width="387" height="589" fill="none" stroke="#000" stroke-width="1.1"/>
<path d="M518.3 21.5H524.5M518.3 95.5H524.5M518.3 168.5H524.5M518.3 242.5H524.5M518.3 315.5H524.5M518.3 389.5H524.5M518.3 463.5H524.5M518.3 536.5H524.5M518.3 610.5H524.5M605.5 610.5V616.7M702.5 610.5V616.7M799.5 610.5V616.7M896.5 610.5V616.7" stroke="#000" stroke-width="1.1" fill="none"/>
<rect x="949.5" y="21.5" width="388" height="589" fill="none" stroke="#000" stroke-width="1.1"/>
<path d="M943.3 21.5H949.5M943.3 95.5H949.5M943.3 168.5H949.5M943.3 242.5H949.5M943.3 315.5H949.5M943.3 389.5H949.5M943.3 463.5H949.5M943.3 536.5H949.5M943.3 610.5H949.5M1041.5 610.5V616.7M1151.5 610.5V616.7M1262.5 610.5V616.7" stroke="#000" stroke-width="1.1" fill="none"/>
<text x="72.76" y="30" font-size="23.63" textLength="13.07" lengthAdjust="spacingAndGlyphs">0</text>
<text x="58.77" y="104" font-size="23.63" textLength="27.1" lengthAdjust="spacingAndGlyphs">50</text>
<text x="44.39" y="178" font-size="23.63" textLength="41.5" lengthAdjust="spacingAndGlyphs">100</text>
<text x="44.39" y="251" font-size="23.63" textLength="41.5" lengthAdjust="spacingAndGlyphs">150</text>
<text x="44.21" y="325" font-size="23.63" textLength="41.68" lengthAdjust="spacingAndGlyphs">200</text>
<text x="44.21" y="398" font-size="23.63" textLength="41.68" lengthAdjust="spacingAndGlyphs">250</text>
<text x="44.59" y="472" font-size="23.63" textLength="41.29" lengthAdjust="spacingAndGlyphs">300</text>
<text x="44.59" y="546" font-size="23.63" textLength="41.29" lengthAdjust="spacingAndGlyphs">350</text>
<text x="44.35" y="619" font-size="23.63" textLength="41.54" lengthAdjust="spacingAndGlyphs">400</text>
<text x="170.82" y="640" font-size="23.63" textLength="26.83" lengthAdjust="spacingAndGlyphs">15</text>
<text x="267.7" y="640" font-size="23.63" textLength="27.47" lengthAdjust="spacingAndGlyphs">20</text>
<text x="365.22" y="640" font-size="23.63" textLength="27.04" lengthAdjust="spacingAndGlyphs">25</text>
<text x="463.08" y="640" font-size="23.63" textLength="27.07" lengthAdjust="spacingAndGlyphs">30</text>
<text x="581.38" y="640" font-size="23.63" textLength="47.98" lengthAdjust="spacingAndGlyphs">35.5</text>
<text x="678.53" y="640" font-size="23.63" textLength="48.39" lengthAdjust="spacingAndGlyphs">36.0</text>
<text x="775.53" y="640" font-size="23.63" textLength="47.98" lengthAdjust="spacingAndGlyphs">36.5</text>
<text x="872.43" y="640" font-size="23.63" textLength="48.39" lengthAdjust="spacingAndGlyphs">37.0</text>
<text x="1013.47" y="640" font-size="23.63" textLength="55.69" lengthAdjust="spacingAndGlyphs">1024</text>
<text x="1123.66" y="640" font-size="23.63" textLength="55.92" lengthAdjust="spacingAndGlyphs">1026</text>
<text x="1234.46" y="640" font-size="23.63" textLength="55.78" lengthAdjust="spacingAndGlyphs">1028</text>
<text x="175.02" y="674" font-size="25.54" font-weight="bold" textLength="234.73" lengthAdjust="spacingAndGlyphs">Temperature (˚C)</text>
<text x="627.07" y="671" font-size="25.54" font-weight="bold" textLength="180.76" lengthAdjust="spacingAndGlyphs">Salinity (psu)</text>
<text x="1091.4" y="671" font-size="25.54" font-weight="bold" textLength="102.75" lengthAdjust="spacingAndGlyphs">Density</text>
<text transform="translate(0,0) rotate(-90)" x="-385.37" y="29.8" font-size="25.54" font-weight="bold" textLength="137.54" lengthAdjust="spacingAndGlyphs">Depth (m)</text>
<text x="348.86" y="696" font-size="18.35" font-style="italic" textLength="879.02" lengthAdjust="spacingAndGlyphs" style="white-space:pre">Ocean Heat Content (kJ/cm^2) - Argo: 70.4673,  RTOFS: 57.8172,  ESPC: 53.4362,  CMEMS: 63.8368,</text>
<text x="1446.6" y="41" font-size="27.61" font-weight="bold" textLength="227.19" lengthAdjust="spacingAndGlyphs" style="white-space:pre">Argo #4903551</text>
<text x="1446.62" y="71" font-size="27.61" font-weight="bold" textLength="389.97" lengthAdjust="spacingAndGlyphs" style="white-space:pre">ARGO: 2025-10-22T03:24Z</text>
<text x="1447.58" y="101" font-size="27.61" font-weight="bold" textLength="389.09" lengthAdjust="spacingAndGlyphs" style="white-space:pre">ESPC : 2025-10-22T03:00Z</text>
<text x="1447.58" y="131" font-size="27.61" font-weight="bold" textLength="401.8" lengthAdjust="spacingAndGlyphs" style="white-space:pre">RTOFS: 2025-10-22T00:00Z</text>
<text x="1447.29" y="161" font-size="27.61" font-weight="bold" textLength="413.08" lengthAdjust="spacingAndGlyphs" style="white-space:pre">CMEMS: 2025-10-22T06:00Z</text>
<g clip-path="url(#cm)">
<rect x="1514.5" y="196.6" width="301" height="237.6" fill="#97b6e1"/>
<polygon points="1591.4,196.6 1592.4,201.8 1595.8,209.7 1599.7,217.5 1603.2,223.4 1604.7,229.3 1609.6,233.3 1614.5,238.2 1618.4,243.1 1619.4,248 1618.4,250 1613.5,249 1610.6,248 1606.6,244.6 1607.6,247 1610.6,250 1616.5,253.9 1622.4,257.8 1628.9,260.8 1635.6,267.5 1637.3,274.3 1636.5,279.3 1639.8,283.5 1647.4,287.8 1654.2,296.2 1657.5,297.9 1660.9,292.8 1660,291.1 1655,284.4 1650.8,277.6 1645.7,267.5 1640.7,259.1 1637.1,254.9 1633.2,249 1630.2,243.1 1627.3,238.2 1624.3,233.3 1620.4,231.3 1615.5,226.4 1613.5,217.5 1612.5,208.7 1613.5,208.2 1621.4,210.6 1628.3,215.6 1630.2,222.4 1633.2,230.3 1636.1,236.2 1639.1,240.1 1646,246 1650.9,249 1652.8,253.9 1656.8,258.8 1659.2,259.5 1662.6,265.8 1661.7,270.9 1669.3,276 1672.5,280 1676.1,284.4 1681.5,286.7 1684.5,292.8 1688.2,293.5 1691.2,299.6 1693.9,300.2 1697.2,309.2 1696.1,316 1695,321.6 1698.3,327.2 1704,332.8 1710.7,338.5 1717.5,341.8 1726.5,344.1 1733.2,347.5 1740,350.8 1748.9,354.2 1757.9,357.6 1766.9,362.1 1774.8,365 1780.4,363.2 1789.4,359.8 1798.4,361.4 1805.2,365.4 1811.9,371.1 1815.5,374.4 1818.5,374.4 1818.5,337.3 1815.5,337.3 1811.9,338 1802.9,339.6 1793.9,341.8 1787.2,337.3 1780.4,335.1 1777.1,329.5 1772.6,322.7 1768.1,313.7 1765.8,306.9 1763.9,299.6 1763.9,292.2 1764.9,286 1766.8,281 1768.1,274.2 1769.4,269.2 1770.2,264.1 1769.8,259.9 1769.4,255.7 1770.2,251.5 1772.7,247.3 1777,243.1 1782,240.1 1786.2,238 1790.4,234.6 1795.5,232.1 1799.7,230.4 1803.9,230.8 1810,232.1 1815.5,231.8 1818.5,231.8 1818.5,190 1591.4,190" fill="#d2b48c"/>
<polyline points="1757.6,196.6 1762,201 1768.5,208.3 1773,215 1777.6,222.9 1779.5,230.2 1784.9,237.5" fill="none" stroke="#97b6e1" stroke-width="1.5" stroke-linejoin="round"/>
<polyline points="1655.8,197.2 1659,198.6 1662.7,198.8 1665.5,197.5" fill="none" stroke="#97b6e1" stroke-width="1.5" stroke-linejoin="round"/>
<polyline points="1666.5,197 1668.6,198.8 1667.6,200.8" fill="none" stroke="#97b6e1" stroke-width="1.5" stroke-linejoin="round"/>
<polyline points="1679.4,196.8 1683.3,200.8 1685.3,205.7" fill="none" stroke="#97b6e1" stroke-width="1.5" stroke-linejoin="round"/>
<polyline points="1617.4,199.8 1622,198.5 1628.3,197.2" fill="none" stroke="#97b6e1" stroke-width="1.5" stroke-linejoin="round"/>
<polyline points="1613.5,200.5 1610.5,204 1611.5,208" fill="none" stroke="#97b6e1" stroke-width="1.5" stroke-linejoin="round"/>
<polyline points="1742.2,304.7 1746.7,308.8 1753.4,308.1 1763.6,304.7" fill="none" stroke="#97b6e1" stroke-width="1.5" stroke-linejoin="round"/>
<polyline points="1698.3,308.1 1706.2,310.4 1711.8,316 1719.7,321.6" fill="none" stroke="#97b6e1" stroke-width="1.5" stroke-linejoin="round"/>
<polyline points="1808.5,337.5 1812,341 1815.5,343" fill="none" stroke="#97b6e1" stroke-width="1.5" stroke-linejoin="round"/>
<polyline points="1685.3,207.7 1689.2,211.6 1698.1,219.5 1702,224.4 1704,231.3 1708.9,235.2 1715.8,238.2 1720.7,230.3 1726.5,229.3 1732.9,230.2 1737.5,235.6 1742.9,244.8 1748.4,253 1752.1,262.1 1759.4,265.8 1766,268 1768.5,268.5" fill="none" stroke="#97b6e1" stroke-width="1.8"/>
<polyline points="1664.6,196.6 1664.6,213.9" fill="none" stroke="#000" stroke-width="1.2"/>
<polyline points="1685.3,207.2 1717.7,207.2 1717.7,196.6" fill="none" stroke="#000" stroke-width="1.2"/>
<polyline points="1797.5,196.6 1797.5,207 1801.5,216.2 1799.8,223.8 1799.4,229.5" fill="none" stroke="#000" stroke-width="1.2"/>
<polyline points="1592.9,201.8 1603,200.2 1614.5,198.4" fill="none" stroke="#000" stroke-width="2" stroke-dasharray="4.6 2.2"/>
<polyline points="1614.5,199.8 1630,206.5 1646,213.6 1663.7,214.1 1671.5,213.6 1672.5,209 1685.3,207.7" fill="none" stroke="#000" stroke-width="2" stroke-dasharray="4.6 2.2"/>
<polyline points="1685.3,207.7 1689.2,211.6 1698.1,219.5 1702,224.4 1704,231.3 1708.9,235.2 1715.8,238.2 1720.7,230.3 1726.5,229.3 1732.9,230.2 1737.5,235.6 1742.9,244.8 1748.4,253 1752.1,262.1 1759.4,265.8 1766,268 1768.5,268.5" fill="none" stroke="#000" stroke-width="2" stroke-dasharray="4.6 2.2"/>
<polyline points="1591.4,196.6 1592.4,201.8 1595.8,209.7 1599.7,217.5 1603.2,223.4 1604.7,229.3 1609.6,233.3 1614.5,238.2 1618.4,243.1 1619.4,248 1618.4,250 1613.5,249 1610.6,248 1606.6,244.6 1607.6,247 1610.6,250 1616.5,253.9 1622.4,257.8 1628.9,260.8 1635.6,267.5 1637.3,274.3 1636.5,279.3 1639.8,283.5 1647.4,287.8 1654.2,296.2 1657.5,297.9 1660.9,292.8 1660,291.1 1655,284.4 1650.8,277.6 1645.7,267.5 1640.7,259.1 1637.1,254.9 1633.2,249 1630.2,243.1 1627.3,238.2 1624.3,233.3 1620.4,231.3 1615.5,226.4 1613.5,217.5 1612.5,208.7 1613.5,208.2 1621.4,210.6 1628.3,215.6 1630.2,222.4 1633.2,230.3 1636.1,236.2 1639.1,240.1 1646,246 1650.9,249 1652.8,253.9 1656.8,258.8 1659.2,259.5 1662.6,265.8 1661.7,270.9 1669.3,276 1672.5,280 1676.1,284.4 1681.5,286.7 1684.5,292.8 1688.2,293.5 1691.2,299.6 1693.9,300.2 1697.2,309.2 1696.1,316 1695,321.6 1698.3,327.2 1704,332.8 1710.7,338.5 1717.5,341.8 1726.5,344.1 1733.2,347.5 1740,350.8 1748.9,354.2 1757.9,357.6 1766.9,362.1 1774.8,365 1780.4,363.2 1789.4,359.8 1798.4,361.4 1805.2,365.4 1811.9,371.1 1815.5,374.4" fill="none" stroke="#000" stroke-width="2.2" stroke-linejoin="round"/>
<polyline points="1815.5,337.3 1811.9,338 1802.9,339.6 1793.9,341.8 1787.2,337.3 1780.4,335.1 1777.1,329.5 1772.6,322.7 1768.1,313.7 1765.8,306.9 1763.9,299.6 1763.9,292.2 1764.9,286 1766.8,281 1768.1,274.2 1769.4,269.2 1770.2,264.1 1769.8,259.9 1769.4,255.7 1770.2,251.5 1772.7,247.3 1777,243.1 1782,240.1 1786.2,238 1790.4,234.6 1795.5,232.1 1799.7,230.4 1803.9,230.8 1810,232.1 1815.5,231.8" fill="none" stroke="#000" stroke-width="2.2" stroke-linejoin="round"/>
<polyline points="1768.5,268.3 1769.3,263.2 1768.9,259 1768.5,254.8 1769.3,250.6 1771.8,246.4 1776.1,242.2 1781.1,239.2 1785.3,237.1 1789.5,233.7 1794.6,231.2 1798.8,229.5 1803,229.9 1809.1,231.2 1814.6,230.9" fill="none" stroke="#000" stroke-width="3.0" stroke-linejoin="round" stroke-linecap="round"/>
<polygon points="1764.3,270.5 1767.8,270.5 1767.2,277 1766,283 1763.8,283.3 1763.6,276" fill="#55657a" stroke="#000" stroke-width="0.6"/>
<ellipse cx="1582" cy="237.4" rx="1.4" ry="2" fill="#000" transform="rotate(-30 1582 237.4)"/>
<ellipse cx="1613.6" cy="340.3" rx="1" ry="1" fill="#000" transform="rotate(-30 1613.6 340.3)"/>
<ellipse cx="1647" cy="335.7" rx="1.2" ry="1.4" fill="#000" transform="rotate(-30 1647 335.7)"/>
<ellipse cx="1648.7" cy="331.7" rx="0.8" ry="0.8" fill="#000" transform="rotate(-30 1648.7 331.7)"/>
<ellipse cx="1625.5" cy="235.2" rx="2.6" ry="4.2" fill="#000" transform="rotate(-30 1625.5 235.2)"/>
<ellipse cx="1635.1" cy="237.4" rx="2.5" ry="3.2" fill="#000" transform="rotate(-30 1635.1 237.4)"/>
<line x1="1684.5" y1="308.8" x2="1688.5" y2="312.3" stroke="#000" stroke-width="1.6" stroke-linecap="round"/>
<circle cx="1771.3" cy="307" r="6.3" fill="#0000ff"/>
</g>
<path d="M1591.4 196.6H1815.5" stroke="#c4ccd8" stroke-width="1.2"/>
<path d="M1514.5 196.6H1591.4" stroke="#000" stroke-width="1.6"/>
<path d="M1514.5 195.8V434.2H1815.5V196.6" stroke="#000" stroke-width="1.6" fill="none"/>
<path d="M1523.4 196.6V187.4M1523.4 434.2V443.8M1567.72 196.6V187.4M1567.72 434.2V443.8M1612.03 196.6V187.4M1612.03 434.2V443.8M1656.35 196.6V187.4M1656.35 434.2V443.8M1700.66 196.6V187.4M1700.66 434.2V443.8M1744.98 196.6V187.4M1744.98 434.2V443.8M1789.29 196.6V187.4M1789.29 434.2V443.8M1514.5 416.2H1505.5M1815.5 416.2H1824.5M1514.5 371.2H1505.5M1815.5 371.2H1824.5M1514.5 325.2H1505.5M1815.5 325.2H1824.5M1514.5 277.4H1505.5M1815.5 277.4H1824.5M1514.5 228.2H1505.5M1815.5 228.2H1824.5" stroke="#000" stroke-width="2.8"/>
<path d="M1514.54 196.6V193.4M1514.54 434.2V437.4M1532.26 196.6V193.4M1532.26 434.2V437.4M1541.13 196.6V193.4M1541.13 434.2V437.4M1549.99 196.6V193.4M1549.99 434.2V437.4M1558.85 196.6V193.4M1558.85 434.2V437.4M1576.58 196.6V193.4M1576.58 434.2V437.4M1585.44 196.6V193.4M1585.44 434.2V437.4M1594.3 196.6V193.4M1594.3 434.2V437.4M1603.17 196.6V193.4M1603.17 434.2V437.4M1620.89 196.6V193.4M1620.89 434.2V437.4M1629.76 196.6V193.4M1629.76 434.2V437.4M1638.62 196.6V193.4M1638.62 434.2V437.4M1647.48 196.6V193.4M1647.48 434.2V437.4M1665.21 196.6V193.4M1665.21 434.2V437.4M1674.07 196.6V193.4M1674.07 434.2V437.4M1682.93 196.6V193.4M1682.93 434.2V437.4M1691.8 196.6V193.4M1691.8 434.2V437.4M1709.52 196.6V193.4M1709.52 434.2V437.4M1718.39 196.6V193.4M1718.39 434.2V437.4M1727.25 196.6V193.4M1727.25 434.2V437.4M1736.11 196.6V193.4M1736.11 434.2V437.4M1753.84 196.6V193.4M1753.84 434.2V437.4M1762.7 196.6V193.4M1762.7 434.2V437.4M1771.56 196.6V193.4M1771.56 434.2V437.4M1780.43 196.6V193.4M1780.43 434.2V437.4M1798.15 196.6V193.4M1798.15 434.2V437.4M1807.02 196.6V193.4M1807.02 434.2V437.4M1815.88 196.6V193.4M1815.88 434.2V437.4M1514.5 433.9H1511.3M1815.5 433.9H1818.7M1514.5 424.9H1511.3M1815.5 424.9H1818.7M1514.5 406.6H1511.3M1815.5 406.6H1818.7M1514.5 398H1511.3M1815.5 398H1818.7M1514.5 389H1511.3M1815.5 389H1818.7M1514.5 380H1511.3M1815.5 380H1818.7M1514.5 361.7H1511.3M1815.5 361.7H1818.7M1514.5 352.8H1511.3M1815.5 352.8H1818.7M1514.5 343.9H1511.3M1815.5 343.9H1818.7M1514.5 333.8H1511.3M1815.5 333.8H1818.7M1514.5 315.8H1511.3M1815.5 315.8H1818.7M1514.5 306H1511.3M1815.5 306H1818.7M1514.5 296.9H1511.3M1815.5 296.9H1818.7M1514.5 286.8H1511.3M1815.5 286.8H1818.7M1514.5 267.7H1511.3M1815.5 267.7H1818.7M1514.5 258.1H1511.3M1815.5 258.1H1818.7M1514.5 247.6H1511.3M1815.5 247.6H1818.7M1514.5 238H1511.3M1815.5 238H1818.7M1514.5 217.8H1511.3M1815.5 217.8H1818.7M1514.5 207.1H1511.3M1815.5 207.1H1818.7M1514.5 196.6H1511.3M1815.5 196.6H1818.7" stroke="#000" stroke-width="1.6"/>
<text x="1464.81" y="422" font-size="14.73" textLength="34.58" lengthAdjust="spacingAndGlyphs">10°N</text>
<text x="1464.81" y="377" font-size="14.73" textLength="34.58" lengthAdjust="spacingAndGlyphs">15°N</text>
<text x="1464.7" y="331" font-size="14.73" textLength="34.7" lengthAdjust="spacingAndGlyphs">20°N</text>
<text x="1464.7" y="283" font-size="14.73" textLength="34.7" lengthAdjust="spacingAndGlyphs">25°N</text>
<text x="1464.94" y="234" font-size="14.73" textLength="34.46" lengthAdjust="spacingAndGlyphs">30°N</text>
<text x="1500.14" y="460" font-size="14.73" textLength="46.47" lengthAdjust="spacingAndGlyphs">125°W</text>
<text x="1544.45" y="460" font-size="14.73" textLength="46.47" lengthAdjust="spacingAndGlyphs">120°W</text>
<text x="1588.77" y="460" font-size="14.73" textLength="46.47" lengthAdjust="spacingAndGlyphs">115°W</text>
<text x="1633.08" y="460" font-size="14.73" textLength="46.47" lengthAdjust="spacingAndGlyphs">110°W</text>
<text x="1677.4" y="460" font-size="14.73" textLength="46.47" lengthAdjust="spacingAndGlyphs">105°W</text>
<text x="1721.71" y="460" font-size="14.73" textLength="46.47" lengthAdjust="spacingAndGlyphs">100°W</text>
<text x="1770.25" y="460" font-size="14.73" textLength="37.83" lengthAdjust="spacingAndGlyphs">95°W</text>
<rect x="1506.1" y="486" width="317.7" height="126.8" rx="4" fill="#fff" stroke="#d6d6d6" stroke-width="1.4"/>
<path d="M1514 503.7H1557.8" stroke="#0000ff" stroke-width="2.7"/>
<circle cx="1535.5" cy="503.7" r="5.55" fill="#0000ff"/>
<text x="1573.47" y="511" font-size="22.11" textLength="242.34" lengthAdjust="spacingAndGlyphs">4903551 [-96.98, 21.9]</text>
<path d="M1514 533.7H1557.8" stroke="#008000" stroke-width="2.7"/>
<circle cx="1535.5" cy="533.7" r="5.55" fill="#008000"/>
<text x="1573.17" y="541" font-size="22.11" textLength="216.47" lengthAdjust="spacingAndGlyphs">ESPC [-96.96, 21.92]</text>
<path d="M1514 564.7H1557.8" stroke="#ff0000" stroke-width="2.7"/>
<circle cx="1535.5" cy="564.7" r="5.55" fill="#ff0000"/>
<text x="1573.17" y="572" font-size="22.11" textLength="231.81" lengthAdjust="spacingAndGlyphs">RTOFS [-96.96, 21.92]</text>
<path d="M1514 594.7H1557.8" stroke="#ff00ff" stroke-width="2.7"/>
<circle cx="1535.5" cy="594.7" r="5.55" fill="#ff00ff"/>
<text x="1573.01" y="602" font-size="22.11" textLength="240.07" lengthAdjust="spacingAndGlyphs">CMEMS [-97.00, 21.92]</text>
</svg>
</div>
</body></html>
